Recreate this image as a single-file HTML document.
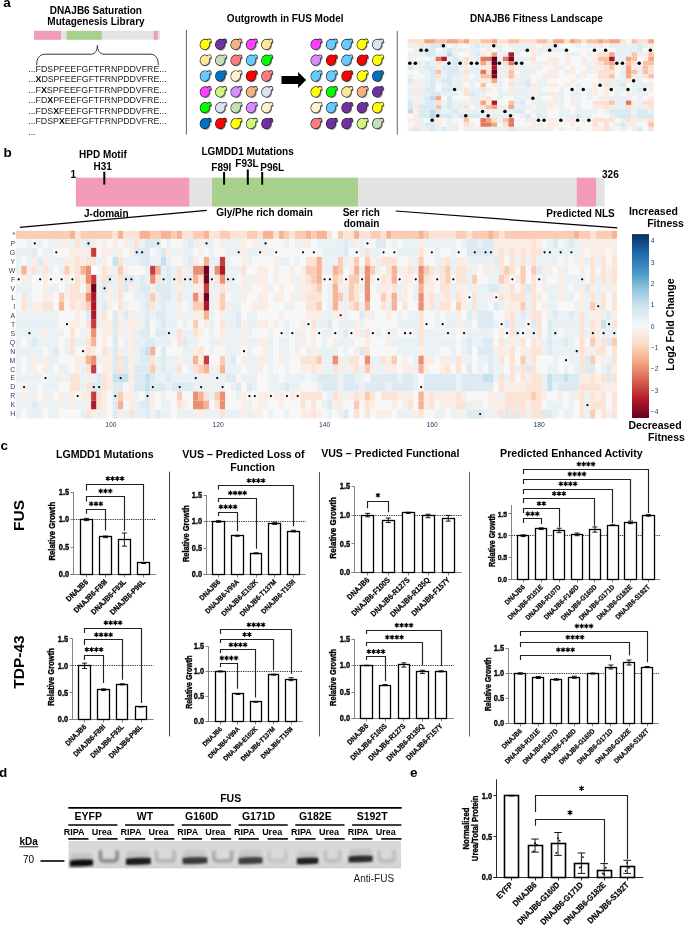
<!DOCTYPE html>
<html><head><meta charset="utf-8"><title>DNAJB6 figure</title>
<style>html,body{margin:0;padding:0;background:#fff;}body{width:685px;height:927px;overflow:hidden;font-family:"Liberation Sans",sans-serif;}svg{display:block;will-change:transform;}</style>
</head><body>
<svg width="685" height="927" viewBox="0 0 685 927" font-family='"Liberation Sans", sans-serif'><text x="3.2" y="7.4" font-size="13.5" font-weight="bold" text-anchor="start" fill="#000">a</text>
<text x="95.8" y="13.6" font-size="10" font-weight="bold" text-anchor="middle" fill="#000">DNAJB6 Saturation</text>
<text x="96" y="25" font-size="10" font-weight="bold" text-anchor="middle" fill="#000">Mutagenesis Library</text>
<rect x="34" y="30.8" width="126" height="8.9" fill="#e3e3e3"/>
<rect x="34" y="30.8" width="27" height="8.9" fill="#f29bbb"/>
<rect x="66.7" y="30.8" width="35.1" height="8.9" fill="#a9d18e"/>
<rect x="153.6" y="30.8" width="4.2" height="8.9" fill="#f29bbb"/>
<path d="M36.7,65 C36.7,58.5 39,54.2 46,54.2 L91,54.2 C95.5,54.2 97.4,50 97.4,45.2 C97.4,50 99.5,54.2 104,54.2 L150,54.2 C156,54.2 158.3,58.5 158.3,65" fill="none" stroke="#333" stroke-width="1"/>
<text x="28.2" y="71.9" font-size="8.8" fill="#222" textLength="138.5" lengthAdjust="spacingAndGlyphs">...FDSPFEEFGFTFRNPDDVFRE...</text>
<text x="28.2" y="82.38" font-size="8.8" fill="#222" textLength="138.5" lengthAdjust="spacingAndGlyphs">...<tspan font-weight="bold" fill="#000">X</tspan>DSPFEEFGFTFRNPDDVFRE...</text>
<text x="28.2" y="92.86" font-size="8.8" fill="#222" textLength="138.5" lengthAdjust="spacingAndGlyphs">...F<tspan font-weight="bold" fill="#000">X</tspan>SPFEEFGFTFRNPDDVFRE...</text>
<text x="28.2" y="103.34" font-size="8.8" fill="#222" textLength="138.5" lengthAdjust="spacingAndGlyphs">...FD<tspan font-weight="bold" fill="#000">X</tspan>PFEEFGFTFRNPDDVFRE...</text>
<text x="28.2" y="113.82" font-size="8.8" fill="#222" textLength="138.5" lengthAdjust="spacingAndGlyphs">...FDS<tspan font-weight="bold" fill="#000">X</tspan>FEEFGFTFRNPDDVFRE...</text>
<text x="28.2" y="124.3" font-size="8.8" fill="#222" textLength="138.5" lengthAdjust="spacingAndGlyphs">...FDSP<tspan font-weight="bold" fill="#000">X</tspan>EEFGFTFRNPDDVFRE...</text>
<text x="28.2" y="135.1" font-size="8.8" fill="#222">...</text>
<line x1="186.4" y1="29.9" x2="186.4" y2="134.6" stroke="#666" stroke-width="1"/>
<line x1="397.3" y1="30.9" x2="397.3" y2="134.6" stroke="#6a6a6a" stroke-width="1"/>
<text x="285.2" y="21.6" font-size="10" font-weight="bold" text-anchor="middle" fill="#000">Outgrowth in FUS Model</text>
<text x="536.4" y="22.4" font-size="10" font-weight="bold" text-anchor="middle" fill="#000">DNAJB6 Fitness Landscape</text>
<defs><filter id="sh" x="-30%" y="-30%" width="160%" height="160%"><feGaussianBlur stdDeviation="0.7"/></filter></defs>
<g fill="#444" opacity="0.6" filter="url(#sh)" transform="translate(1.2,1.3)"><ellipse cx="204.85" cy="44.3" rx="4.45" ry="4.95" transform="rotate(20 204.85 44.3)"/><circle cx="209.2" cy="40.9" r="1.7"/></g>
<g fill="none" stroke="#1a1a1a" stroke-width="1.25"><ellipse cx="204.85" cy="44.3" rx="4.45" ry="4.95" transform="rotate(20 204.85 44.3)"/><circle cx="209.2" cy="40.9" r="1.7"/></g>
<g fill="#ffff00"><ellipse cx="204.85" cy="44.3" rx="4.45" ry="4.95" transform="rotate(20 204.85 44.3)"/><circle cx="209.2" cy="40.9" r="1.7"/></g>
<g fill="#444" opacity="0.6" filter="url(#sh)" transform="translate(1.2,1.3)"><ellipse cx="220.23" cy="44.3" rx="4.45" ry="4.95" transform="rotate(20 220.23 44.3)"/><circle cx="224.58" cy="40.9" r="1.7"/></g>
<g fill="none" stroke="#1a1a1a" stroke-width="1.25"><ellipse cx="220.23" cy="44.3" rx="4.45" ry="4.95" transform="rotate(20 220.23 44.3)"/><circle cx="224.58" cy="40.9" r="1.7"/></g>
<g fill="#7030a0"><ellipse cx="220.23" cy="44.3" rx="4.45" ry="4.95" transform="rotate(20 220.23 44.3)"/><circle cx="224.58" cy="40.9" r="1.7"/></g>
<g fill="#444" opacity="0.6" filter="url(#sh)" transform="translate(1.2,1.3)"><ellipse cx="235.61" cy="44.3" rx="4.45" ry="4.95" transform="rotate(20 235.61 44.3)"/><circle cx="239.96" cy="40.9" r="1.7"/></g>
<g fill="none" stroke="#1a1a1a" stroke-width="1.25"><ellipse cx="235.61" cy="44.3" rx="4.45" ry="4.95" transform="rotate(20 235.61 44.3)"/><circle cx="239.96" cy="40.9" r="1.7"/></g>
<g fill="#f4b183"><ellipse cx="235.61" cy="44.3" rx="4.45" ry="4.95" transform="rotate(20 235.61 44.3)"/><circle cx="239.96" cy="40.9" r="1.7"/></g>
<g fill="#444" opacity="0.6" filter="url(#sh)" transform="translate(1.2,1.3)"><ellipse cx="250.99" cy="44.3" rx="4.45" ry="4.95" transform="rotate(20 250.99 44.3)"/><circle cx="255.34" cy="40.9" r="1.7"/></g>
<g fill="none" stroke="#1a1a1a" stroke-width="1.25"><ellipse cx="250.99" cy="44.3" rx="4.45" ry="4.95" transform="rotate(20 250.99 44.3)"/><circle cx="255.34" cy="40.9" r="1.7"/></g>
<g fill="#ff40ff"><ellipse cx="250.99" cy="44.3" rx="4.45" ry="4.95" transform="rotate(20 250.99 44.3)"/><circle cx="255.34" cy="40.9" r="1.7"/></g>
<g fill="#444" opacity="0.6" filter="url(#sh)" transform="translate(1.2,1.3)"><ellipse cx="266.37" cy="44.3" rx="4.45" ry="4.95" transform="rotate(20 266.37 44.3)"/><circle cx="270.72" cy="40.9" r="1.7"/></g>
<g fill="none" stroke="#1a1a1a" stroke-width="1.25"><ellipse cx="266.37" cy="44.3" rx="4.45" ry="4.95" transform="rotate(20 266.37 44.3)"/><circle cx="270.72" cy="40.9" r="1.7"/></g>
<g fill="#ffe699"><ellipse cx="266.37" cy="44.3" rx="4.45" ry="4.95" transform="rotate(20 266.37 44.3)"/><circle cx="270.72" cy="40.9" r="1.7"/></g>
<g fill="#444" opacity="0.6" filter="url(#sh)" transform="translate(1.2,1.3)"><ellipse cx="204.85" cy="60.14" rx="4.45" ry="4.95" transform="rotate(20 204.85 60.14)"/><circle cx="209.2" cy="56.74" r="1.7"/></g>
<g fill="none" stroke="#1a1a1a" stroke-width="1.25"><ellipse cx="204.85" cy="60.14" rx="4.45" ry="4.95" transform="rotate(20 204.85 60.14)"/><circle cx="209.2" cy="56.74" r="1.7"/></g>
<g fill="#ffe699"><ellipse cx="204.85" cy="60.14" rx="4.45" ry="4.95" transform="rotate(20 204.85 60.14)"/><circle cx="209.2" cy="56.74" r="1.7"/></g>
<g fill="#444" opacity="0.6" filter="url(#sh)" transform="translate(1.2,1.3)"><ellipse cx="220.23" cy="60.14" rx="4.45" ry="4.95" transform="rotate(20 220.23 60.14)"/><circle cx="224.58" cy="56.74" r="1.7"/></g>
<g fill="none" stroke="#1a1a1a" stroke-width="1.25"><ellipse cx="220.23" cy="60.14" rx="4.45" ry="4.95" transform="rotate(20 220.23 60.14)"/><circle cx="224.58" cy="56.74" r="1.7"/></g>
<g fill="#c5e0b4"><ellipse cx="220.23" cy="60.14" rx="4.45" ry="4.95" transform="rotate(20 220.23 60.14)"/><circle cx="224.58" cy="56.74" r="1.7"/></g>
<g fill="#444" opacity="0.6" filter="url(#sh)" transform="translate(1.2,1.3)"><ellipse cx="235.61" cy="60.14" rx="4.45" ry="4.95" transform="rotate(20 235.61 60.14)"/><circle cx="239.96" cy="56.74" r="1.7"/></g>
<g fill="none" stroke="#1a1a1a" stroke-width="1.25"><ellipse cx="235.61" cy="60.14" rx="4.45" ry="4.95" transform="rotate(20 235.61 60.14)"/><circle cx="239.96" cy="56.74" r="1.7"/></g>
<g fill="#ff7c80"><ellipse cx="235.61" cy="60.14" rx="4.45" ry="4.95" transform="rotate(20 235.61 60.14)"/><circle cx="239.96" cy="56.74" r="1.7"/></g>
<g fill="#444" opacity="0.6" filter="url(#sh)" transform="translate(1.2,1.3)"><ellipse cx="250.99" cy="60.14" rx="4.45" ry="4.95" transform="rotate(20 250.99 60.14)"/><circle cx="255.34" cy="56.74" r="1.7"/></g>
<g fill="none" stroke="#1a1a1a" stroke-width="1.25"><ellipse cx="250.99" cy="60.14" rx="4.45" ry="4.95" transform="rotate(20 250.99 60.14)"/><circle cx="255.34" cy="56.74" r="1.7"/></g>
<g fill="#66ccff"><ellipse cx="250.99" cy="60.14" rx="4.45" ry="4.95" transform="rotate(20 250.99 60.14)"/><circle cx="255.34" cy="56.74" r="1.7"/></g>
<g fill="#444" opacity="0.6" filter="url(#sh)" transform="translate(1.2,1.3)"><ellipse cx="266.37" cy="60.14" rx="4.45" ry="4.95" transform="rotate(20 266.37 60.14)"/><circle cx="270.72" cy="56.74" r="1.7"/></g>
<g fill="none" stroke="#1a1a1a" stroke-width="1.25"><ellipse cx="266.37" cy="60.14" rx="4.45" ry="4.95" transform="rotate(20 266.37 60.14)"/><circle cx="270.72" cy="56.74" r="1.7"/></g>
<g fill="#00ff00"><ellipse cx="266.37" cy="60.14" rx="4.45" ry="4.95" transform="rotate(20 266.37 60.14)"/><circle cx="270.72" cy="56.74" r="1.7"/></g>
<g fill="#444" opacity="0.6" filter="url(#sh)" transform="translate(1.2,1.3)"><ellipse cx="204.85" cy="75.98" rx="4.45" ry="4.95" transform="rotate(20 204.85 75.98)"/><circle cx="209.2" cy="72.58" r="1.7"/></g>
<g fill="none" stroke="#1a1a1a" stroke-width="1.25"><ellipse cx="204.85" cy="75.98" rx="4.45" ry="4.95" transform="rotate(20 204.85 75.98)"/><circle cx="209.2" cy="72.58" r="1.7"/></g>
<g fill="#66ccff"><ellipse cx="204.85" cy="75.98" rx="4.45" ry="4.95" transform="rotate(20 204.85 75.98)"/><circle cx="209.2" cy="72.58" r="1.7"/></g>
<g fill="#444" opacity="0.6" filter="url(#sh)" transform="translate(1.2,1.3)"><ellipse cx="220.23" cy="75.98" rx="4.45" ry="4.95" transform="rotate(20 220.23 75.98)"/><circle cx="224.58" cy="72.58" r="1.7"/></g>
<g fill="none" stroke="#1a1a1a" stroke-width="1.25"><ellipse cx="220.23" cy="75.98" rx="4.45" ry="4.95" transform="rotate(20 220.23 75.98)"/><circle cx="224.58" cy="72.58" r="1.7"/></g>
<g fill="#0070c0"><ellipse cx="220.23" cy="75.98" rx="4.45" ry="4.95" transform="rotate(20 220.23 75.98)"/><circle cx="224.58" cy="72.58" r="1.7"/></g>
<g fill="#444" opacity="0.6" filter="url(#sh)" transform="translate(1.2,1.3)"><ellipse cx="235.61" cy="75.98" rx="4.45" ry="4.95" transform="rotate(20 235.61 75.98)"/><circle cx="239.96" cy="72.58" r="1.7"/></g>
<g fill="none" stroke="#1a1a1a" stroke-width="1.25"><ellipse cx="235.61" cy="75.98" rx="4.45" ry="4.95" transform="rotate(20 235.61 75.98)"/><circle cx="239.96" cy="72.58" r="1.7"/></g>
<g fill="#fff2cc"><ellipse cx="235.61" cy="75.98" rx="4.45" ry="4.95" transform="rotate(20 235.61 75.98)"/><circle cx="239.96" cy="72.58" r="1.7"/></g>
<g fill="#444" opacity="0.6" filter="url(#sh)" transform="translate(1.2,1.3)"><ellipse cx="250.99" cy="75.98" rx="4.45" ry="4.95" transform="rotate(20 250.99 75.98)"/><circle cx="255.34" cy="72.58" r="1.7"/></g>
<g fill="none" stroke="#1a1a1a" stroke-width="1.25"><ellipse cx="250.99" cy="75.98" rx="4.45" ry="4.95" transform="rotate(20 250.99 75.98)"/><circle cx="255.34" cy="72.58" r="1.7"/></g>
<g fill="#ff0000"><ellipse cx="250.99" cy="75.98" rx="4.45" ry="4.95" transform="rotate(20 250.99 75.98)"/><circle cx="255.34" cy="72.58" r="1.7"/></g>
<g fill="#444" opacity="0.6" filter="url(#sh)" transform="translate(1.2,1.3)"><ellipse cx="266.37" cy="75.98" rx="4.45" ry="4.95" transform="rotate(20 266.37 75.98)"/><circle cx="270.72" cy="72.58" r="1.7"/></g>
<g fill="none" stroke="#1a1a1a" stroke-width="1.25"><ellipse cx="266.37" cy="75.98" rx="4.45" ry="4.95" transform="rotate(20 266.37 75.98)"/><circle cx="270.72" cy="72.58" r="1.7"/></g>
<g fill="#ff7c80"><ellipse cx="266.37" cy="75.98" rx="4.45" ry="4.95" transform="rotate(20 266.37 75.98)"/><circle cx="270.72" cy="72.58" r="1.7"/></g>
<g fill="#444" opacity="0.6" filter="url(#sh)" transform="translate(1.2,1.3)"><ellipse cx="204.85" cy="91.82" rx="4.45" ry="4.95" transform="rotate(20 204.85 91.82)"/><circle cx="209.2" cy="88.42" r="1.7"/></g>
<g fill="none" stroke="#1a1a1a" stroke-width="1.25"><ellipse cx="204.85" cy="91.82" rx="4.45" ry="4.95" transform="rotate(20 204.85 91.82)"/><circle cx="209.2" cy="88.42" r="1.7"/></g>
<g fill="#ff40ff"><ellipse cx="204.85" cy="91.82" rx="4.45" ry="4.95" transform="rotate(20 204.85 91.82)"/><circle cx="209.2" cy="88.42" r="1.7"/></g>
<g fill="#444" opacity="0.6" filter="url(#sh)" transform="translate(1.2,1.3)"><ellipse cx="220.23" cy="91.82" rx="4.45" ry="4.95" transform="rotate(20 220.23 91.82)"/><circle cx="224.58" cy="88.42" r="1.7"/></g>
<g fill="none" stroke="#1a1a1a" stroke-width="1.25"><ellipse cx="220.23" cy="91.82" rx="4.45" ry="4.95" transform="rotate(20 220.23 91.82)"/><circle cx="224.58" cy="88.42" r="1.7"/></g>
<g fill="#d2f57d"><ellipse cx="220.23" cy="91.82" rx="4.45" ry="4.95" transform="rotate(20 220.23 91.82)"/><circle cx="224.58" cy="88.42" r="1.7"/></g>
<g fill="#444" opacity="0.6" filter="url(#sh)" transform="translate(1.2,1.3)"><ellipse cx="235.61" cy="91.82" rx="4.45" ry="4.95" transform="rotate(20 235.61 91.82)"/><circle cx="239.96" cy="88.42" r="1.7"/></g>
<g fill="none" stroke="#1a1a1a" stroke-width="1.25"><ellipse cx="235.61" cy="91.82" rx="4.45" ry="4.95" transform="rotate(20 235.61 91.82)"/><circle cx="239.96" cy="88.42" r="1.7"/></g>
<g fill="#d98cff"><ellipse cx="235.61" cy="91.82" rx="4.45" ry="4.95" transform="rotate(20 235.61 91.82)"/><circle cx="239.96" cy="88.42" r="1.7"/></g>
<g fill="#444" opacity="0.6" filter="url(#sh)" transform="translate(1.2,1.3)"><ellipse cx="250.99" cy="91.82" rx="4.45" ry="4.95" transform="rotate(20 250.99 91.82)"/><circle cx="255.34" cy="88.42" r="1.7"/></g>
<g fill="none" stroke="#1a1a1a" stroke-width="1.25"><ellipse cx="250.99" cy="91.82" rx="4.45" ry="4.95" transform="rotate(20 250.99 91.82)"/><circle cx="255.34" cy="88.42" r="1.7"/></g>
<g fill="#f4b183"><ellipse cx="250.99" cy="91.82" rx="4.45" ry="4.95" transform="rotate(20 250.99 91.82)"/><circle cx="255.34" cy="88.42" r="1.7"/></g>
<g fill="#444" opacity="0.6" filter="url(#sh)" transform="translate(1.2,1.3)"><ellipse cx="266.37" cy="91.82" rx="4.45" ry="4.95" transform="rotate(20 266.37 91.82)"/><circle cx="270.72" cy="88.42" r="1.7"/></g>
<g fill="none" stroke="#1a1a1a" stroke-width="1.25"><ellipse cx="266.37" cy="91.82" rx="4.45" ry="4.95" transform="rotate(20 266.37 91.82)"/><circle cx="270.72" cy="88.42" r="1.7"/></g>
<g fill="#dae3f3"><ellipse cx="266.37" cy="91.82" rx="4.45" ry="4.95" transform="rotate(20 266.37 91.82)"/><circle cx="270.72" cy="88.42" r="1.7"/></g>
<g fill="#444" opacity="0.6" filter="url(#sh)" transform="translate(1.2,1.3)"><ellipse cx="204.85" cy="107.66" rx="4.45" ry="4.95" transform="rotate(20 204.85 107.66)"/><circle cx="209.2" cy="104.26" r="1.7"/></g>
<g fill="none" stroke="#1a1a1a" stroke-width="1.25"><ellipse cx="204.85" cy="107.66" rx="4.45" ry="4.95" transform="rotate(20 204.85 107.66)"/><circle cx="209.2" cy="104.26" r="1.7"/></g>
<g fill="#00ff00"><ellipse cx="204.85" cy="107.66" rx="4.45" ry="4.95" transform="rotate(20 204.85 107.66)"/><circle cx="209.2" cy="104.26" r="1.7"/></g>
<g fill="#444" opacity="0.6" filter="url(#sh)" transform="translate(1.2,1.3)"><ellipse cx="220.23" cy="107.66" rx="4.45" ry="4.95" transform="rotate(20 220.23 107.66)"/><circle cx="224.58" cy="104.26" r="1.7"/></g>
<g fill="none" stroke="#1a1a1a" stroke-width="1.25"><ellipse cx="220.23" cy="107.66" rx="4.45" ry="4.95" transform="rotate(20 220.23 107.66)"/><circle cx="224.58" cy="104.26" r="1.7"/></g>
<g fill="#dae3f3"><ellipse cx="220.23" cy="107.66" rx="4.45" ry="4.95" transform="rotate(20 220.23 107.66)"/><circle cx="224.58" cy="104.26" r="1.7"/></g>
<g fill="#444" opacity="0.6" filter="url(#sh)" transform="translate(1.2,1.3)"><ellipse cx="235.61" cy="107.66" rx="4.45" ry="4.95" transform="rotate(20 235.61 107.66)"/><circle cx="239.96" cy="104.26" r="1.7"/></g>
<g fill="none" stroke="#1a1a1a" stroke-width="1.25"><ellipse cx="235.61" cy="107.66" rx="4.45" ry="4.95" transform="rotate(20 235.61 107.66)"/><circle cx="239.96" cy="104.26" r="1.7"/></g>
<g fill="#c5e0b4"><ellipse cx="235.61" cy="107.66" rx="4.45" ry="4.95" transform="rotate(20 235.61 107.66)"/><circle cx="239.96" cy="104.26" r="1.7"/></g>
<g fill="#444" opacity="0.6" filter="url(#sh)" transform="translate(1.2,1.3)"><ellipse cx="250.99" cy="107.66" rx="4.45" ry="4.95" transform="rotate(20 250.99 107.66)"/><circle cx="255.34" cy="104.26" r="1.7"/></g>
<g fill="none" stroke="#1a1a1a" stroke-width="1.25"><ellipse cx="250.99" cy="107.66" rx="4.45" ry="4.95" transform="rotate(20 250.99 107.66)"/><circle cx="255.34" cy="104.26" r="1.7"/></g>
<g fill="#d98cff"><ellipse cx="250.99" cy="107.66" rx="4.45" ry="4.95" transform="rotate(20 250.99 107.66)"/><circle cx="255.34" cy="104.26" r="1.7"/></g>
<g fill="#444" opacity="0.6" filter="url(#sh)" transform="translate(1.2,1.3)"><ellipse cx="266.37" cy="107.66" rx="4.45" ry="4.95" transform="rotate(20 266.37 107.66)"/><circle cx="270.72" cy="104.26" r="1.7"/></g>
<g fill="none" stroke="#1a1a1a" stroke-width="1.25"><ellipse cx="266.37" cy="107.66" rx="4.45" ry="4.95" transform="rotate(20 266.37 107.66)"/><circle cx="270.72" cy="104.26" r="1.7"/></g>
<g fill="#fff2cc"><ellipse cx="266.37" cy="107.66" rx="4.45" ry="4.95" transform="rotate(20 266.37 107.66)"/><circle cx="270.72" cy="104.26" r="1.7"/></g>
<g fill="#444" opacity="0.6" filter="url(#sh)" transform="translate(1.2,1.3)"><ellipse cx="204.85" cy="123.5" rx="4.45" ry="4.95" transform="rotate(20 204.85 123.5)"/><circle cx="209.2" cy="120.1" r="1.7"/></g>
<g fill="none" stroke="#1a1a1a" stroke-width="1.25"><ellipse cx="204.85" cy="123.5" rx="4.45" ry="4.95" transform="rotate(20 204.85 123.5)"/><circle cx="209.2" cy="120.1" r="1.7"/></g>
<g fill="#0070c0"><ellipse cx="204.85" cy="123.5" rx="4.45" ry="4.95" transform="rotate(20 204.85 123.5)"/><circle cx="209.2" cy="120.1" r="1.7"/></g>
<g fill="#444" opacity="0.6" filter="url(#sh)" transform="translate(1.2,1.3)"><ellipse cx="220.23" cy="123.5" rx="4.45" ry="4.95" transform="rotate(20 220.23 123.5)"/><circle cx="224.58" cy="120.1" r="1.7"/></g>
<g fill="none" stroke="#1a1a1a" stroke-width="1.25"><ellipse cx="220.23" cy="123.5" rx="4.45" ry="4.95" transform="rotate(20 220.23 123.5)"/><circle cx="224.58" cy="120.1" r="1.7"/></g>
<g fill="#ff0000"><ellipse cx="220.23" cy="123.5" rx="4.45" ry="4.95" transform="rotate(20 220.23 123.5)"/><circle cx="224.58" cy="120.1" r="1.7"/></g>
<g fill="#444" opacity="0.6" filter="url(#sh)" transform="translate(1.2,1.3)"><ellipse cx="235.61" cy="123.5" rx="4.45" ry="4.95" transform="rotate(20 235.61 123.5)"/><circle cx="239.96" cy="120.1" r="1.7"/></g>
<g fill="none" stroke="#1a1a1a" stroke-width="1.25"><ellipse cx="235.61" cy="123.5" rx="4.45" ry="4.95" transform="rotate(20 235.61 123.5)"/><circle cx="239.96" cy="120.1" r="1.7"/></g>
<g fill="#ffff00"><ellipse cx="235.61" cy="123.5" rx="4.45" ry="4.95" transform="rotate(20 235.61 123.5)"/><circle cx="239.96" cy="120.1" r="1.7"/></g>
<g fill="#444" opacity="0.6" filter="url(#sh)" transform="translate(1.2,1.3)"><ellipse cx="250.99" cy="123.5" rx="4.45" ry="4.95" transform="rotate(20 250.99 123.5)"/><circle cx="255.34" cy="120.1" r="1.7"/></g>
<g fill="none" stroke="#1a1a1a" stroke-width="1.25"><ellipse cx="250.99" cy="123.5" rx="4.45" ry="4.95" transform="rotate(20 250.99 123.5)"/><circle cx="255.34" cy="120.1" r="1.7"/></g>
<g fill="#d2f57d"><ellipse cx="250.99" cy="123.5" rx="4.45" ry="4.95" transform="rotate(20 250.99 123.5)"/><circle cx="255.34" cy="120.1" r="1.7"/></g>
<g fill="#444" opacity="0.6" filter="url(#sh)" transform="translate(1.2,1.3)"><ellipse cx="266.37" cy="123.5" rx="4.45" ry="4.95" transform="rotate(20 266.37 123.5)"/><circle cx="270.72" cy="120.1" r="1.7"/></g>
<g fill="none" stroke="#1a1a1a" stroke-width="1.25"><ellipse cx="266.37" cy="123.5" rx="4.45" ry="4.95" transform="rotate(20 266.37 123.5)"/><circle cx="270.72" cy="120.1" r="1.7"/></g>
<g fill="#7030a0"><ellipse cx="266.37" cy="123.5" rx="4.45" ry="4.95" transform="rotate(20 266.37 123.5)"/><circle cx="270.72" cy="120.1" r="1.7"/></g>
<g fill="#444" opacity="0.6" filter="url(#sh)" transform="translate(1.2,1.3)"><ellipse cx="315.65" cy="44.3" rx="4.45" ry="4.95" transform="rotate(20 315.65 44.3)"/><circle cx="320" cy="40.9" r="1.7"/></g>
<g fill="none" stroke="#1a1a1a" stroke-width="1.25"><ellipse cx="315.65" cy="44.3" rx="4.45" ry="4.95" transform="rotate(20 315.65 44.3)"/><circle cx="320" cy="40.9" r="1.7"/></g>
<g fill="#ff40ff"><ellipse cx="315.65" cy="44.3" rx="4.45" ry="4.95" transform="rotate(20 315.65 44.3)"/><circle cx="320" cy="40.9" r="1.7"/></g>
<g fill="#444" opacity="0.6" filter="url(#sh)" transform="translate(1.2,1.3)"><ellipse cx="331.03" cy="44.3" rx="4.45" ry="4.95" transform="rotate(20 331.03 44.3)"/><circle cx="335.38" cy="40.9" r="1.7"/></g>
<g fill="none" stroke="#1a1a1a" stroke-width="1.25"><ellipse cx="331.03" cy="44.3" rx="4.45" ry="4.95" transform="rotate(20 331.03 44.3)"/><circle cx="335.38" cy="40.9" r="1.7"/></g>
<g fill="#66ccff"><ellipse cx="331.03" cy="44.3" rx="4.45" ry="4.95" transform="rotate(20 331.03 44.3)"/><circle cx="335.38" cy="40.9" r="1.7"/></g>
<g fill="#444" opacity="0.6" filter="url(#sh)" transform="translate(1.2,1.3)"><ellipse cx="346.41" cy="44.3" rx="4.45" ry="4.95" transform="rotate(20 346.41 44.3)"/><circle cx="350.76" cy="40.9" r="1.7"/></g>
<g fill="none" stroke="#1a1a1a" stroke-width="1.25"><ellipse cx="346.41" cy="44.3" rx="4.45" ry="4.95" transform="rotate(20 346.41 44.3)"/><circle cx="350.76" cy="40.9" r="1.7"/></g>
<g fill="#66ccff"><ellipse cx="346.41" cy="44.3" rx="4.45" ry="4.95" transform="rotate(20 346.41 44.3)"/><circle cx="350.76" cy="40.9" r="1.7"/></g>
<g fill="#444" opacity="0.6" filter="url(#sh)" transform="translate(1.2,1.3)"><ellipse cx="361.79" cy="44.3" rx="4.45" ry="4.95" transform="rotate(20 361.79 44.3)"/><circle cx="366.14" cy="40.9" r="1.7"/></g>
<g fill="none" stroke="#1a1a1a" stroke-width="1.25"><ellipse cx="361.79" cy="44.3" rx="4.45" ry="4.95" transform="rotate(20 361.79 44.3)"/><circle cx="366.14" cy="40.9" r="1.7"/></g>
<g fill="#ffff00"><ellipse cx="361.79" cy="44.3" rx="4.45" ry="4.95" transform="rotate(20 361.79 44.3)"/><circle cx="366.14" cy="40.9" r="1.7"/></g>
<g fill="#444" opacity="0.6" filter="url(#sh)" transform="translate(1.2,1.3)"><ellipse cx="377.17" cy="44.3" rx="4.45" ry="4.95" transform="rotate(20 377.17 44.3)"/><circle cx="381.52" cy="40.9" r="1.7"/></g>
<g fill="none" stroke="#1a1a1a" stroke-width="1.25"><ellipse cx="377.17" cy="44.3" rx="4.45" ry="4.95" transform="rotate(20 377.17 44.3)"/><circle cx="381.52" cy="40.9" r="1.7"/></g>
<g fill="#dae3f3"><ellipse cx="377.17" cy="44.3" rx="4.45" ry="4.95" transform="rotate(20 377.17 44.3)"/><circle cx="381.52" cy="40.9" r="1.7"/></g>
<g fill="#444" opacity="0.6" filter="url(#sh)" transform="translate(1.2,1.3)"><ellipse cx="315.65" cy="60.14" rx="4.45" ry="4.95" transform="rotate(20 315.65 60.14)"/><circle cx="320" cy="56.74" r="1.7"/></g>
<g fill="none" stroke="#1a1a1a" stroke-width="1.25"><ellipse cx="315.65" cy="60.14" rx="4.45" ry="4.95" transform="rotate(20 315.65 60.14)"/><circle cx="320" cy="56.74" r="1.7"/></g>
<g fill="#d98cff"><ellipse cx="315.65" cy="60.14" rx="4.45" ry="4.95" transform="rotate(20 315.65 60.14)"/><circle cx="320" cy="56.74" r="1.7"/></g>
<g fill="#444" opacity="0.6" filter="url(#sh)" transform="translate(1.2,1.3)"><ellipse cx="331.03" cy="60.14" rx="4.45" ry="4.95" transform="rotate(20 331.03 60.14)"/><circle cx="335.38" cy="56.74" r="1.7"/></g>
<g fill="none" stroke="#1a1a1a" stroke-width="1.25"><ellipse cx="331.03" cy="60.14" rx="4.45" ry="4.95" transform="rotate(20 331.03 60.14)"/><circle cx="335.38" cy="56.74" r="1.7"/></g>
<g fill="#ff0000"><ellipse cx="331.03" cy="60.14" rx="4.45" ry="4.95" transform="rotate(20 331.03 60.14)"/><circle cx="335.38" cy="56.74" r="1.7"/></g>
<g fill="#444" opacity="0.6" filter="url(#sh)" transform="translate(1.2,1.3)"><ellipse cx="346.41" cy="60.14" rx="4.45" ry="4.95" transform="rotate(20 346.41 60.14)"/><circle cx="350.76" cy="56.74" r="1.7"/></g>
<g fill="none" stroke="#1a1a1a" stroke-width="1.25"><ellipse cx="346.41" cy="60.14" rx="4.45" ry="4.95" transform="rotate(20 346.41 60.14)"/><circle cx="350.76" cy="56.74" r="1.7"/></g>
<g fill="#66ccff"><ellipse cx="346.41" cy="60.14" rx="4.45" ry="4.95" transform="rotate(20 346.41 60.14)"/><circle cx="350.76" cy="56.74" r="1.7"/></g>
<g fill="#444" opacity="0.6" filter="url(#sh)" transform="translate(1.2,1.3)"><ellipse cx="361.79" cy="60.14" rx="4.45" ry="4.95" transform="rotate(20 361.79 60.14)"/><circle cx="366.14" cy="56.74" r="1.7"/></g>
<g fill="none" stroke="#1a1a1a" stroke-width="1.25"><ellipse cx="361.79" cy="60.14" rx="4.45" ry="4.95" transform="rotate(20 361.79 60.14)"/><circle cx="366.14" cy="56.74" r="1.7"/></g>
<g fill="#ff0000"><ellipse cx="361.79" cy="60.14" rx="4.45" ry="4.95" transform="rotate(20 361.79 60.14)"/><circle cx="366.14" cy="56.74" r="1.7"/></g>
<g fill="#444" opacity="0.6" filter="url(#sh)" transform="translate(1.2,1.3)"><ellipse cx="377.17" cy="60.14" rx="4.45" ry="4.95" transform="rotate(20 377.17 60.14)"/><circle cx="381.52" cy="56.74" r="1.7"/></g>
<g fill="none" stroke="#1a1a1a" stroke-width="1.25"><ellipse cx="377.17" cy="60.14" rx="4.45" ry="4.95" transform="rotate(20 377.17 60.14)"/><circle cx="381.52" cy="56.74" r="1.7"/></g>
<g fill="#ffff00"><ellipse cx="377.17" cy="60.14" rx="4.45" ry="4.95" transform="rotate(20 377.17 60.14)"/><circle cx="381.52" cy="56.74" r="1.7"/></g>
<g fill="#444" opacity="0.6" filter="url(#sh)" transform="translate(1.2,1.3)"><ellipse cx="315.65" cy="75.98" rx="4.45" ry="4.95" transform="rotate(20 315.65 75.98)"/><circle cx="320" cy="72.58" r="1.7"/></g>
<g fill="none" stroke="#1a1a1a" stroke-width="1.25"><ellipse cx="315.65" cy="75.98" rx="4.45" ry="4.95" transform="rotate(20 315.65 75.98)"/><circle cx="320" cy="72.58" r="1.7"/></g>
<g fill="#66ccff"><ellipse cx="315.65" cy="75.98" rx="4.45" ry="4.95" transform="rotate(20 315.65 75.98)"/><circle cx="320" cy="72.58" r="1.7"/></g>
<g fill="#444" opacity="0.6" filter="url(#sh)" transform="translate(1.2,1.3)"><ellipse cx="331.03" cy="75.98" rx="4.45" ry="4.95" transform="rotate(20 331.03 75.98)"/><circle cx="335.38" cy="72.58" r="1.7"/></g>
<g fill="none" stroke="#1a1a1a" stroke-width="1.25"><ellipse cx="331.03" cy="75.98" rx="4.45" ry="4.95" transform="rotate(20 331.03 75.98)"/><circle cx="335.38" cy="72.58" r="1.7"/></g>
<g fill="#66ccff"><ellipse cx="331.03" cy="75.98" rx="4.45" ry="4.95" transform="rotate(20 331.03 75.98)"/><circle cx="335.38" cy="72.58" r="1.7"/></g>
<g fill="#444" opacity="0.6" filter="url(#sh)" transform="translate(1.2,1.3)"><ellipse cx="346.41" cy="75.98" rx="4.45" ry="4.95" transform="rotate(20 346.41 75.98)"/><circle cx="350.76" cy="72.58" r="1.7"/></g>
<g fill="none" stroke="#1a1a1a" stroke-width="1.25"><ellipse cx="346.41" cy="75.98" rx="4.45" ry="4.95" transform="rotate(20 346.41 75.98)"/><circle cx="350.76" cy="72.58" r="1.7"/></g>
<g fill="#ff0000"><ellipse cx="346.41" cy="75.98" rx="4.45" ry="4.95" transform="rotate(20 346.41 75.98)"/><circle cx="350.76" cy="72.58" r="1.7"/></g>
<g fill="#444" opacity="0.6" filter="url(#sh)" transform="translate(1.2,1.3)"><ellipse cx="361.79" cy="75.98" rx="4.45" ry="4.95" transform="rotate(20 361.79 75.98)"/><circle cx="366.14" cy="72.58" r="1.7"/></g>
<g fill="none" stroke="#1a1a1a" stroke-width="1.25"><ellipse cx="361.79" cy="75.98" rx="4.45" ry="4.95" transform="rotate(20 361.79 75.98)"/><circle cx="366.14" cy="72.58" r="1.7"/></g>
<g fill="#ffff00"><ellipse cx="361.79" cy="75.98" rx="4.45" ry="4.95" transform="rotate(20 361.79 75.98)"/><circle cx="366.14" cy="72.58" r="1.7"/></g>
<g fill="#444" opacity="0.6" filter="url(#sh)" transform="translate(1.2,1.3)"><ellipse cx="377.17" cy="75.98" rx="4.45" ry="4.95" transform="rotate(20 377.17 75.98)"/><circle cx="381.52" cy="72.58" r="1.7"/></g>
<g fill="none" stroke="#1a1a1a" stroke-width="1.25"><ellipse cx="377.17" cy="75.98" rx="4.45" ry="4.95" transform="rotate(20 377.17 75.98)"/><circle cx="381.52" cy="72.58" r="1.7"/></g>
<g fill="#0070c0"><ellipse cx="377.17" cy="75.98" rx="4.45" ry="4.95" transform="rotate(20 377.17 75.98)"/><circle cx="381.52" cy="72.58" r="1.7"/></g>
<g fill="#444" opacity="0.6" filter="url(#sh)" transform="translate(1.2,1.3)"><ellipse cx="315.65" cy="91.82" rx="4.45" ry="4.95" transform="rotate(20 315.65 91.82)"/><circle cx="320" cy="88.42" r="1.7"/></g>
<g fill="none" stroke="#1a1a1a" stroke-width="1.25"><ellipse cx="315.65" cy="91.82" rx="4.45" ry="4.95" transform="rotate(20 315.65 91.82)"/><circle cx="320" cy="88.42" r="1.7"/></g>
<g fill="#ffff00"><ellipse cx="315.65" cy="91.82" rx="4.45" ry="4.95" transform="rotate(20 315.65 91.82)"/><circle cx="320" cy="88.42" r="1.7"/></g>
<g fill="#444" opacity="0.6" filter="url(#sh)" transform="translate(1.2,1.3)"><ellipse cx="331.03" cy="91.82" rx="4.45" ry="4.95" transform="rotate(20 331.03 91.82)"/><circle cx="335.38" cy="88.42" r="1.7"/></g>
<g fill="none" stroke="#1a1a1a" stroke-width="1.25"><ellipse cx="331.03" cy="91.82" rx="4.45" ry="4.95" transform="rotate(20 331.03 91.82)"/><circle cx="335.38" cy="88.42" r="1.7"/></g>
<g fill="#00ff00"><ellipse cx="331.03" cy="91.82" rx="4.45" ry="4.95" transform="rotate(20 331.03 91.82)"/><circle cx="335.38" cy="88.42" r="1.7"/></g>
<g fill="#444" opacity="0.6" filter="url(#sh)" transform="translate(1.2,1.3)"><ellipse cx="346.41" cy="91.82" rx="4.45" ry="4.95" transform="rotate(20 346.41 91.82)"/><circle cx="350.76" cy="88.42" r="1.7"/></g>
<g fill="none" stroke="#1a1a1a" stroke-width="1.25"><ellipse cx="346.41" cy="91.82" rx="4.45" ry="4.95" transform="rotate(20 346.41 91.82)"/><circle cx="350.76" cy="88.42" r="1.7"/></g>
<g fill="#ffe699"><ellipse cx="346.41" cy="91.82" rx="4.45" ry="4.95" transform="rotate(20 346.41 91.82)"/><circle cx="350.76" cy="88.42" r="1.7"/></g>
<g fill="#444" opacity="0.6" filter="url(#sh)" transform="translate(1.2,1.3)"><ellipse cx="361.79" cy="91.82" rx="4.45" ry="4.95" transform="rotate(20 361.79 91.82)"/><circle cx="366.14" cy="88.42" r="1.7"/></g>
<g fill="none" stroke="#1a1a1a" stroke-width="1.25"><ellipse cx="361.79" cy="91.82" rx="4.45" ry="4.95" transform="rotate(20 361.79 91.82)"/><circle cx="366.14" cy="88.42" r="1.7"/></g>
<g fill="#f4b183"><ellipse cx="361.79" cy="91.82" rx="4.45" ry="4.95" transform="rotate(20 361.79 91.82)"/><circle cx="366.14" cy="88.42" r="1.7"/></g>
<g fill="#444" opacity="0.6" filter="url(#sh)" transform="translate(1.2,1.3)"><ellipse cx="377.17" cy="91.82" rx="4.45" ry="4.95" transform="rotate(20 377.17 91.82)"/><circle cx="381.52" cy="88.42" r="1.7"/></g>
<g fill="none" stroke="#1a1a1a" stroke-width="1.25"><ellipse cx="377.17" cy="91.82" rx="4.45" ry="4.95" transform="rotate(20 377.17 91.82)"/><circle cx="381.52" cy="88.42" r="1.7"/></g>
<g fill="#7030a0"><ellipse cx="377.17" cy="91.82" rx="4.45" ry="4.95" transform="rotate(20 377.17 91.82)"/><circle cx="381.52" cy="88.42" r="1.7"/></g>
<g fill="#444" opacity="0.6" filter="url(#sh)" transform="translate(1.2,1.3)"><ellipse cx="315.65" cy="107.66" rx="4.45" ry="4.95" transform="rotate(20 315.65 107.66)"/><circle cx="320" cy="104.26" r="1.7"/></g>
<g fill="none" stroke="#1a1a1a" stroke-width="1.25"><ellipse cx="315.65" cy="107.66" rx="4.45" ry="4.95" transform="rotate(20 315.65 107.66)"/><circle cx="320" cy="104.26" r="1.7"/></g>
<g fill="#fff2cc"><ellipse cx="315.65" cy="107.66" rx="4.45" ry="4.95" transform="rotate(20 315.65 107.66)"/><circle cx="320" cy="104.26" r="1.7"/></g>
<g fill="#444" opacity="0.6" filter="url(#sh)" transform="translate(1.2,1.3)"><ellipse cx="331.03" cy="107.66" rx="4.45" ry="4.95" transform="rotate(20 331.03 107.66)"/><circle cx="335.38" cy="104.26" r="1.7"/></g>
<g fill="none" stroke="#1a1a1a" stroke-width="1.25"><ellipse cx="331.03" cy="107.66" rx="4.45" ry="4.95" transform="rotate(20 331.03 107.66)"/><circle cx="335.38" cy="104.26" r="1.7"/></g>
<g fill="#66ccff"><ellipse cx="331.03" cy="107.66" rx="4.45" ry="4.95" transform="rotate(20 331.03 107.66)"/><circle cx="335.38" cy="104.26" r="1.7"/></g>
<g fill="#444" opacity="0.6" filter="url(#sh)" transform="translate(1.2,1.3)"><ellipse cx="346.41" cy="107.66" rx="4.45" ry="4.95" transform="rotate(20 346.41 107.66)"/><circle cx="350.76" cy="104.26" r="1.7"/></g>
<g fill="none" stroke="#1a1a1a" stroke-width="1.25"><ellipse cx="346.41" cy="107.66" rx="4.45" ry="4.95" transform="rotate(20 346.41 107.66)"/><circle cx="350.76" cy="104.26" r="1.7"/></g>
<g fill="#7030a0"><ellipse cx="346.41" cy="107.66" rx="4.45" ry="4.95" transform="rotate(20 346.41 107.66)"/><circle cx="350.76" cy="104.26" r="1.7"/></g>
<g fill="#444" opacity="0.6" filter="url(#sh)" transform="translate(1.2,1.3)"><ellipse cx="361.79" cy="107.66" rx="4.45" ry="4.95" transform="rotate(20 361.79 107.66)"/><circle cx="366.14" cy="104.26" r="1.7"/></g>
<g fill="none" stroke="#1a1a1a" stroke-width="1.25"><ellipse cx="361.79" cy="107.66" rx="4.45" ry="4.95" transform="rotate(20 361.79 107.66)"/><circle cx="366.14" cy="104.26" r="1.7"/></g>
<g fill="#7030a0"><ellipse cx="361.79" cy="107.66" rx="4.45" ry="4.95" transform="rotate(20 361.79 107.66)"/><circle cx="366.14" cy="104.26" r="1.7"/></g>
<g fill="#444" opacity="0.6" filter="url(#sh)" transform="translate(1.2,1.3)"><ellipse cx="377.17" cy="107.66" rx="4.45" ry="4.95" transform="rotate(20 377.17 107.66)"/><circle cx="381.52" cy="104.26" r="1.7"/></g>
<g fill="none" stroke="#1a1a1a" stroke-width="1.25"><ellipse cx="377.17" cy="107.66" rx="4.45" ry="4.95" transform="rotate(20 377.17 107.66)"/><circle cx="381.52" cy="104.26" r="1.7"/></g>
<g fill="#ffff00"><ellipse cx="377.17" cy="107.66" rx="4.45" ry="4.95" transform="rotate(20 377.17 107.66)"/><circle cx="381.52" cy="104.26" r="1.7"/></g>
<g fill="#444" opacity="0.6" filter="url(#sh)" transform="translate(1.2,1.3)"><ellipse cx="315.65" cy="123.5" rx="4.45" ry="4.95" transform="rotate(20 315.65 123.5)"/><circle cx="320" cy="120.1" r="1.7"/></g>
<g fill="none" stroke="#1a1a1a" stroke-width="1.25"><ellipse cx="315.65" cy="123.5" rx="4.45" ry="4.95" transform="rotate(20 315.65 123.5)"/><circle cx="320" cy="120.1" r="1.7"/></g>
<g fill="#ff7c80"><ellipse cx="315.65" cy="123.5" rx="4.45" ry="4.95" transform="rotate(20 315.65 123.5)"/><circle cx="320" cy="120.1" r="1.7"/></g>
<g fill="#444" opacity="0.6" filter="url(#sh)" transform="translate(1.2,1.3)"><ellipse cx="331.03" cy="123.5" rx="4.45" ry="4.95" transform="rotate(20 331.03 123.5)"/><circle cx="335.38" cy="120.1" r="1.7"/></g>
<g fill="none" stroke="#1a1a1a" stroke-width="1.25"><ellipse cx="331.03" cy="123.5" rx="4.45" ry="4.95" transform="rotate(20 331.03 123.5)"/><circle cx="335.38" cy="120.1" r="1.7"/></g>
<g fill="#7030a0"><ellipse cx="331.03" cy="123.5" rx="4.45" ry="4.95" transform="rotate(20 331.03 123.5)"/><circle cx="335.38" cy="120.1" r="1.7"/></g>
<g fill="#444" opacity="0.6" filter="url(#sh)" transform="translate(1.2,1.3)"><ellipse cx="346.41" cy="123.5" rx="4.45" ry="4.95" transform="rotate(20 346.41 123.5)"/><circle cx="350.76" cy="120.1" r="1.7"/></g>
<g fill="none" stroke="#1a1a1a" stroke-width="1.25"><ellipse cx="346.41" cy="123.5" rx="4.45" ry="4.95" transform="rotate(20 346.41 123.5)"/><circle cx="350.76" cy="120.1" r="1.7"/></g>
<g fill="#7030a0"><ellipse cx="346.41" cy="123.5" rx="4.45" ry="4.95" transform="rotate(20 346.41 123.5)"/><circle cx="350.76" cy="120.1" r="1.7"/></g>
<g fill="#444" opacity="0.6" filter="url(#sh)" transform="translate(1.2,1.3)"><ellipse cx="361.79" cy="123.5" rx="4.45" ry="4.95" transform="rotate(20 361.79 123.5)"/><circle cx="366.14" cy="120.1" r="1.7"/></g>
<g fill="none" stroke="#1a1a1a" stroke-width="1.25"><ellipse cx="361.79" cy="123.5" rx="4.45" ry="4.95" transform="rotate(20 361.79 123.5)"/><circle cx="366.14" cy="120.1" r="1.7"/></g>
<g fill="#d2f57d"><ellipse cx="361.79" cy="123.5" rx="4.45" ry="4.95" transform="rotate(20 361.79 123.5)"/><circle cx="366.14" cy="120.1" r="1.7"/></g>
<g fill="#444" opacity="0.6" filter="url(#sh)" transform="translate(1.2,1.3)"><ellipse cx="377.17" cy="123.5" rx="4.45" ry="4.95" transform="rotate(20 377.17 123.5)"/><circle cx="381.52" cy="120.1" r="1.7"/></g>
<g fill="none" stroke="#1a1a1a" stroke-width="1.25"><ellipse cx="377.17" cy="123.5" rx="4.45" ry="4.95" transform="rotate(20 377.17 123.5)"/><circle cx="381.52" cy="120.1" r="1.7"/></g>
<g fill="#c5e0b4"><ellipse cx="377.17" cy="123.5" rx="4.45" ry="4.95" transform="rotate(20 377.17 123.5)"/><circle cx="381.52" cy="120.1" r="1.7"/></g>
<polygon points="281.5,76.1 298.1,76.1 298.1,72 306.1,80.1 298.1,88.1 298.1,83.9 281.5,83.9" fill="#000"/>
<rect x="407.7" y="39.2" width="16.81" height="4.4" fill="#fce1d1"/>
<rect x="424.49" y="39.2" width="11.21" height="4.4" fill="#f4a582"/>
<rect x="435.68" y="39.2" width="11.21" height="4.4" fill="#f9c2a7"/>
<rect x="446.87" y="39.2" width="11.21" height="4.4" fill="#f4a582"/>
<rect x="458.06" y="39.2" width="5.62" height="4.4" fill="#f9c2a7"/>
<rect x="463.65" y="39.2" width="5.62" height="4.4" fill="#f4a582"/>
<rect x="469.25" y="39.2" width="11.21" height="4.4" fill="#fce1d1"/>
<rect x="480.44" y="39.2" width="11.21" height="4.4" fill="#f9c2a7"/>
<rect x="491.63" y="39.2" width="5.62" height="4.4" fill="#f4a582"/>
<rect x="497.23" y="39.2" width="11.21" height="4.4" fill="#fce1d1"/>
<rect x="508.42" y="39.2" width="11.21" height="4.4" fill="#f9c2a7"/>
<rect x="519.61" y="39.2" width="16.81" height="4.4" fill="#fce1d1"/>
<rect x="536.4" y="39.2" width="11.21" height="4.4" fill="#f9c2a7"/>
<rect x="547.59" y="39.2" width="5.62" height="4.4" fill="#fce1d1"/>
<rect x="553.18" y="39.2" width="11.21" height="4.4" fill="#f4a582"/>
<rect x="564.37" y="39.2" width="5.62" height="4.4" fill="#fce1d1"/>
<rect x="569.97" y="39.2" width="5.62" height="4.4" fill="#f4a582"/>
<rect x="575.56" y="39.2" width="5.62" height="4.4" fill="#f9c2a7"/>
<rect x="581.16" y="39.2" width="5.62" height="4.4" fill="#fce1d1"/>
<rect x="586.75" y="39.2" width="11.21" height="4.4" fill="#f9c2a7"/>
<rect x="597.95" y="39.2" width="5.62" height="4.4" fill="#f4a582"/>
<rect x="603.54" y="39.2" width="5.62" height="4.4" fill="#f9c2a7"/>
<rect x="609.14" y="39.2" width="11.21" height="4.4" fill="#f4a582"/>
<rect x="620.33" y="39.2" width="5.62" height="4.4" fill="#fce1d1"/>
<rect x="625.92" y="39.2" width="5.62" height="4.4" fill="#f7f7f7"/>
<rect x="631.52" y="39.2" width="5.62" height="4.4" fill="#f9c2a7"/>
<rect x="637.11" y="39.2" width="11.21" height="4.4" fill="#fce1d1"/>
<rect x="648.3" y="39.2" width="5.62" height="4.4" fill="#f4a582"/>
<rect x="407.7" y="43.58" width="5.62" height="4.4" fill="#f9ece4"/>
<rect x="413.3" y="43.58" width="5.62" height="4.4" fill="#e8f0f4"/>
<rect x="418.89" y="43.58" width="5.62" height="4.4" fill="#fce1d1"/>
<rect x="424.49" y="43.58" width="5.62" height="4.4" fill="#e8f0f4"/>
<rect x="430.08" y="43.58" width="16.81" height="4.4" fill="#d9e9f1"/>
<rect x="446.87" y="43.58" width="5.62" height="4.4" fill="#f7f7f7"/>
<rect x="452.46" y="43.58" width="5.62" height="4.4" fill="#e8f0f4"/>
<rect x="458.06" y="43.58" width="11.21" height="4.4" fill="#f7f7f7"/>
<rect x="469.25" y="43.58" width="5.62" height="4.4" fill="#e8f0f4"/>
<rect x="474.85" y="43.58" width="5.62" height="4.4" fill="#d9e9f1"/>
<rect x="480.44" y="43.58" width="5.62" height="4.4" fill="#e8f0f4"/>
<rect x="486.04" y="43.58" width="5.62" height="4.4" fill="#f9ece4"/>
<rect x="491.63" y="43.58" width="11.21" height="4.4" fill="#e8f0f4"/>
<rect x="502.82" y="43.58" width="5.62" height="4.4" fill="#f7f7f7"/>
<rect x="508.42" y="43.58" width="5.62" height="4.4" fill="#f9ece4"/>
<rect x="514.01" y="43.58" width="16.81" height="4.4" fill="#e8f0f4"/>
<rect x="530.8" y="43.58" width="5.62" height="4.4" fill="#f9ece4"/>
<rect x="536.4" y="43.58" width="5.62" height="4.4" fill="#f7f7f7"/>
<rect x="541.99" y="43.58" width="5.62" height="4.4" fill="#f9ece4"/>
<rect x="547.59" y="43.58" width="11.21" height="4.4" fill="#e8f0f4"/>
<rect x="558.78" y="43.58" width="16.81" height="4.4" fill="#f7f7f7"/>
<rect x="575.56" y="43.58" width="5.62" height="4.4" fill="#e8f0f4"/>
<rect x="581.16" y="43.58" width="5.62" height="4.4" fill="#f7f7f7"/>
<rect x="586.75" y="43.58" width="5.62" height="4.4" fill="#e8f0f4"/>
<rect x="592.35" y="43.58" width="11.21" height="4.4" fill="#f9ece4"/>
<rect x="603.54" y="43.58" width="5.62" height="4.4" fill="#f7f7f7"/>
<rect x="609.14" y="43.58" width="28" height="4.4" fill="#e8f0f4"/>
<rect x="637.11" y="43.58" width="5.62" height="4.4" fill="#d9e9f1"/>
<rect x="642.71" y="43.58" width="5.62" height="4.4" fill="#e8f0f4"/>
<rect x="648.3" y="43.58" width="5.62" height="4.4" fill="#f9ece4"/>
<rect x="407.7" y="47.96" width="5.62" height="4.4" fill="#f7f7f7"/>
<rect x="413.3" y="47.96" width="5.62" height="4.4" fill="#f9ece4"/>
<rect x="418.89" y="47.96" width="16.81" height="4.4" fill="#d9e9f1"/>
<rect x="435.68" y="47.96" width="5.62" height="4.4" fill="#f7f7f7"/>
<rect x="441.27" y="47.96" width="5.62" height="4.4" fill="#e8f0f4"/>
<rect x="446.87" y="47.96" width="5.62" height="4.4" fill="#d9e9f1"/>
<rect x="452.46" y="47.96" width="5.62" height="4.4" fill="#f9ece4"/>
<rect x="458.06" y="47.96" width="5.62" height="4.4" fill="#e8f0f4"/>
<rect x="463.65" y="47.96" width="5.62" height="4.4" fill="#f9ece4"/>
<rect x="469.25" y="47.96" width="11.21" height="4.4" fill="#e8f0f4"/>
<rect x="480.44" y="47.96" width="5.62" height="4.4" fill="#f7f7f7"/>
<rect x="486.04" y="47.96" width="5.62" height="4.4" fill="#f9ece4"/>
<rect x="491.63" y="47.96" width="5.62" height="4.4" fill="#f7f7f7"/>
<rect x="497.23" y="47.96" width="5.62" height="4.4" fill="#e8f0f4"/>
<rect x="502.82" y="47.96" width="11.21" height="4.4" fill="#f7f7f7"/>
<rect x="514.01" y="47.96" width="16.81" height="4.4" fill="#e8f0f4"/>
<rect x="530.8" y="47.96" width="5.62" height="4.4" fill="#f9ece4"/>
<rect x="536.4" y="47.96" width="16.81" height="4.4" fill="#e8f0f4"/>
<rect x="553.18" y="47.96" width="5.62" height="4.4" fill="#f9ece4"/>
<rect x="558.78" y="47.96" width="5.62" height="4.4" fill="#e8f0f4"/>
<rect x="564.37" y="47.96" width="50.38" height="4.4" fill="#f7f7f7"/>
<rect x="614.73" y="47.96" width="22.4" height="4.4" fill="#e8f0f4"/>
<rect x="637.11" y="47.96" width="5.62" height="4.4" fill="#d9e9f1"/>
<rect x="642.71" y="47.96" width="11.21" height="4.4" fill="#f7f7f7"/>
<rect x="407.7" y="52.34" width="16.81" height="4.4" fill="#e8f0f4"/>
<rect x="424.49" y="52.34" width="11.21" height="4.4" fill="#d9e9f1"/>
<rect x="435.68" y="52.34" width="11.21" height="4.4" fill="#e8f0f4"/>
<rect x="446.87" y="52.34" width="5.62" height="4.4" fill="#bcdaea"/>
<rect x="452.46" y="52.34" width="5.62" height="4.4" fill="#e8f0f4"/>
<rect x="458.06" y="52.34" width="11.21" height="4.4" fill="#f7f7f7"/>
<rect x="469.25" y="52.34" width="5.62" height="4.4" fill="#e8f0f4"/>
<rect x="474.85" y="52.34" width="5.62" height="4.4" fill="#d9e9f1"/>
<rect x="480.44" y="52.34" width="5.62" height="4.4" fill="#f9ece4"/>
<rect x="486.04" y="52.34" width="5.62" height="4.4" fill="#f7f7f7"/>
<rect x="491.63" y="52.34" width="5.62" height="4.4" fill="#f4a582"/>
<rect x="497.23" y="52.34" width="11.21" height="4.4" fill="#e8f0f4"/>
<rect x="508.42" y="52.34" width="5.62" height="4.4" fill="#b2182b"/>
<rect x="514.01" y="52.34" width="5.62" height="4.4" fill="#e8f0f4"/>
<rect x="519.61" y="52.34" width="11.21" height="4.4" fill="#f7f7f7"/>
<rect x="530.8" y="52.34" width="5.62" height="4.4" fill="#f9ece4"/>
<rect x="536.4" y="52.34" width="5.62" height="4.4" fill="#e8f0f4"/>
<rect x="541.99" y="52.34" width="22.4" height="4.4" fill="#f7f7f7"/>
<rect x="564.37" y="52.34" width="5.62" height="4.4" fill="#f9ece4"/>
<rect x="569.97" y="52.34" width="11.21" height="4.4" fill="#e8f0f4"/>
<rect x="581.16" y="52.34" width="5.62" height="4.4" fill="#f7f7f7"/>
<rect x="586.75" y="52.34" width="5.62" height="4.4" fill="#e8f0f4"/>
<rect x="592.35" y="52.34" width="5.62" height="4.4" fill="#f7f7f7"/>
<rect x="597.95" y="52.34" width="11.21" height="4.4" fill="#fce1d1"/>
<rect x="609.14" y="52.34" width="5.62" height="4.4" fill="#f4a582"/>
<rect x="614.73" y="52.34" width="16.81" height="4.4" fill="#e8f0f4"/>
<rect x="631.52" y="52.34" width="5.62" height="4.4" fill="#f9c2a7"/>
<rect x="637.11" y="52.34" width="5.62" height="4.4" fill="#e8f0f4"/>
<rect x="642.71" y="52.34" width="5.62" height="4.4" fill="#f9ece4"/>
<rect x="648.3" y="52.34" width="5.62" height="4.4" fill="#f9c2a7"/>
<rect x="407.7" y="56.72" width="5.62" height="4.4" fill="#f9ece4"/>
<rect x="413.3" y="56.72" width="16.81" height="4.4" fill="#f7f7f7"/>
<rect x="430.08" y="56.72" width="5.62" height="4.4" fill="#e8f0f4"/>
<rect x="435.68" y="56.72" width="5.62" height="4.4" fill="#e0775f"/>
<rect x="441.27" y="56.72" width="5.62" height="4.4" fill="#b2182b"/>
<rect x="446.87" y="56.72" width="5.62" height="4.4" fill="#e8f0f4"/>
<rect x="452.46" y="56.72" width="5.62" height="4.4" fill="#d9e9f1"/>
<rect x="458.06" y="56.72" width="5.62" height="4.4" fill="#e8f0f4"/>
<rect x="463.65" y="56.72" width="5.62" height="4.4" fill="#fce1d1"/>
<rect x="469.25" y="56.72" width="5.62" height="4.4" fill="#f9ece4"/>
<rect x="474.85" y="56.72" width="5.62" height="4.4" fill="#e8f0f4"/>
<rect x="480.44" y="56.72" width="11.21" height="4.4" fill="#e0775f"/>
<rect x="491.63" y="56.72" width="5.62" height="4.4" fill="#67001f"/>
<rect x="497.23" y="56.72" width="5.62" height="4.4" fill="#e8f0f4"/>
<rect x="502.82" y="56.72" width="5.62" height="4.4" fill="#e0775f"/>
<rect x="508.42" y="56.72" width="5.62" height="4.4" fill="#800823"/>
<rect x="514.01" y="56.72" width="16.81" height="4.4" fill="#e8f0f4"/>
<rect x="530.8" y="56.72" width="5.62" height="4.4" fill="#fce1d1"/>
<rect x="536.4" y="56.72" width="11.21" height="4.4" fill="#f7f7f7"/>
<rect x="547.59" y="56.72" width="11.21" height="4.4" fill="#f9ece4"/>
<rect x="558.78" y="56.72" width="5.62" height="4.4" fill="#f7f7f7"/>
<rect x="564.37" y="56.72" width="5.62" height="4.4" fill="#f9ece4"/>
<rect x="569.97" y="56.72" width="11.21" height="4.4" fill="#f7f7f7"/>
<rect x="581.16" y="56.72" width="5.62" height="4.4" fill="#f9ece4"/>
<rect x="586.75" y="56.72" width="5.62" height="4.4" fill="#f7f7f7"/>
<rect x="592.35" y="56.72" width="5.62" height="4.4" fill="#f9ece4"/>
<rect x="597.95" y="56.72" width="11.21" height="4.4" fill="#f9c2a7"/>
<rect x="609.14" y="56.72" width="5.62" height="4.4" fill="#b2182b"/>
<rect x="614.73" y="56.72" width="11.21" height="4.4" fill="#e8f0f4"/>
<rect x="625.92" y="56.72" width="5.62" height="4.4" fill="#f4a582"/>
<rect x="631.52" y="56.72" width="5.62" height="4.4" fill="#f9c2a7"/>
<rect x="637.11" y="56.72" width="5.62" height="4.4" fill="#f7f7f7"/>
<rect x="642.71" y="56.72" width="5.62" height="4.4" fill="#f9ece4"/>
<rect x="648.3" y="56.72" width="5.62" height="4.4" fill="#f4a582"/>
<rect x="407.7" y="61.1" width="11.21" height="4.4" fill="#d9e9f1"/>
<rect x="418.89" y="61.1" width="5.62" height="4.4" fill="#e8f0f4"/>
<rect x="424.49" y="61.1" width="5.62" height="4.4" fill="#d9e9f1"/>
<rect x="430.08" y="61.1" width="5.62" height="4.4" fill="#e8f0f4"/>
<rect x="435.68" y="61.1" width="5.62" height="4.4" fill="#fce1d1"/>
<rect x="441.27" y="61.1" width="5.62" height="4.4" fill="#f9ece4"/>
<rect x="446.87" y="61.1" width="5.62" height="4.4" fill="#e8f0f4"/>
<rect x="452.46" y="61.1" width="5.62" height="4.4" fill="#d9e9f1"/>
<rect x="458.06" y="61.1" width="5.62" height="4.4" fill="#e8f0f4"/>
<rect x="463.65" y="61.1" width="5.62" height="4.4" fill="#fce1d1"/>
<rect x="469.25" y="61.1" width="11.21" height="4.4" fill="#e8f0f4"/>
<rect x="480.44" y="61.1" width="5.62" height="4.4" fill="#f4a582"/>
<rect x="486.04" y="61.1" width="5.62" height="4.4" fill="#fce1d1"/>
<rect x="491.63" y="61.1" width="5.62" height="4.4" fill="#67001f"/>
<rect x="497.23" y="61.1" width="5.62" height="4.4" fill="#e8f0f4"/>
<rect x="502.82" y="61.1" width="5.62" height="4.4" fill="#fce1d1"/>
<rect x="508.42" y="61.1" width="5.62" height="4.4" fill="#e0775f"/>
<rect x="514.01" y="61.1" width="11.21" height="4.4" fill="#e8f0f4"/>
<rect x="525.2" y="61.1" width="5.62" height="4.4" fill="#f7f7f7"/>
<rect x="530.8" y="61.1" width="5.62" height="4.4" fill="#f9ece4"/>
<rect x="536.4" y="61.1" width="5.62" height="4.4" fill="#e8f0f4"/>
<rect x="541.99" y="61.1" width="16.81" height="4.4" fill="#f9ece4"/>
<rect x="558.78" y="61.1" width="5.62" height="4.4" fill="#f7f7f7"/>
<rect x="564.37" y="61.1" width="5.62" height="4.4" fill="#f9ece4"/>
<rect x="569.97" y="61.1" width="11.21" height="4.4" fill="#f7f7f7"/>
<rect x="581.16" y="61.1" width="5.62" height="4.4" fill="#f9ece4"/>
<rect x="586.75" y="61.1" width="5.62" height="4.4" fill="#e8f0f4"/>
<rect x="592.35" y="61.1" width="5.62" height="4.4" fill="#f9ece4"/>
<rect x="597.95" y="61.1" width="5.62" height="4.4" fill="#fce1d1"/>
<rect x="603.54" y="61.1" width="5.62" height="4.4" fill="#f9c2a7"/>
<rect x="609.14" y="61.1" width="5.62" height="4.4" fill="#f4a582"/>
<rect x="614.73" y="61.1" width="11.21" height="4.4" fill="#f7f7f7"/>
<rect x="625.92" y="61.1" width="5.62" height="4.4" fill="#f9c2a7"/>
<rect x="631.52" y="61.1" width="5.62" height="4.4" fill="#fce1d1"/>
<rect x="637.11" y="61.1" width="5.62" height="4.4" fill="#f7f7f7"/>
<rect x="642.71" y="61.1" width="11.21" height="4.4" fill="#f9c2a7"/>
<rect x="407.7" y="65.49" width="5.62" height="4.4" fill="#d9e9f1"/>
<rect x="413.3" y="65.49" width="5.62" height="4.4" fill="#f9ece4"/>
<rect x="418.89" y="65.49" width="5.62" height="4.4" fill="#e8f0f4"/>
<rect x="424.49" y="65.49" width="11.21" height="4.4" fill="#d9e9f1"/>
<rect x="435.68" y="65.49" width="5.62" height="4.4" fill="#f9ece4"/>
<rect x="441.27" y="65.49" width="16.81" height="4.4" fill="#d9e9f1"/>
<rect x="458.06" y="65.49" width="5.62" height="4.4" fill="#e8f0f4"/>
<rect x="463.65" y="65.49" width="5.62" height="4.4" fill="#f9ece4"/>
<rect x="469.25" y="65.49" width="11.21" height="4.4" fill="#e8f0f4"/>
<rect x="480.44" y="65.49" width="11.21" height="4.4" fill="#f9ece4"/>
<rect x="491.63" y="65.49" width="5.62" height="4.4" fill="#b2182b"/>
<rect x="497.23" y="65.49" width="11.21" height="4.4" fill="#e8f0f4"/>
<rect x="508.42" y="65.49" width="5.62" height="4.4" fill="#fce1d1"/>
<rect x="514.01" y="65.49" width="5.62" height="4.4" fill="#f9ece4"/>
<rect x="519.61" y="65.49" width="11.21" height="4.4" fill="#e8f0f4"/>
<rect x="530.8" y="65.49" width="5.62" height="4.4" fill="#f9ece4"/>
<rect x="536.4" y="65.49" width="5.62" height="4.4" fill="#e8f0f4"/>
<rect x="541.99" y="65.49" width="11.21" height="4.4" fill="#f7f7f7"/>
<rect x="553.18" y="65.49" width="5.62" height="4.4" fill="#f9ece4"/>
<rect x="558.78" y="65.49" width="5.62" height="4.4" fill="#e8f0f4"/>
<rect x="564.37" y="65.49" width="5.62" height="4.4" fill="#f7f7f7"/>
<rect x="569.97" y="65.49" width="5.62" height="4.4" fill="#f9ece4"/>
<rect x="575.56" y="65.49" width="11.21" height="4.4" fill="#f7f7f7"/>
<rect x="586.75" y="65.49" width="5.62" height="4.4" fill="#e8f0f4"/>
<rect x="592.35" y="65.49" width="11.21" height="4.4" fill="#f9ece4"/>
<rect x="603.54" y="65.49" width="5.62" height="4.4" fill="#fce1d1"/>
<rect x="609.14" y="65.49" width="5.62" height="4.4" fill="#f9c2a7"/>
<rect x="614.73" y="65.49" width="5.62" height="4.4" fill="#f7f7f7"/>
<rect x="620.33" y="65.49" width="5.62" height="4.4" fill="#e8f0f4"/>
<rect x="625.92" y="65.49" width="5.62" height="4.4" fill="#f4a582"/>
<rect x="631.52" y="65.49" width="5.62" height="4.4" fill="#f9ece4"/>
<rect x="637.11" y="65.49" width="5.62" height="4.4" fill="#e8f0f4"/>
<rect x="642.71" y="65.49" width="5.62" height="4.4" fill="#f9c2a7"/>
<rect x="648.3" y="65.49" width="5.62" height="4.4" fill="#fce1d1"/>
<rect x="407.7" y="69.87" width="11.21" height="4.4" fill="#f7f7f7"/>
<rect x="418.89" y="69.87" width="11.21" height="4.4" fill="#e8f0f4"/>
<rect x="430.08" y="69.87" width="5.62" height="4.4" fill="#d9e9f1"/>
<rect x="435.68" y="69.87" width="5.62" height="4.4" fill="#f9c2a7"/>
<rect x="441.27" y="69.87" width="5.62" height="4.4" fill="#e8f0f4"/>
<rect x="446.87" y="69.87" width="11.21" height="4.4" fill="#d9e9f1"/>
<rect x="458.06" y="69.87" width="5.62" height="4.4" fill="#e8f0f4"/>
<rect x="463.65" y="69.87" width="5.62" height="4.4" fill="#fce1d1"/>
<rect x="469.25" y="69.87" width="11.21" height="4.4" fill="#e8f0f4"/>
<rect x="480.44" y="69.87" width="5.62" height="4.4" fill="#e0775f"/>
<rect x="486.04" y="69.87" width="5.62" height="4.4" fill="#fce1d1"/>
<rect x="491.63" y="69.87" width="5.62" height="4.4" fill="#67001f"/>
<rect x="497.23" y="69.87" width="5.62" height="4.4" fill="#e8f0f4"/>
<rect x="502.82" y="69.87" width="5.62" height="4.4" fill="#f9ece4"/>
<rect x="508.42" y="69.87" width="5.62" height="4.4" fill="#f9c2a7"/>
<rect x="514.01" y="69.87" width="5.62" height="4.4" fill="#f7f7f7"/>
<rect x="519.61" y="69.87" width="11.21" height="4.4" fill="#e8f0f4"/>
<rect x="530.8" y="69.87" width="5.62" height="4.4" fill="#f9ece4"/>
<rect x="536.4" y="69.87" width="11.21" height="4.4" fill="#f7f7f7"/>
<rect x="547.59" y="69.87" width="11.21" height="4.4" fill="#f9ece4"/>
<rect x="558.78" y="69.87" width="5.62" height="4.4" fill="#f7f7f7"/>
<rect x="564.37" y="69.87" width="11.21" height="4.4" fill="#f9ece4"/>
<rect x="575.56" y="69.87" width="5.62" height="4.4" fill="#f7f7f7"/>
<rect x="581.16" y="69.87" width="5.62" height="4.4" fill="#f9ece4"/>
<rect x="586.75" y="69.87" width="5.62" height="4.4" fill="#e8f0f4"/>
<rect x="592.35" y="69.87" width="5.62" height="4.4" fill="#f9ece4"/>
<rect x="597.95" y="69.87" width="16.81" height="4.4" fill="#fce1d1"/>
<rect x="614.73" y="69.87" width="5.62" height="4.4" fill="#f7f7f7"/>
<rect x="620.33" y="69.87" width="5.62" height="4.4" fill="#e8f0f4"/>
<rect x="625.92" y="69.87" width="5.62" height="4.4" fill="#f4a582"/>
<rect x="631.52" y="69.87" width="5.62" height="4.4" fill="#f9c2a7"/>
<rect x="637.11" y="69.87" width="5.62" height="4.4" fill="#e8f0f4"/>
<rect x="642.71" y="69.87" width="5.62" height="4.4" fill="#f9c2a7"/>
<rect x="648.3" y="69.87" width="5.62" height="4.4" fill="#fce1d1"/>
<rect x="407.7" y="74.25" width="5.62" height="4.4" fill="#e8f0f4"/>
<rect x="413.3" y="74.25" width="11.21" height="4.4" fill="#f7f7f7"/>
<rect x="424.49" y="74.25" width="5.62" height="4.4" fill="#e8f0f4"/>
<rect x="430.08" y="74.25" width="5.62" height="4.4" fill="#d9e9f1"/>
<rect x="435.68" y="74.25" width="5.62" height="4.4" fill="#fce1d1"/>
<rect x="441.27" y="74.25" width="5.62" height="4.4" fill="#e8f0f4"/>
<rect x="446.87" y="74.25" width="5.62" height="4.4" fill="#d9e9f1"/>
<rect x="452.46" y="74.25" width="11.21" height="4.4" fill="#e8f0f4"/>
<rect x="463.65" y="74.25" width="5.62" height="4.4" fill="#f9ece4"/>
<rect x="469.25" y="74.25" width="5.62" height="4.4" fill="#f7f7f7"/>
<rect x="474.85" y="74.25" width="5.62" height="4.4" fill="#e8f0f4"/>
<rect x="480.44" y="74.25" width="11.21" height="4.4" fill="#f9c2a7"/>
<rect x="491.63" y="74.25" width="5.62" height="4.4" fill="#800823"/>
<rect x="497.23" y="74.25" width="5.62" height="4.4" fill="#e8f0f4"/>
<rect x="502.82" y="74.25" width="5.62" height="4.4" fill="#f9ece4"/>
<rect x="508.42" y="74.25" width="5.62" height="4.4" fill="#f9c2a7"/>
<rect x="514.01" y="74.25" width="5.62" height="4.4" fill="#f9ece4"/>
<rect x="519.61" y="74.25" width="11.21" height="4.4" fill="#e8f0f4"/>
<rect x="530.8" y="74.25" width="11.21" height="4.4" fill="#f7f7f7"/>
<rect x="541.99" y="74.25" width="16.81" height="4.4" fill="#f9ece4"/>
<rect x="558.78" y="74.25" width="16.81" height="4.4" fill="#f7f7f7"/>
<rect x="575.56" y="74.25" width="5.62" height="4.4" fill="#e8f0f4"/>
<rect x="581.16" y="74.25" width="5.62" height="4.4" fill="#f9ece4"/>
<rect x="586.75" y="74.25" width="11.21" height="4.4" fill="#f7f7f7"/>
<rect x="597.95" y="74.25" width="11.21" height="4.4" fill="#fce1d1"/>
<rect x="609.14" y="74.25" width="5.62" height="4.4" fill="#f9c2a7"/>
<rect x="614.73" y="74.25" width="5.62" height="4.4" fill="#f7f7f7"/>
<rect x="620.33" y="74.25" width="5.62" height="4.4" fill="#e8f0f4"/>
<rect x="625.92" y="74.25" width="5.62" height="4.4" fill="#f4a582"/>
<rect x="631.52" y="74.25" width="5.62" height="4.4" fill="#f9ece4"/>
<rect x="637.11" y="74.25" width="5.62" height="4.4" fill="#e8f0f4"/>
<rect x="642.71" y="74.25" width="5.62" height="4.4" fill="#fce1d1"/>
<rect x="648.3" y="74.25" width="5.62" height="4.4" fill="#f9c2a7"/>
<rect x="407.7" y="78.63" width="5.62" height="4.4" fill="#d9e9f1"/>
<rect x="413.3" y="78.63" width="5.62" height="4.4" fill="#f9ece4"/>
<rect x="418.89" y="78.63" width="11.21" height="4.4" fill="#e8f0f4"/>
<rect x="430.08" y="78.63" width="5.62" height="4.4" fill="#d9e9f1"/>
<rect x="435.68" y="78.63" width="5.62" height="4.4" fill="#e8f0f4"/>
<rect x="441.27" y="78.63" width="11.21" height="4.4" fill="#d9e9f1"/>
<rect x="452.46" y="78.63" width="11.21" height="4.4" fill="#e8f0f4"/>
<rect x="463.65" y="78.63" width="5.62" height="4.4" fill="#f9ece4"/>
<rect x="469.25" y="78.63" width="11.21" height="4.4" fill="#e8f0f4"/>
<rect x="480.44" y="78.63" width="11.21" height="4.4" fill="#f9ece4"/>
<rect x="491.63" y="78.63" width="5.62" height="4.4" fill="#f4a582"/>
<rect x="497.23" y="78.63" width="5.62" height="4.4" fill="#e8f0f4"/>
<rect x="502.82" y="78.63" width="5.62" height="4.4" fill="#f7f7f7"/>
<rect x="508.42" y="78.63" width="5.62" height="4.4" fill="#f9ece4"/>
<rect x="514.01" y="78.63" width="11.21" height="4.4" fill="#e8f0f4"/>
<rect x="525.2" y="78.63" width="5.62" height="4.4" fill="#d9e9f1"/>
<rect x="530.8" y="78.63" width="5.62" height="4.4" fill="#f7f7f7"/>
<rect x="536.4" y="78.63" width="11.21" height="4.4" fill="#e8f0f4"/>
<rect x="547.59" y="78.63" width="22.4" height="4.4" fill="#f7f7f7"/>
<rect x="569.97" y="78.63" width="5.62" height="4.4" fill="#f9ece4"/>
<rect x="575.56" y="78.63" width="22.4" height="4.4" fill="#f7f7f7"/>
<rect x="597.95" y="78.63" width="16.81" height="4.4" fill="#f9ece4"/>
<rect x="614.73" y="78.63" width="11.21" height="4.4" fill="#e8f0f4"/>
<rect x="625.92" y="78.63" width="11.21" height="4.4" fill="#f9ece4"/>
<rect x="637.11" y="78.63" width="5.62" height="4.4" fill="#e8f0f4"/>
<rect x="642.71" y="78.63" width="11.21" height="4.4" fill="#f7f7f7"/>
<rect x="407.7" y="83.01" width="5.62" height="4.4" fill="#e8f0f4"/>
<rect x="413.3" y="83.01" width="11.21" height="4.4" fill="#f9ece4"/>
<rect x="424.49" y="83.01" width="5.62" height="4.4" fill="#e8f0f4"/>
<rect x="430.08" y="83.01" width="5.62" height="4.4" fill="#d9e9f1"/>
<rect x="435.68" y="83.01" width="5.62" height="4.4" fill="#f7f7f7"/>
<rect x="441.27" y="83.01" width="5.62" height="4.4" fill="#e8f0f4"/>
<rect x="446.87" y="83.01" width="5.62" height="4.4" fill="#d9e9f1"/>
<rect x="452.46" y="83.01" width="11.21" height="4.4" fill="#e8f0f4"/>
<rect x="463.65" y="83.01" width="5.62" height="4.4" fill="#f7f7f7"/>
<rect x="469.25" y="83.01" width="5.62" height="4.4" fill="#e8f0f4"/>
<rect x="474.85" y="83.01" width="5.62" height="4.4" fill="#f7f7f7"/>
<rect x="480.44" y="83.01" width="5.62" height="4.4" fill="#f9c2a7"/>
<rect x="486.04" y="83.01" width="5.62" height="4.4" fill="#f7f7f7"/>
<rect x="491.63" y="83.01" width="5.62" height="4.4" fill="#f9ece4"/>
<rect x="497.23" y="83.01" width="5.62" height="4.4" fill="#e8f0f4"/>
<rect x="502.82" y="83.01" width="5.62" height="4.4" fill="#f7f7f7"/>
<rect x="508.42" y="83.01" width="5.62" height="4.4" fill="#fce1d1"/>
<rect x="514.01" y="83.01" width="11.21" height="4.4" fill="#e8f0f4"/>
<rect x="525.2" y="83.01" width="5.62" height="4.4" fill="#d9e9f1"/>
<rect x="530.8" y="83.01" width="5.62" height="4.4" fill="#f9ece4"/>
<rect x="536.4" y="83.01" width="11.21" height="4.4" fill="#e8f0f4"/>
<rect x="547.59" y="83.01" width="11.21" height="4.4" fill="#f9ece4"/>
<rect x="558.78" y="83.01" width="5.62" height="4.4" fill="#f7f7f7"/>
<rect x="564.37" y="83.01" width="5.62" height="4.4" fill="#f9ece4"/>
<rect x="569.97" y="83.01" width="5.62" height="4.4" fill="#f7f7f7"/>
<rect x="575.56" y="83.01" width="5.62" height="4.4" fill="#e8f0f4"/>
<rect x="581.16" y="83.01" width="11.21" height="4.4" fill="#f7f7f7"/>
<rect x="592.35" y="83.01" width="5.62" height="4.4" fill="#f9ece4"/>
<rect x="597.95" y="83.01" width="5.62" height="4.4" fill="#f7f7f7"/>
<rect x="603.54" y="83.01" width="5.62" height="4.4" fill="#fce1d1"/>
<rect x="609.14" y="83.01" width="11.21" height="4.4" fill="#e8f0f4"/>
<rect x="620.33" y="83.01" width="5.62" height="4.4" fill="#d9e9f1"/>
<rect x="625.92" y="83.01" width="5.62" height="4.4" fill="#f7f7f7"/>
<rect x="631.52" y="83.01" width="16.81" height="4.4" fill="#e8f0f4"/>
<rect x="648.3" y="83.01" width="5.62" height="4.4" fill="#f9ece4"/>
<rect x="407.7" y="87.39" width="5.62" height="4.4" fill="#e8f0f4"/>
<rect x="413.3" y="87.39" width="5.62" height="4.4" fill="#f9ece4"/>
<rect x="418.89" y="87.39" width="5.62" height="4.4" fill="#e8f0f4"/>
<rect x="424.49" y="87.39" width="11.21" height="4.4" fill="#d9e9f1"/>
<rect x="435.68" y="87.39" width="5.62" height="4.4" fill="#f7f7f7"/>
<rect x="441.27" y="87.39" width="11.21" height="4.4" fill="#d9e9f1"/>
<rect x="452.46" y="87.39" width="11.21" height="4.4" fill="#e8f0f4"/>
<rect x="463.65" y="87.39" width="5.62" height="4.4" fill="#fce1d1"/>
<rect x="469.25" y="87.39" width="11.21" height="4.4" fill="#e8f0f4"/>
<rect x="480.44" y="87.39" width="5.62" height="4.4" fill="#fce1d1"/>
<rect x="486.04" y="87.39" width="5.62" height="4.4" fill="#f9ece4"/>
<rect x="491.63" y="87.39" width="5.62" height="4.4" fill="#f7f7f7"/>
<rect x="497.23" y="87.39" width="5.62" height="4.4" fill="#e8f0f4"/>
<rect x="502.82" y="87.39" width="5.62" height="4.4" fill="#f7f7f7"/>
<rect x="508.42" y="87.39" width="5.62" height="4.4" fill="#f9ece4"/>
<rect x="514.01" y="87.39" width="16.81" height="4.4" fill="#e8f0f4"/>
<rect x="530.8" y="87.39" width="5.62" height="4.4" fill="#f9ece4"/>
<rect x="536.4" y="87.39" width="5.62" height="4.4" fill="#e8f0f4"/>
<rect x="541.99" y="87.39" width="16.81" height="4.4" fill="#f7f7f7"/>
<rect x="558.78" y="87.39" width="5.62" height="4.4" fill="#e8f0f4"/>
<rect x="564.37" y="87.39" width="11.21" height="4.4" fill="#f7f7f7"/>
<rect x="575.56" y="87.39" width="5.62" height="4.4" fill="#e8f0f4"/>
<rect x="581.16" y="87.39" width="5.62" height="4.4" fill="#f7f7f7"/>
<rect x="586.75" y="87.39" width="5.62" height="4.4" fill="#e8f0f4"/>
<rect x="592.35" y="87.39" width="5.62" height="4.4" fill="#f9ece4"/>
<rect x="597.95" y="87.39" width="5.62" height="4.4" fill="#f7f7f7"/>
<rect x="603.54" y="87.39" width="5.62" height="4.4" fill="#f9ece4"/>
<rect x="609.14" y="87.39" width="5.62" height="4.4" fill="#f7f7f7"/>
<rect x="614.73" y="87.39" width="11.21" height="4.4" fill="#e8f0f4"/>
<rect x="625.92" y="87.39" width="5.62" height="4.4" fill="#f7f7f7"/>
<rect x="631.52" y="87.39" width="5.62" height="4.4" fill="#e8f0f4"/>
<rect x="637.11" y="87.39" width="5.62" height="4.4" fill="#d9e9f1"/>
<rect x="642.71" y="87.39" width="5.62" height="4.4" fill="#f7f7f7"/>
<rect x="648.3" y="87.39" width="5.62" height="4.4" fill="#f9ece4"/>
<rect x="407.7" y="91.77" width="5.62" height="4.4" fill="#e8f0f4"/>
<rect x="413.3" y="91.77" width="5.62" height="4.4" fill="#f9ece4"/>
<rect x="418.89" y="91.77" width="11.21" height="4.4" fill="#e8f0f4"/>
<rect x="430.08" y="91.77" width="11.21" height="4.4" fill="#d9e9f1"/>
<rect x="441.27" y="91.77" width="16.81" height="4.4" fill="#e8f0f4"/>
<rect x="458.06" y="91.77" width="5.62" height="4.4" fill="#f7f7f7"/>
<rect x="463.65" y="91.77" width="5.62" height="4.4" fill="#fce1d1"/>
<rect x="469.25" y="91.77" width="5.62" height="4.4" fill="#d9e9f1"/>
<rect x="474.85" y="91.77" width="11.21" height="4.4" fill="#e8f0f4"/>
<rect x="486.04" y="91.77" width="11.21" height="4.4" fill="#f7f7f7"/>
<rect x="497.23" y="91.77" width="11.21" height="4.4" fill="#e8f0f4"/>
<rect x="508.42" y="91.77" width="5.62" height="4.4" fill="#f9ece4"/>
<rect x="514.01" y="91.77" width="16.81" height="4.4" fill="#e8f0f4"/>
<rect x="530.8" y="91.77" width="5.62" height="4.4" fill="#f9ece4"/>
<rect x="536.4" y="91.77" width="11.21" height="4.4" fill="#e8f0f4"/>
<rect x="547.59" y="91.77" width="11.21" height="4.4" fill="#f9ece4"/>
<rect x="558.78" y="91.77" width="5.62" height="4.4" fill="#e8f0f4"/>
<rect x="564.37" y="91.77" width="5.62" height="4.4" fill="#f7f7f7"/>
<rect x="569.97" y="91.77" width="11.21" height="4.4" fill="#e8f0f4"/>
<rect x="581.16" y="91.77" width="5.62" height="4.4" fill="#f7f7f7"/>
<rect x="586.75" y="91.77" width="5.62" height="4.4" fill="#e8f0f4"/>
<rect x="592.35" y="91.77" width="5.62" height="4.4" fill="#f9ece4"/>
<rect x="597.95" y="91.77" width="5.62" height="4.4" fill="#f7f7f7"/>
<rect x="603.54" y="91.77" width="5.62" height="4.4" fill="#f9ece4"/>
<rect x="609.14" y="91.77" width="5.62" height="4.4" fill="#f7f7f7"/>
<rect x="614.73" y="91.77" width="5.62" height="4.4" fill="#e8f0f4"/>
<rect x="620.33" y="91.77" width="5.62" height="4.4" fill="#f7f7f7"/>
<rect x="625.92" y="91.77" width="5.62" height="4.4" fill="#f9ece4"/>
<rect x="631.52" y="91.77" width="16.81" height="4.4" fill="#e8f0f4"/>
<rect x="648.3" y="91.77" width="5.62" height="4.4" fill="#f7f7f7"/>
<rect x="407.7" y="96.15" width="5.62" height="4.4" fill="#e8f0f4"/>
<rect x="413.3" y="96.15" width="5.62" height="4.4" fill="#f9ece4"/>
<rect x="418.89" y="96.15" width="5.62" height="4.4" fill="#e8f0f4"/>
<rect x="424.49" y="96.15" width="5.62" height="4.4" fill="#d9e9f1"/>
<rect x="430.08" y="96.15" width="5.62" height="4.4" fill="#bcdaea"/>
<rect x="435.68" y="96.15" width="5.62" height="4.4" fill="#f4a582"/>
<rect x="441.27" y="96.15" width="5.62" height="4.4" fill="#f7f7f7"/>
<rect x="446.87" y="96.15" width="5.62" height="4.4" fill="#d9e9f1"/>
<rect x="452.46" y="96.15" width="16.81" height="4.4" fill="#f7f7f7"/>
<rect x="469.25" y="96.15" width="11.21" height="4.4" fill="#e8f0f4"/>
<rect x="480.44" y="96.15" width="5.62" height="4.4" fill="#f9ece4"/>
<rect x="486.04" y="96.15" width="5.62" height="4.4" fill="#fce1d1"/>
<rect x="491.63" y="96.15" width="5.62" height="4.4" fill="#f7f7f7"/>
<rect x="497.23" y="96.15" width="5.62" height="4.4" fill="#e8f0f4"/>
<rect x="502.82" y="96.15" width="11.21" height="4.4" fill="#f7f7f7"/>
<rect x="514.01" y="96.15" width="16.81" height="4.4" fill="#e8f0f4"/>
<rect x="530.8" y="96.15" width="5.62" height="4.4" fill="#f7f7f7"/>
<rect x="536.4" y="96.15" width="5.62" height="4.4" fill="#e8f0f4"/>
<rect x="541.99" y="96.15" width="11.21" height="4.4" fill="#f7f7f7"/>
<rect x="553.18" y="96.15" width="5.62" height="4.4" fill="#f9ece4"/>
<rect x="558.78" y="96.15" width="5.62" height="4.4" fill="#e8f0f4"/>
<rect x="564.37" y="96.15" width="5.62" height="4.4" fill="#f7f7f7"/>
<rect x="569.97" y="96.15" width="11.21" height="4.4" fill="#e8f0f4"/>
<rect x="581.16" y="96.15" width="5.62" height="4.4" fill="#f7f7f7"/>
<rect x="586.75" y="96.15" width="5.62" height="4.4" fill="#e8f0f4"/>
<rect x="592.35" y="96.15" width="5.62" height="4.4" fill="#f7f7f7"/>
<rect x="597.95" y="96.15" width="5.62" height="4.4" fill="#e8f0f4"/>
<rect x="603.54" y="96.15" width="5.62" height="4.4" fill="#f9ece4"/>
<rect x="609.14" y="96.15" width="22.4" height="4.4" fill="#e8f0f4"/>
<rect x="631.52" y="96.15" width="5.62" height="4.4" fill="#f7f7f7"/>
<rect x="637.11" y="96.15" width="5.62" height="4.4" fill="#e8f0f4"/>
<rect x="642.71" y="96.15" width="5.62" height="4.4" fill="#f7f7f7"/>
<rect x="648.3" y="96.15" width="5.62" height="4.4" fill="#f9ece4"/>
<rect x="407.7" y="100.53" width="5.62" height="4.4" fill="#d9e9f1"/>
<rect x="413.3" y="100.53" width="5.62" height="4.4" fill="#f9ece4"/>
<rect x="418.89" y="100.53" width="5.62" height="4.4" fill="#e8f0f4"/>
<rect x="424.49" y="100.53" width="11.21" height="4.4" fill="#d9e9f1"/>
<rect x="435.68" y="100.53" width="5.62" height="4.4" fill="#fce1d1"/>
<rect x="441.27" y="100.53" width="5.62" height="4.4" fill="#e8f0f4"/>
<rect x="446.87" y="100.53" width="5.62" height="4.4" fill="#d9e9f1"/>
<rect x="452.46" y="100.53" width="11.21" height="4.4" fill="#e8f0f4"/>
<rect x="463.65" y="100.53" width="5.62" height="4.4" fill="#f9ece4"/>
<rect x="469.25" y="100.53" width="11.21" height="4.4" fill="#e8f0f4"/>
<rect x="480.44" y="100.53" width="5.62" height="4.4" fill="#f4a582"/>
<rect x="486.04" y="100.53" width="5.62" height="4.4" fill="#f9ece4"/>
<rect x="491.63" y="100.53" width="5.62" height="4.4" fill="#b2182b"/>
<rect x="497.23" y="100.53" width="11.21" height="4.4" fill="#f7f7f7"/>
<rect x="508.42" y="100.53" width="5.62" height="4.4" fill="#f9c2a7"/>
<rect x="514.01" y="100.53" width="5.62" height="4.4" fill="#e8f0f4"/>
<rect x="519.61" y="100.53" width="5.62" height="4.4" fill="#d9e9f1"/>
<rect x="525.2" y="100.53" width="5.62" height="4.4" fill="#f7f7f7"/>
<rect x="530.8" y="100.53" width="5.62" height="4.4" fill="#f9ece4"/>
<rect x="536.4" y="100.53" width="11.21" height="4.4" fill="#e8f0f4"/>
<rect x="547.59" y="100.53" width="11.21" height="4.4" fill="#f9ece4"/>
<rect x="558.78" y="100.53" width="5.62" height="4.4" fill="#e8f0f4"/>
<rect x="564.37" y="100.53" width="5.62" height="4.4" fill="#f7f7f7"/>
<rect x="569.97" y="100.53" width="5.62" height="4.4" fill="#f9ece4"/>
<rect x="575.56" y="100.53" width="5.62" height="4.4" fill="#e8f0f4"/>
<rect x="581.16" y="100.53" width="11.21" height="4.4" fill="#f7f7f7"/>
<rect x="592.35" y="100.53" width="16.81" height="4.4" fill="#fce1d1"/>
<rect x="609.14" y="100.53" width="5.62" height="4.4" fill="#f9c2a7"/>
<rect x="614.73" y="100.53" width="11.21" height="4.4" fill="#e8f0f4"/>
<rect x="625.92" y="100.53" width="5.62" height="4.4" fill="#e0775f"/>
<rect x="631.52" y="100.53" width="5.62" height="4.4" fill="#f9ece4"/>
<rect x="637.11" y="100.53" width="5.62" height="4.4" fill="#e8f0f4"/>
<rect x="642.71" y="100.53" width="11.21" height="4.4" fill="#fce1d1"/>
<rect x="407.7" y="104.91" width="5.62" height="4.4" fill="#d9e9f1"/>
<rect x="413.3" y="104.91" width="5.62" height="4.4" fill="#f9ece4"/>
<rect x="418.89" y="104.91" width="16.81" height="4.4" fill="#d9e9f1"/>
<rect x="435.68" y="104.91" width="5.62" height="4.4" fill="#f9c2a7"/>
<rect x="441.27" y="104.91" width="5.62" height="4.4" fill="#e8f0f4"/>
<rect x="446.87" y="104.91" width="5.62" height="4.4" fill="#d9e9f1"/>
<rect x="452.46" y="104.91" width="11.21" height="4.4" fill="#e8f0f4"/>
<rect x="463.65" y="104.91" width="5.62" height="4.4" fill="#fce1d1"/>
<rect x="469.25" y="104.91" width="5.62" height="4.4" fill="#f7f7f7"/>
<rect x="474.85" y="104.91" width="5.62" height="4.4" fill="#e8f0f4"/>
<rect x="480.44" y="104.91" width="5.62" height="4.4" fill="#fce1d1"/>
<rect x="486.04" y="104.91" width="5.62" height="4.4" fill="#f9c2a7"/>
<rect x="491.63" y="104.91" width="5.62" height="4.4" fill="#f4a582"/>
<rect x="497.23" y="104.91" width="5.62" height="4.4" fill="#e8f0f4"/>
<rect x="502.82" y="104.91" width="5.62" height="4.4" fill="#f9ece4"/>
<rect x="508.42" y="104.91" width="5.62" height="4.4" fill="#f4a582"/>
<rect x="514.01" y="104.91" width="16.81" height="4.4" fill="#e8f0f4"/>
<rect x="530.8" y="104.91" width="5.62" height="4.4" fill="#f7f7f7"/>
<rect x="536.4" y="104.91" width="11.21" height="4.4" fill="#e8f0f4"/>
<rect x="547.59" y="104.91" width="5.62" height="4.4" fill="#f9ece4"/>
<rect x="553.18" y="104.91" width="5.62" height="4.4" fill="#f7f7f7"/>
<rect x="558.78" y="104.91" width="5.62" height="4.4" fill="#e8f0f4"/>
<rect x="564.37" y="104.91" width="11.21" height="4.4" fill="#f7f7f7"/>
<rect x="575.56" y="104.91" width="5.62" height="4.4" fill="#e8f0f4"/>
<rect x="581.16" y="104.91" width="11.21" height="4.4" fill="#f7f7f7"/>
<rect x="592.35" y="104.91" width="11.21" height="4.4" fill="#f9ece4"/>
<rect x="603.54" y="104.91" width="5.62" height="4.4" fill="#fce1d1"/>
<rect x="609.14" y="104.91" width="5.62" height="4.4" fill="#f9ece4"/>
<rect x="614.73" y="104.91" width="11.21" height="4.4" fill="#e8f0f4"/>
<rect x="625.92" y="104.91" width="5.62" height="4.4" fill="#fce1d1"/>
<rect x="631.52" y="104.91" width="5.62" height="4.4" fill="#f9ece4"/>
<rect x="637.11" y="104.91" width="5.62" height="4.4" fill="#e8f0f4"/>
<rect x="642.71" y="104.91" width="5.62" height="4.4" fill="#f9ece4"/>
<rect x="648.3" y="104.91" width="5.62" height="4.4" fill="#fce1d1"/>
<rect x="407.7" y="109.3" width="5.62" height="4.4" fill="#bcdaea"/>
<rect x="413.3" y="109.3" width="5.62" height="4.4" fill="#f9ece4"/>
<rect x="418.89" y="109.3" width="11.21" height="4.4" fill="#d9e9f1"/>
<rect x="430.08" y="109.3" width="5.62" height="4.4" fill="#bcdaea"/>
<rect x="435.68" y="109.3" width="5.62" height="4.4" fill="#d9e9f1"/>
<rect x="441.27" y="109.3" width="11.21" height="4.4" fill="#e8f0f4"/>
<rect x="452.46" y="109.3" width="5.62" height="4.4" fill="#d9e9f1"/>
<rect x="458.06" y="109.3" width="33.59" height="4.4" fill="#e8f0f4"/>
<rect x="491.63" y="109.3" width="5.62" height="4.4" fill="#f9ece4"/>
<rect x="497.23" y="109.3" width="16.81" height="4.4" fill="#e8f0f4"/>
<rect x="514.01" y="109.3" width="11.21" height="4.4" fill="#d9e9f1"/>
<rect x="525.2" y="109.3" width="5.62" height="4.4" fill="#f7f7f7"/>
<rect x="530.8" y="109.3" width="16.81" height="4.4" fill="#e8f0f4"/>
<rect x="547.59" y="109.3" width="11.21" height="4.4" fill="#f7f7f7"/>
<rect x="558.78" y="109.3" width="11.21" height="4.4" fill="#e8f0f4"/>
<rect x="569.97" y="109.3" width="5.62" height="4.4" fill="#f7f7f7"/>
<rect x="575.56" y="109.3" width="22.4" height="4.4" fill="#e8f0f4"/>
<rect x="597.95" y="109.3" width="5.62" height="4.4" fill="#f7f7f7"/>
<rect x="603.54" y="109.3" width="5.62" height="4.4" fill="#e8f0f4"/>
<rect x="609.14" y="109.3" width="22.4" height="4.4" fill="#d9e9f1"/>
<rect x="631.52" y="109.3" width="5.62" height="4.4" fill="#e8f0f4"/>
<rect x="637.11" y="109.3" width="11.21" height="4.4" fill="#d9e9f1"/>
<rect x="648.3" y="109.3" width="5.62" height="4.4" fill="#e8f0f4"/>
<rect x="407.7" y="113.68" width="5.62" height="4.4" fill="#f7f7f7"/>
<rect x="413.3" y="113.68" width="5.62" height="4.4" fill="#f9ece4"/>
<rect x="418.89" y="113.68" width="11.21" height="4.4" fill="#d9e9f1"/>
<rect x="430.08" y="113.68" width="5.62" height="4.4" fill="#bcdaea"/>
<rect x="435.68" y="113.68" width="16.81" height="4.4" fill="#d9e9f1"/>
<rect x="452.46" y="113.68" width="5.62" height="4.4" fill="#e8f0f4"/>
<rect x="458.06" y="113.68" width="22.4" height="4.4" fill="#d9e9f1"/>
<rect x="480.44" y="113.68" width="33.59" height="4.4" fill="#e8f0f4"/>
<rect x="514.01" y="113.68" width="5.62" height="4.4" fill="#f7f7f7"/>
<rect x="519.61" y="113.68" width="5.62" height="4.4" fill="#e8f0f4"/>
<rect x="525.2" y="113.68" width="5.62" height="4.4" fill="#d9e9f1"/>
<rect x="530.8" y="113.68" width="5.62" height="4.4" fill="#f7f7f7"/>
<rect x="536.4" y="113.68" width="5.62" height="4.4" fill="#d9e9f1"/>
<rect x="541.99" y="113.68" width="5.62" height="4.4" fill="#e8f0f4"/>
<rect x="547.59" y="113.68" width="11.21" height="4.4" fill="#f7f7f7"/>
<rect x="558.78" y="113.68" width="16.81" height="4.4" fill="#e8f0f4"/>
<rect x="575.56" y="113.68" width="5.62" height="4.4" fill="#d9e9f1"/>
<rect x="581.16" y="113.68" width="11.21" height="4.4" fill="#e8f0f4"/>
<rect x="592.35" y="113.68" width="16.81" height="4.4" fill="#f7f7f7"/>
<rect x="609.14" y="113.68" width="5.62" height="4.4" fill="#e8f0f4"/>
<rect x="614.73" y="113.68" width="16.81" height="4.4" fill="#d9e9f1"/>
<rect x="631.52" y="113.68" width="5.62" height="4.4" fill="#e8f0f4"/>
<rect x="637.11" y="113.68" width="16.81" height="4.4" fill="#d9e9f1"/>
<rect x="407.7" y="118.06" width="11.21" height="4.4" fill="#f9ece4"/>
<rect x="418.89" y="118.06" width="5.62" height="4.4" fill="#e8f0f4"/>
<rect x="424.49" y="118.06" width="5.62" height="4.4" fill="#f7f7f7"/>
<rect x="430.08" y="118.06" width="5.62" height="4.4" fill="#d9e9f1"/>
<rect x="435.68" y="118.06" width="5.62" height="4.4" fill="#f9ece4"/>
<rect x="441.27" y="118.06" width="5.62" height="4.4" fill="#f7f7f7"/>
<rect x="446.87" y="118.06" width="5.62" height="4.4" fill="#e8f0f4"/>
<rect x="452.46" y="118.06" width="11.21" height="4.4" fill="#f7f7f7"/>
<rect x="463.65" y="118.06" width="5.62" height="4.4" fill="#f9c2a7"/>
<rect x="469.25" y="118.06" width="11.21" height="4.4" fill="#f7f7f7"/>
<rect x="480.44" y="118.06" width="5.62" height="4.4" fill="#e0775f"/>
<rect x="486.04" y="118.06" width="5.62" height="4.4" fill="#f4a582"/>
<rect x="491.63" y="118.06" width="5.62" height="4.4" fill="#fce1d1"/>
<rect x="497.23" y="118.06" width="5.62" height="4.4" fill="#e8f0f4"/>
<rect x="502.82" y="118.06" width="5.62" height="4.4" fill="#f9c2a7"/>
<rect x="508.42" y="118.06" width="5.62" height="4.4" fill="#e0775f"/>
<rect x="514.01" y="118.06" width="11.21" height="4.4" fill="#f7f7f7"/>
<rect x="525.2" y="118.06" width="5.62" height="4.4" fill="#e8f0f4"/>
<rect x="530.8" y="118.06" width="5.62" height="4.4" fill="#f9ece4"/>
<rect x="536.4" y="118.06" width="11.21" height="4.4" fill="#f7f7f7"/>
<rect x="547.59" y="118.06" width="11.21" height="4.4" fill="#f9ece4"/>
<rect x="558.78" y="118.06" width="5.62" height="4.4" fill="#f7f7f7"/>
<rect x="564.37" y="118.06" width="11.21" height="4.4" fill="#f9ece4"/>
<rect x="575.56" y="118.06" width="5.62" height="4.4" fill="#f7f7f7"/>
<rect x="581.16" y="118.06" width="5.62" height="4.4" fill="#f9ece4"/>
<rect x="586.75" y="118.06" width="5.62" height="4.4" fill="#f7f7f7"/>
<rect x="592.35" y="118.06" width="22.4" height="4.4" fill="#fce1d1"/>
<rect x="614.73" y="118.06" width="5.62" height="4.4" fill="#f7f7f7"/>
<rect x="620.33" y="118.06" width="5.62" height="4.4" fill="#e8f0f4"/>
<rect x="625.92" y="118.06" width="5.62" height="4.4" fill="#fce1d1"/>
<rect x="631.52" y="118.06" width="5.62" height="4.4" fill="#f9ece4"/>
<rect x="637.11" y="118.06" width="5.62" height="4.4" fill="#e8f0f4"/>
<rect x="642.71" y="118.06" width="5.62" height="4.4" fill="#f9ece4"/>
<rect x="648.3" y="118.06" width="5.62" height="4.4" fill="#fce1d1"/>
<rect x="407.7" y="122.44" width="5.62" height="4.4" fill="#f7f7f7"/>
<rect x="413.3" y="122.44" width="5.62" height="4.4" fill="#f9ece4"/>
<rect x="418.89" y="122.44" width="5.62" height="4.4" fill="#e8f0f4"/>
<rect x="424.49" y="122.44" width="11.21" height="4.4" fill="#d9e9f1"/>
<rect x="435.68" y="122.44" width="5.62" height="4.4" fill="#f9ece4"/>
<rect x="441.27" y="122.44" width="5.62" height="4.4" fill="#f7f7f7"/>
<rect x="446.87" y="122.44" width="11.21" height="4.4" fill="#e8f0f4"/>
<rect x="458.06" y="122.44" width="5.62" height="4.4" fill="#f7f7f7"/>
<rect x="463.65" y="122.44" width="5.62" height="4.4" fill="#fce1d1"/>
<rect x="469.25" y="122.44" width="5.62" height="4.4" fill="#f9ece4"/>
<rect x="474.85" y="122.44" width="5.62" height="4.4" fill="#f7f7f7"/>
<rect x="480.44" y="122.44" width="11.21" height="4.4" fill="#e0775f"/>
<rect x="491.63" y="122.44" width="5.62" height="4.4" fill="#f4a582"/>
<rect x="497.23" y="122.44" width="5.62" height="4.4" fill="#f7f7f7"/>
<rect x="502.82" y="122.44" width="5.62" height="4.4" fill="#fce1d1"/>
<rect x="508.42" y="122.44" width="5.62" height="4.4" fill="#e0775f"/>
<rect x="514.01" y="122.44" width="16.81" height="4.4" fill="#f7f7f7"/>
<rect x="530.8" y="122.44" width="5.62" height="4.4" fill="#f9ece4"/>
<rect x="536.4" y="122.44" width="5.62" height="4.4" fill="#e8f0f4"/>
<rect x="541.99" y="122.44" width="5.62" height="4.4" fill="#f7f7f7"/>
<rect x="547.59" y="122.44" width="11.21" height="4.4" fill="#f9ece4"/>
<rect x="558.78" y="122.44" width="11.21" height="4.4" fill="#f7f7f7"/>
<rect x="569.97" y="122.44" width="5.62" height="4.4" fill="#f9ece4"/>
<rect x="575.56" y="122.44" width="16.81" height="4.4" fill="#f7f7f7"/>
<rect x="592.35" y="122.44" width="5.62" height="4.4" fill="#fce1d1"/>
<rect x="597.95" y="122.44" width="5.62" height="4.4" fill="#f7f7f7"/>
<rect x="603.54" y="122.44" width="5.62" height="4.4" fill="#fce1d1"/>
<rect x="609.14" y="122.44" width="5.62" height="4.4" fill="#f7f7f7"/>
<rect x="614.73" y="122.44" width="5.62" height="4.4" fill="#e8f0f4"/>
<rect x="620.33" y="122.44" width="5.62" height="4.4" fill="#d9e9f1"/>
<rect x="625.92" y="122.44" width="11.21" height="4.4" fill="#f9ece4"/>
<rect x="637.11" y="122.44" width="11.21" height="4.4" fill="#f7f7f7"/>
<rect x="648.3" y="122.44" width="5.62" height="4.4" fill="#f9c2a7"/>
<rect x="407.7" y="126.82" width="5.62" height="4.4" fill="#e8f0f4"/>
<rect x="413.3" y="126.82" width="5.62" height="4.4" fill="#fce1d1"/>
<rect x="418.89" y="126.82" width="11.21" height="4.4" fill="#e8f0f4"/>
<rect x="430.08" y="126.82" width="5.62" height="4.4" fill="#d9e9f1"/>
<rect x="435.68" y="126.82" width="5.62" height="4.4" fill="#e8f0f4"/>
<rect x="441.27" y="126.82" width="5.62" height="4.4" fill="#d9e9f1"/>
<rect x="446.87" y="126.82" width="11.21" height="4.4" fill="#e8f0f4"/>
<rect x="458.06" y="126.82" width="5.62" height="4.4" fill="#f7f7f7"/>
<rect x="463.65" y="126.82" width="16.81" height="4.4" fill="#e8f0f4"/>
<rect x="480.44" y="126.82" width="11.21" height="4.4" fill="#f9ece4"/>
<rect x="491.63" y="126.82" width="16.81" height="4.4" fill="#e8f0f4"/>
<rect x="508.42" y="126.82" width="5.62" height="4.4" fill="#fce1d1"/>
<rect x="514.01" y="126.82" width="16.81" height="4.4" fill="#e8f0f4"/>
<rect x="530.8" y="126.82" width="5.62" height="4.4" fill="#f9ece4"/>
<rect x="536.4" y="126.82" width="5.62" height="4.4" fill="#e8f0f4"/>
<rect x="541.99" y="126.82" width="11.21" height="4.4" fill="#f9ece4"/>
<rect x="553.18" y="126.82" width="5.62" height="4.4" fill="#f7f7f7"/>
<rect x="558.78" y="126.82" width="5.62" height="4.4" fill="#e8f0f4"/>
<rect x="564.37" y="126.82" width="11.21" height="4.4" fill="#f7f7f7"/>
<rect x="575.56" y="126.82" width="5.62" height="4.4" fill="#e8f0f4"/>
<rect x="581.16" y="126.82" width="11.21" height="4.4" fill="#f7f7f7"/>
<rect x="592.35" y="126.82" width="11.21" height="4.4" fill="#f9ece4"/>
<rect x="603.54" y="126.82" width="5.62" height="4.4" fill="#fce1d1"/>
<rect x="609.14" y="126.82" width="5.62" height="4.4" fill="#f9ece4"/>
<rect x="614.73" y="126.82" width="5.62" height="4.4" fill="#f7f7f7"/>
<rect x="620.33" y="126.82" width="5.62" height="4.4" fill="#e8f0f4"/>
<rect x="625.92" y="126.82" width="5.62" height="4.4" fill="#f7f7f7"/>
<rect x="631.52" y="126.82" width="5.62" height="4.4" fill="#e8f0f4"/>
<rect x="637.11" y="126.82" width="5.62" height="4.4" fill="#d9e9f1"/>
<rect x="642.71" y="126.82" width="5.62" height="4.4" fill="#f7f7f7"/>
<rect x="648.3" y="126.82" width="5.62" height="4.4" fill="#fce1d1"/>
<circle cx="409.8" cy="63.3" r="1.75" fill="#000"/>
<circle cx="415.39" cy="63.3" r="1.75" fill="#000"/>
<circle cx="420.99" cy="50.15" r="1.75" fill="#000"/>
<circle cx="426.58" cy="50.15" r="1.75" fill="#000"/>
<circle cx="432.18" cy="120.25" r="1.75" fill="#000"/>
<circle cx="437.77" cy="115.87" r="1.75" fill="#000"/>
<circle cx="443.37" cy="45.77" r="1.75" fill="#000"/>
<circle cx="448.97" cy="63.3" r="1.75" fill="#000"/>
<circle cx="454.56" cy="89.58" r="1.75" fill="#000"/>
<circle cx="460.16" cy="63.3" r="1.75" fill="#000"/>
<circle cx="465.75" cy="115.87" r="1.75" fill="#000"/>
<circle cx="471.35" cy="63.3" r="1.75" fill="#000"/>
<circle cx="476.94" cy="63.3" r="1.75" fill="#000"/>
<circle cx="482.54" cy="111.49" r="1.75" fill="#000"/>
<circle cx="488.13" cy="115.87" r="1.75" fill="#000"/>
<circle cx="493.73" cy="45.77" r="1.75" fill="#000"/>
<circle cx="499.32" cy="63.3" r="1.75" fill="#000"/>
<circle cx="504.92" cy="111.49" r="1.75" fill="#000"/>
<circle cx="510.52" cy="115.87" r="1.75" fill="#000"/>
<circle cx="516.11" cy="63.3" r="1.75" fill="#000"/>
<circle cx="521.71" cy="63.3" r="1.75" fill="#000"/>
<circle cx="527.3" cy="50.15" r="1.75" fill="#000"/>
<circle cx="532.9" cy="98.34" r="1.75" fill="#000"/>
<circle cx="538.49" cy="120.25" r="1.75" fill="#000"/>
<circle cx="544.09" cy="120.25" r="1.75" fill="#000"/>
<circle cx="549.68" cy="50.15" r="1.75" fill="#000"/>
<circle cx="555.28" cy="45.77" r="1.75" fill="#000"/>
<circle cx="560.87" cy="120.25" r="1.75" fill="#000"/>
<circle cx="566.47" cy="50.15" r="1.75" fill="#000"/>
<circle cx="572.07" cy="89.58" r="1.75" fill="#000"/>
<circle cx="577.66" cy="120.25" r="1.75" fill="#000"/>
<circle cx="583.26" cy="89.58" r="1.75" fill="#000"/>
<circle cx="588.85" cy="120.25" r="1.75" fill="#000"/>
<circle cx="594.45" cy="50.15" r="1.75" fill="#000"/>
<circle cx="600.04" cy="85.2" r="1.75" fill="#000"/>
<circle cx="605.64" cy="50.15" r="1.75" fill="#000"/>
<circle cx="611.23" cy="89.58" r="1.75" fill="#000"/>
<circle cx="616.83" cy="63.3" r="1.75" fill="#000"/>
<circle cx="622.42" cy="63.3" r="1.75" fill="#000"/>
<circle cx="628.02" cy="89.58" r="1.75" fill="#000"/>
<circle cx="633.62" cy="80.82" r="1.75" fill="#000"/>
<circle cx="639.21" cy="63.3" r="1.75" fill="#000"/>
<circle cx="644.81" cy="89.58" r="1.75" fill="#000"/>
<circle cx="650.4" cy="50.15" r="1.75" fill="#000"/>
<text x="3.4" y="156.8" font-size="13.5" font-weight="bold" text-anchor="start" fill="#000">b</text>
<rect x="75.9" y="177.7" width="528.8" height="28.8" fill="#e3e3e3"/>
<rect x="75.9" y="177.7" width="113.3" height="28.8" fill="#f29bbb"/>
<rect x="212" y="177.7" width="146" height="28.8" fill="#a9d18e"/>
<rect x="576.8" y="177.7" width="19.3" height="28.8" fill="#f29bbb"/>
<text x="73.3" y="177.8" font-size="10" font-weight="bold" text-anchor="middle" fill="#000">1</text>
<text x="610.4" y="177.6" font-size="10" font-weight="bold" text-anchor="middle" fill="#000">326</text>
<text x="102.9" y="158" font-size="10" font-weight="bold" text-anchor="middle" fill="#000">HPD Motif</text>
<text x="102.6" y="169.6" font-size="10" font-weight="bold" text-anchor="middle" fill="#000">H31</text>
<line x1="104.3" y1="171.7" x2="104.3" y2="184.6" stroke="#000" stroke-width="2"/>
<text x="247.6" y="155" font-size="10" font-weight="bold" text-anchor="middle" fill="#000">LGMDD1 Mutations</text>
<text x="221.3" y="170.7" font-size="10" font-weight="bold" text-anchor="middle" fill="#000">F89I</text>
<text x="247" y="166.8" font-size="10" font-weight="bold" text-anchor="middle" fill="#000">F93L</text>
<text x="272.2" y="171" font-size="10" font-weight="bold" text-anchor="middle" fill="#000">P96L</text>
<line x1="224.1" y1="172" x2="224.1" y2="184.7" stroke="#000" stroke-width="2"/>
<line x1="247.8" y1="169.4" x2="247.8" y2="184.7" stroke="#000" stroke-width="2"/>
<line x1="262.2" y1="172" x2="262.2" y2="184.7" stroke="#000" stroke-width="2"/>
<text x="106.3" y="216.9" font-size="10" font-weight="bold" text-anchor="middle" fill="#000">J-domain</text>
<text x="264.5" y="216.2" font-size="10" font-weight="bold" text-anchor="middle" fill="#000">Gly/Phe rich domain</text>
<text x="361.3" y="216.3" font-size="10" font-weight="bold" text-anchor="middle" fill="#000">Ser rich</text>
<text x="361.5" y="227.4" font-size="10" font-weight="bold" text-anchor="middle" fill="#000">domain</text>
<text x="580.5" y="216.8" font-size="10" font-weight="bold" text-anchor="middle" fill="#000">Predicted NLS</text>
<line x1="19.8" y1="227.4" x2="206.8" y2="210.4" stroke="#000" stroke-width="1.2"/>
<line x1="395.7" y1="211" x2="617.3" y2="227.9" stroke="#000" stroke-width="1.2"/>
<rect x="16" y="230.8" width="53.68" height="8.12" fill="#fbccb4"/>
<rect x="69.66" y="230.8" width="5.39" height="8.12" fill="#f6b394"/>
<rect x="75.03" y="230.8" width="5.39" height="8.12" fill="#fbe4d6"/>
<rect x="80.39" y="230.8" width="32.22" height="8.12" fill="#fbccb4"/>
<rect x="112.59" y="230.8" width="5.39" height="8.12" fill="#fbe4d6"/>
<rect x="117.96" y="230.8" width="5.39" height="8.12" fill="#f6b394"/>
<rect x="123.32" y="230.8" width="16.12" height="8.12" fill="#fbe4d6"/>
<rect x="139.42" y="230.8" width="10.75" height="8.12" fill="#f6b394"/>
<rect x="150.15" y="230.8" width="10.75" height="8.12" fill="#fbccb4"/>
<rect x="160.88" y="230.8" width="10.75" height="8.12" fill="#f6b394"/>
<rect x="171.62" y="230.8" width="5.39" height="8.12" fill="#fbccb4"/>
<rect x="176.98" y="230.8" width="5.39" height="8.12" fill="#f6b394"/>
<rect x="182.35" y="230.8" width="10.75" height="8.12" fill="#fbe4d6"/>
<rect x="193.08" y="230.8" width="10.75" height="8.12" fill="#fbccb4"/>
<rect x="203.81" y="230.8" width="5.39" height="8.12" fill="#f6b394"/>
<rect x="209.18" y="230.8" width="10.75" height="8.12" fill="#fbe4d6"/>
<rect x="219.91" y="230.8" width="10.75" height="8.12" fill="#fbccb4"/>
<rect x="230.64" y="230.8" width="16.12" height="8.12" fill="#fbe4d6"/>
<rect x="246.74" y="230.8" width="10.75" height="8.12" fill="#fbccb4"/>
<rect x="257.47" y="230.8" width="5.39" height="8.12" fill="#fbe4d6"/>
<rect x="262.84" y="230.8" width="10.75" height="8.12" fill="#f6b394"/>
<rect x="273.57" y="230.8" width="5.39" height="8.12" fill="#fbe4d6"/>
<rect x="278.94" y="230.8" width="5.39" height="8.12" fill="#f6b394"/>
<rect x="284.3" y="230.8" width="5.39" height="8.12" fill="#fbccb4"/>
<rect x="289.67" y="230.8" width="5.39" height="8.12" fill="#fbe4d6"/>
<rect x="295.04" y="230.8" width="10.75" height="8.12" fill="#fbccb4"/>
<rect x="305.77" y="230.8" width="5.39" height="8.12" fill="#f6b394"/>
<rect x="311.13" y="230.8" width="5.39" height="8.12" fill="#fbccb4"/>
<rect x="316.5" y="230.8" width="10.75" height="8.12" fill="#f6b394"/>
<rect x="327.23" y="230.8" width="5.39" height="8.12" fill="#fbe4d6"/>
<rect x="332.6" y="230.8" width="5.39" height="8.12" fill="#f7f7f7"/>
<rect x="337.96" y="230.8" width="5.39" height="8.12" fill="#fbccb4"/>
<rect x="343.33" y="230.8" width="10.75" height="8.12" fill="#fbe4d6"/>
<rect x="354.06" y="230.8" width="5.39" height="8.12" fill="#f6b394"/>
<rect x="359.43" y="230.8" width="10.75" height="8.12" fill="#fbe4d6"/>
<rect x="370.16" y="230.8" width="10.75" height="8.12" fill="#fbccb4"/>
<rect x="380.89" y="230.8" width="5.39" height="8.12" fill="#fbe4d6"/>
<rect x="386.26" y="230.8" width="5.39" height="8.12" fill="#f6b394"/>
<rect x="391.62" y="230.8" width="26.85" height="8.12" fill="#fbccb4"/>
<rect x="418.46" y="230.8" width="5.39" height="8.12" fill="#f6b394"/>
<rect x="423.82" y="230.8" width="5.39" height="8.12" fill="#fbccb4"/>
<rect x="429.19" y="230.8" width="26.85" height="8.12" fill="#fbe4d6"/>
<rect x="456.02" y="230.8" width="10.75" height="8.12" fill="#fbccb4"/>
<rect x="466.75" y="230.8" width="5.39" height="8.12" fill="#fbe4d6"/>
<rect x="472.12" y="230.8" width="16.12" height="8.12" fill="#fbccb4"/>
<rect x="488.21" y="230.8" width="5.39" height="8.12" fill="#f6b394"/>
<rect x="493.58" y="230.8" width="5.39" height="8.12" fill="#fbccb4"/>
<rect x="498.95" y="230.8" width="5.39" height="8.12" fill="#fbe4d6"/>
<rect x="504.31" y="230.8" width="69.78" height="8.12" fill="#fbccb4"/>
<rect x="574.07" y="230.8" width="5.39" height="8.12" fill="#f6b394"/>
<rect x="579.44" y="230.8" width="10.75" height="8.12" fill="#fbccb4"/>
<rect x="590.17" y="230.8" width="5.39" height="8.12" fill="#fbe4d6"/>
<rect x="595.54" y="230.8" width="16.12" height="8.12" fill="#fbccb4"/>
<rect x="611.63" y="230.8" width="5.39" height="8.12" fill="#f6b394"/>
<rect x="16" y="238.9" width="10.75" height="9" fill="#f7f7f7"/>
<rect x="26.73" y="238.9" width="5.39" height="9" fill="#eaf1f5"/>
<rect x="32.1" y="238.9" width="5.39" height="9" fill="#f7f7f7"/>
<rect x="37.46" y="238.9" width="5.39" height="9" fill="#eaf1f5"/>
<rect x="42.83" y="238.9" width="5.39" height="9" fill="#f7f7f7"/>
<rect x="48.2" y="238.9" width="10.75" height="9" fill="#eaf1f5"/>
<rect x="58.93" y="238.9" width="10.75" height="9" fill="#f9ede6"/>
<rect x="69.66" y="238.9" width="5.39" height="9" fill="#eaf1f5"/>
<rect x="75.03" y="238.9" width="5.39" height="9" fill="#fbe4d6"/>
<rect x="80.39" y="238.9" width="5.39" height="9" fill="#eaf1f5"/>
<rect x="85.76" y="238.9" width="5.39" height="9" fill="#ddeaf2"/>
<rect x="91.12" y="238.9" width="5.39" height="9" fill="#f9ede6"/>
<rect x="96.49" y="238.9" width="5.39" height="9" fill="#f7f7f7"/>
<rect x="101.86" y="238.9" width="5.39" height="9" fill="#f9ede6"/>
<rect x="107.22" y="238.9" width="5.39" height="9" fill="#f7f7f7"/>
<rect x="112.59" y="238.9" width="5.39" height="9" fill="#f9ede6"/>
<rect x="117.96" y="238.9" width="5.39" height="9" fill="#f7f7f7"/>
<rect x="123.32" y="238.9" width="5.39" height="9" fill="#f9ede6"/>
<rect x="128.69" y="238.9" width="5.39" height="9" fill="#eaf1f5"/>
<rect x="134.05" y="238.9" width="5.39" height="9" fill="#fbe4d6"/>
<rect x="139.42" y="238.9" width="5.39" height="9" fill="#eaf1f5"/>
<rect x="144.79" y="238.9" width="16.12" height="9" fill="#ddeaf2"/>
<rect x="160.88" y="238.9" width="5.39" height="9" fill="#f7f7f7"/>
<rect x="166.25" y="238.9" width="5.39" height="9" fill="#eaf1f5"/>
<rect x="171.62" y="238.9" width="10.75" height="9" fill="#f7f7f7"/>
<rect x="182.35" y="238.9" width="5.39" height="9" fill="#eaf1f5"/>
<rect x="187.71" y="238.9" width="5.39" height="9" fill="#ddeaf2"/>
<rect x="193.08" y="238.9" width="5.39" height="9" fill="#eaf1f5"/>
<rect x="198.45" y="238.9" width="5.39" height="9" fill="#f9ede6"/>
<rect x="203.81" y="238.9" width="10.75" height="9" fill="#eaf1f5"/>
<rect x="214.54" y="238.9" width="5.39" height="9" fill="#f7f7f7"/>
<rect x="219.91" y="238.9" width="5.39" height="9" fill="#f9ede6"/>
<rect x="225.28" y="238.9" width="16.12" height="9" fill="#eaf1f5"/>
<rect x="241.38" y="238.9" width="5.39" height="9" fill="#f9ede6"/>
<rect x="246.74" y="238.9" width="5.39" height="9" fill="#f7f7f7"/>
<rect x="252.11" y="238.9" width="5.39" height="9" fill="#f9ede6"/>
<rect x="257.47" y="238.9" width="10.75" height="9" fill="#eaf1f5"/>
<rect x="268.21" y="238.9" width="16.12" height="9" fill="#f7f7f7"/>
<rect x="284.3" y="238.9" width="5.39" height="9" fill="#eaf1f5"/>
<rect x="289.67" y="238.9" width="5.39" height="9" fill="#f7f7f7"/>
<rect x="295.04" y="238.9" width="5.39" height="9" fill="#eaf1f5"/>
<rect x="300.4" y="238.9" width="10.75" height="9" fill="#f9ede6"/>
<rect x="311.13" y="238.9" width="5.39" height="9" fill="#f7f7f7"/>
<rect x="316.5" y="238.9" width="26.85" height="9" fill="#eaf1f5"/>
<rect x="343.33" y="238.9" width="5.39" height="9" fill="#ddeaf2"/>
<rect x="348.7" y="238.9" width="5.39" height="9" fill="#eaf1f5"/>
<rect x="354.06" y="238.9" width="5.39" height="9" fill="#f9ede6"/>
<rect x="359.43" y="238.9" width="5.39" height="9" fill="#eaf1f5"/>
<rect x="364.79" y="238.9" width="10.75" height="9" fill="#f7f7f7"/>
<rect x="375.53" y="238.9" width="10.75" height="9" fill="#ddeaf2"/>
<rect x="386.26" y="238.9" width="5.39" height="9" fill="#f7f7f7"/>
<rect x="391.62" y="238.9" width="5.39" height="9" fill="#eaf1f5"/>
<rect x="396.99" y="238.9" width="5.39" height="9" fill="#f7f7f7"/>
<rect x="402.36" y="238.9" width="16.12" height="9" fill="#eaf1f5"/>
<rect x="418.46" y="238.9" width="5.39" height="9" fill="#f9ede6"/>
<rect x="423.82" y="238.9" width="32.22" height="9" fill="#eaf1f5"/>
<rect x="456.02" y="238.9" width="5.39" height="9" fill="#f7f7f7"/>
<rect x="461.38" y="238.9" width="5.39" height="9" fill="#eaf1f5"/>
<rect x="466.75" y="238.9" width="10.75" height="9" fill="#ddeaf2"/>
<rect x="477.48" y="238.9" width="5.39" height="9" fill="#eaf1f5"/>
<rect x="482.85" y="238.9" width="10.75" height="9" fill="#ddeaf2"/>
<rect x="493.58" y="238.9" width="37.58" height="9" fill="#f9ede6"/>
<rect x="531.14" y="238.9" width="5.39" height="9" fill="#fbe4d6"/>
<rect x="536.51" y="238.9" width="5.39" height="9" fill="#f9ede6"/>
<rect x="541.88" y="238.9" width="5.39" height="9" fill="#f7f7f7"/>
<rect x="547.24" y="238.9" width="5.39" height="9" fill="#eaf1f5"/>
<rect x="552.61" y="238.9" width="5.39" height="9" fill="#ddeaf2"/>
<rect x="557.97" y="238.9" width="5.39" height="9" fill="#f7f7f7"/>
<rect x="563.34" y="238.9" width="5.39" height="9" fill="#eaf1f5"/>
<rect x="568.71" y="238.9" width="5.39" height="9" fill="#ddeaf2"/>
<rect x="574.07" y="238.9" width="5.39" height="9" fill="#eaf1f5"/>
<rect x="579.44" y="238.9" width="37.58" height="9" fill="#f9ede6"/>
<rect x="16" y="247.88" width="16.12" height="9" fill="#eaf1f5"/>
<rect x="32.1" y="247.88" width="5.39" height="9" fill="#ddeaf2"/>
<rect x="37.46" y="247.88" width="5.39" height="9" fill="#f7f7f7"/>
<rect x="42.83" y="247.88" width="10.75" height="9" fill="#eaf1f5"/>
<rect x="53.56" y="247.88" width="16.12" height="9" fill="#f7f7f7"/>
<rect x="69.66" y="247.88" width="21.48" height="9" fill="#f9ede6"/>
<rect x="91.12" y="247.88" width="5.39" height="9" fill="#c53d3d"/>
<rect x="96.49" y="247.88" width="5.39" height="9" fill="#f7f7f7"/>
<rect x="101.86" y="247.88" width="10.75" height="9" fill="#f9ede6"/>
<rect x="112.59" y="247.88" width="5.39" height="9" fill="#eaf1f5"/>
<rect x="117.96" y="247.88" width="5.39" height="9" fill="#f9ede6"/>
<rect x="123.32" y="247.88" width="5.39" height="9" fill="#f7f7f7"/>
<rect x="128.69" y="247.88" width="5.39" height="9" fill="#f9ede6"/>
<rect x="134.05" y="247.88" width="16.12" height="9" fill="#ddeaf2"/>
<rect x="150.15" y="247.88" width="5.39" height="9" fill="#f7f7f7"/>
<rect x="155.52" y="247.88" width="5.39" height="9" fill="#eaf1f5"/>
<rect x="160.88" y="247.88" width="5.39" height="9" fill="#ddeaf2"/>
<rect x="166.25" y="247.88" width="5.39" height="9" fill="#f9ede6"/>
<rect x="171.62" y="247.88" width="5.39" height="9" fill="#eaf1f5"/>
<rect x="176.98" y="247.88" width="5.39" height="9" fill="#f9ede6"/>
<rect x="182.35" y="247.88" width="10.75" height="9" fill="#eaf1f5"/>
<rect x="193.08" y="247.88" width="5.39" height="9" fill="#f7f7f7"/>
<rect x="198.45" y="247.88" width="5.39" height="9" fill="#f9ede6"/>
<rect x="203.81" y="247.88" width="5.39" height="9" fill="#f7f7f7"/>
<rect x="209.18" y="247.88" width="5.39" height="9" fill="#eaf1f5"/>
<rect x="214.54" y="247.88" width="10.75" height="9" fill="#f7f7f7"/>
<rect x="225.28" y="247.88" width="16.12" height="9" fill="#eaf1f5"/>
<rect x="241.38" y="247.88" width="5.39" height="9" fill="#f9ede6"/>
<rect x="246.74" y="247.88" width="16.12" height="9" fill="#eaf1f5"/>
<rect x="262.84" y="247.88" width="5.39" height="9" fill="#f9ede6"/>
<rect x="268.21" y="247.88" width="5.39" height="9" fill="#eaf1f5"/>
<rect x="273.57" y="247.88" width="48.31" height="9" fill="#f7f7f7"/>
<rect x="321.87" y="247.88" width="21.48" height="9" fill="#eaf1f5"/>
<rect x="343.33" y="247.88" width="5.39" height="9" fill="#ddeaf2"/>
<rect x="348.7" y="247.88" width="10.75" height="9" fill="#f7f7f7"/>
<rect x="359.43" y="247.88" width="5.39" height="9" fill="#eaf1f5"/>
<rect x="364.79" y="247.88" width="5.39" height="9" fill="#fbe4d6"/>
<rect x="370.16" y="247.88" width="10.75" height="9" fill="#eaf1f5"/>
<rect x="380.89" y="247.88" width="16.12" height="9" fill="#f7f7f7"/>
<rect x="396.99" y="247.88" width="21.48" height="9" fill="#eaf1f5"/>
<rect x="418.46" y="247.88" width="5.39" height="9" fill="#fbe4d6"/>
<rect x="423.82" y="247.88" width="10.75" height="9" fill="#f7f7f7"/>
<rect x="434.55" y="247.88" width="5.39" height="9" fill="#eaf1f5"/>
<rect x="439.92" y="247.88" width="10.75" height="9" fill="#f7f7f7"/>
<rect x="450.65" y="247.88" width="5.39" height="9" fill="#eaf1f5"/>
<rect x="456.02" y="247.88" width="10.75" height="9" fill="#f7f7f7"/>
<rect x="466.75" y="247.88" width="26.85" height="9" fill="#ddeaf2"/>
<rect x="493.58" y="247.88" width="5.39" height="9" fill="#f9ede6"/>
<rect x="498.95" y="247.88" width="5.39" height="9" fill="#fbe4d6"/>
<rect x="504.31" y="247.88" width="5.39" height="9" fill="#f9ede6"/>
<rect x="509.68" y="247.88" width="5.39" height="9" fill="#fbe4d6"/>
<rect x="515.04" y="247.88" width="5.39" height="9" fill="#f9ede6"/>
<rect x="520.41" y="247.88" width="5.39" height="9" fill="#fbe4d6"/>
<rect x="525.78" y="247.88" width="5.39" height="9" fill="#f9ede6"/>
<rect x="531.14" y="247.88" width="10.75" height="9" fill="#fbe4d6"/>
<rect x="541.88" y="247.88" width="37.58" height="9" fill="#eaf1f5"/>
<rect x="579.44" y="247.88" width="5.39" height="9" fill="#f9ede6"/>
<rect x="584.8" y="247.88" width="5.39" height="9" fill="#f7f7f7"/>
<rect x="590.17" y="247.88" width="16.12" height="9" fill="#f9ede6"/>
<rect x="606.27" y="247.88" width="5.39" height="9" fill="#f7f7f7"/>
<rect x="611.63" y="247.88" width="5.39" height="9" fill="#f9ede6"/>
<rect x="16" y="256.86" width="5.39" height="9" fill="#eaf1f5"/>
<rect x="21.37" y="256.86" width="5.39" height="9" fill="#f7f7f7"/>
<rect x="26.73" y="256.86" width="5.39" height="9" fill="#eaf1f5"/>
<rect x="32.1" y="256.86" width="5.39" height="9" fill="#f9ede6"/>
<rect x="37.46" y="256.86" width="5.39" height="9" fill="#ddeaf2"/>
<rect x="42.83" y="256.86" width="5.39" height="9" fill="#f9ede6"/>
<rect x="48.2" y="256.86" width="16.12" height="9" fill="#eaf1f5"/>
<rect x="64.29" y="256.86" width="10.75" height="9" fill="#f9ede6"/>
<rect x="75.03" y="256.86" width="5.39" height="9" fill="#fbe4d6"/>
<rect x="80.39" y="256.86" width="5.39" height="9" fill="#f9ede6"/>
<rect x="85.76" y="256.86" width="10.75" height="9" fill="#fbe4d6"/>
<rect x="96.49" y="256.86" width="5.39" height="9" fill="#eaf1f5"/>
<rect x="101.86" y="256.86" width="5.39" height="9" fill="#f9ede6"/>
<rect x="107.22" y="256.86" width="5.39" height="9" fill="#f7f7f7"/>
<rect x="112.59" y="256.86" width="5.39" height="9" fill="#c7e0ed"/>
<rect x="117.96" y="256.86" width="5.39" height="9" fill="#fbe4d6"/>
<rect x="123.32" y="256.86" width="16.12" height="9" fill="#eaf1f5"/>
<rect x="139.42" y="256.86" width="10.75" height="9" fill="#ddeaf2"/>
<rect x="150.15" y="256.86" width="10.75" height="9" fill="#eaf1f5"/>
<rect x="160.88" y="256.86" width="5.39" height="9" fill="#c7e0ed"/>
<rect x="166.25" y="256.86" width="5.39" height="9" fill="#eaf1f5"/>
<rect x="171.62" y="256.86" width="10.75" height="9" fill="#f7f7f7"/>
<rect x="182.35" y="256.86" width="5.39" height="9" fill="#eaf1f5"/>
<rect x="187.71" y="256.86" width="5.39" height="9" fill="#ddeaf2"/>
<rect x="193.08" y="256.86" width="5.39" height="9" fill="#f9ede6"/>
<rect x="198.45" y="256.86" width="5.39" height="9" fill="#f7f7f7"/>
<rect x="203.81" y="256.86" width="5.39" height="9" fill="#f6b394"/>
<rect x="209.18" y="256.86" width="10.75" height="9" fill="#eaf1f5"/>
<rect x="219.91" y="256.86" width="5.39" height="9" fill="#c53d3d"/>
<rect x="225.28" y="256.86" width="5.39" height="9" fill="#eaf1f5"/>
<rect x="230.64" y="256.86" width="10.75" height="9" fill="#f7f7f7"/>
<rect x="241.38" y="256.86" width="5.39" height="9" fill="#f9ede6"/>
<rect x="246.74" y="256.86" width="5.39" height="9" fill="#eaf1f5"/>
<rect x="252.11" y="256.86" width="21.48" height="9" fill="#f7f7f7"/>
<rect x="273.57" y="256.86" width="5.39" height="9" fill="#f9ede6"/>
<rect x="278.94" y="256.86" width="10.75" height="9" fill="#eaf1f5"/>
<rect x="289.67" y="256.86" width="5.39" height="9" fill="#f7f7f7"/>
<rect x="295.04" y="256.86" width="5.39" height="9" fill="#eaf1f5"/>
<rect x="300.4" y="256.86" width="5.39" height="9" fill="#f7f7f7"/>
<rect x="305.77" y="256.86" width="10.75" height="9" fill="#fbe4d6"/>
<rect x="316.5" y="256.86" width="5.39" height="9" fill="#f6b394"/>
<rect x="321.87" y="256.86" width="16.12" height="9" fill="#eaf1f5"/>
<rect x="337.96" y="256.86" width="5.39" height="9" fill="#fbccb4"/>
<rect x="343.33" y="256.86" width="5.39" height="9" fill="#eaf1f5"/>
<rect x="348.7" y="256.86" width="5.39" height="9" fill="#f9ede6"/>
<rect x="354.06" y="256.86" width="5.39" height="9" fill="#fbccb4"/>
<rect x="359.43" y="256.86" width="5.39" height="9" fill="#f7f7f7"/>
<rect x="364.79" y="256.86" width="5.39" height="9" fill="#fbccb4"/>
<rect x="370.16" y="256.86" width="5.39" height="9" fill="#f9ede6"/>
<rect x="375.53" y="256.86" width="5.39" height="9" fill="#eaf1f5"/>
<rect x="380.89" y="256.86" width="16.12" height="9" fill="#fbe4d6"/>
<rect x="396.99" y="256.86" width="10.75" height="9" fill="#f7f7f7"/>
<rect x="407.72" y="256.86" width="5.39" height="9" fill="#f9ede6"/>
<rect x="413.09" y="256.86" width="5.39" height="9" fill="#eaf1f5"/>
<rect x="418.46" y="256.86" width="5.39" height="9" fill="#fbccb4"/>
<rect x="423.82" y="256.86" width="10.75" height="9" fill="#f7f7f7"/>
<rect x="434.55" y="256.86" width="5.39" height="9" fill="#eaf1f5"/>
<rect x="439.92" y="256.86" width="5.39" height="9" fill="#f9ede6"/>
<rect x="445.29" y="256.86" width="5.39" height="9" fill="#fbe4d6"/>
<rect x="450.65" y="256.86" width="5.39" height="9" fill="#eaf1f5"/>
<rect x="456.02" y="256.86" width="10.75" height="9" fill="#f9ede6"/>
<rect x="466.75" y="256.86" width="26.85" height="9" fill="#eaf1f5"/>
<rect x="493.58" y="256.86" width="5.39" height="9" fill="#ddeaf2"/>
<rect x="498.95" y="256.86" width="5.39" height="9" fill="#fbe4d6"/>
<rect x="504.31" y="256.86" width="5.39" height="9" fill="#f7f7f7"/>
<rect x="509.68" y="256.86" width="5.39" height="9" fill="#fbe4d6"/>
<rect x="515.04" y="256.86" width="5.39" height="9" fill="#eaf1f5"/>
<rect x="520.41" y="256.86" width="5.39" height="9" fill="#fbe4d6"/>
<rect x="525.78" y="256.86" width="5.39" height="9" fill="#eaf1f5"/>
<rect x="531.14" y="256.86" width="5.39" height="9" fill="#fbe4d6"/>
<rect x="536.51" y="256.86" width="21.48" height="9" fill="#eaf1f5"/>
<rect x="557.97" y="256.86" width="5.39" height="9" fill="#f7f7f7"/>
<rect x="563.34" y="256.86" width="5.39" height="9" fill="#eaf1f5"/>
<rect x="568.71" y="256.86" width="5.39" height="9" fill="#f7f7f7"/>
<rect x="574.07" y="256.86" width="5.39" height="9" fill="#eaf1f5"/>
<rect x="579.44" y="256.86" width="5.39" height="9" fill="#f9ede6"/>
<rect x="584.8" y="256.86" width="5.39" height="9" fill="#eaf1f5"/>
<rect x="590.17" y="256.86" width="5.39" height="9" fill="#fbe4d6"/>
<rect x="595.54" y="256.86" width="5.39" height="9" fill="#eaf1f5"/>
<rect x="600.9" y="256.86" width="5.39" height="9" fill="#fbe4d6"/>
<rect x="606.27" y="256.86" width="5.39" height="9" fill="#f7f7f7"/>
<rect x="611.63" y="256.86" width="5.39" height="9" fill="#fbe4d6"/>
<rect x="16" y="265.84" width="5.39" height="9" fill="#eaf1f5"/>
<rect x="21.37" y="265.84" width="5.39" height="9" fill="#f6b394"/>
<rect x="26.73" y="265.84" width="5.39" height="9" fill="#f9ede6"/>
<rect x="32.1" y="265.84" width="5.39" height="9" fill="#fbe4d6"/>
<rect x="37.46" y="265.84" width="5.39" height="9" fill="#eaf1f5"/>
<rect x="42.83" y="265.84" width="5.39" height="9" fill="#fbe4d6"/>
<rect x="48.2" y="265.84" width="5.39" height="9" fill="#eaf1f5"/>
<rect x="53.56" y="265.84" width="5.39" height="9" fill="#f7f7f7"/>
<rect x="58.93" y="265.84" width="5.39" height="9" fill="#eaf1f5"/>
<rect x="64.29" y="265.84" width="5.39" height="9" fill="#fbccb4"/>
<rect x="69.66" y="265.84" width="5.39" height="9" fill="#f9ede6"/>
<rect x="75.03" y="265.84" width="5.39" height="9" fill="#fbe4d6"/>
<rect x="80.39" y="265.84" width="5.39" height="9" fill="#f6b394"/>
<rect x="85.76" y="265.84" width="5.39" height="9" fill="#ea8f71"/>
<rect x="91.12" y="265.84" width="5.39" height="9" fill="#ffffff"/>
<rect x="96.49" y="265.84" width="5.39" height="9" fill="#f7f7f7"/>
<rect x="101.86" y="265.84" width="5.39" height="9" fill="#fbe4d6"/>
<rect x="107.22" y="265.84" width="5.39" height="9" fill="#f9ede6"/>
<rect x="112.59" y="265.84" width="5.39" height="9" fill="#eaf1f5"/>
<rect x="117.96" y="265.84" width="5.39" height="9" fill="#fbccb4"/>
<rect x="123.32" y="265.84" width="5.39" height="9" fill="#f9ede6"/>
<rect x="128.69" y="265.84" width="16.12" height="9" fill="#f7f7f7"/>
<rect x="144.79" y="265.84" width="5.39" height="9" fill="#eaf1f5"/>
<rect x="150.15" y="265.84" width="5.39" height="9" fill="#c53d3d"/>
<rect x="155.52" y="265.84" width="5.39" height="9" fill="#f6b394"/>
<rect x="160.88" y="265.84" width="5.39" height="9" fill="#eaf1f5"/>
<rect x="166.25" y="265.84" width="5.39" height="9" fill="#ddeaf2"/>
<rect x="171.62" y="265.84" width="5.39" height="9" fill="#eaf1f5"/>
<rect x="176.98" y="265.84" width="5.39" height="9" fill="#fbe4d6"/>
<rect x="182.35" y="265.84" width="5.39" height="9" fill="#f9ede6"/>
<rect x="187.71" y="265.84" width="5.39" height="9" fill="#eaf1f5"/>
<rect x="193.08" y="265.84" width="10.75" height="9" fill="#ea8f71"/>
<rect x="203.81" y="265.84" width="5.39" height="9" fill="#710321"/>
<rect x="209.18" y="265.84" width="5.39" height="9" fill="#eaf1f5"/>
<rect x="214.54" y="265.84" width="5.39" height="9" fill="#ea8f71"/>
<rect x="219.91" y="265.84" width="5.39" height="9" fill="#ad172a"/>
<rect x="225.28" y="265.84" width="16.12" height="9" fill="#eaf1f5"/>
<rect x="241.38" y="265.84" width="5.39" height="9" fill="#fbe4d6"/>
<rect x="246.74" y="265.84" width="10.75" height="9" fill="#f7f7f7"/>
<rect x="257.47" y="265.84" width="10.75" height="9" fill="#f9ede6"/>
<rect x="268.21" y="265.84" width="5.39" height="9" fill="#f7f7f7"/>
<rect x="273.57" y="265.84" width="5.39" height="9" fill="#f9ede6"/>
<rect x="278.94" y="265.84" width="10.75" height="9" fill="#f7f7f7"/>
<rect x="289.67" y="265.84" width="5.39" height="9" fill="#f9ede6"/>
<rect x="295.04" y="265.84" width="5.39" height="9" fill="#f7f7f7"/>
<rect x="300.4" y="265.84" width="5.39" height="9" fill="#f9ede6"/>
<rect x="305.77" y="265.84" width="10.75" height="9" fill="#fbccb4"/>
<rect x="316.5" y="265.84" width="5.39" height="9" fill="#f6b394"/>
<rect x="321.87" y="265.84" width="10.75" height="9" fill="#eaf1f5"/>
<rect x="332.6" y="265.84" width="5.39" height="9" fill="#f6b394"/>
<rect x="337.96" y="265.84" width="5.39" height="9" fill="#fbccb4"/>
<rect x="343.33" y="265.84" width="5.39" height="9" fill="#f7f7f7"/>
<rect x="348.7" y="265.84" width="5.39" height="9" fill="#f9ede6"/>
<rect x="354.06" y="265.84" width="5.39" height="9" fill="#f6b394"/>
<rect x="359.43" y="265.84" width="5.39" height="9" fill="#eaf1f5"/>
<rect x="364.79" y="265.84" width="5.39" height="9" fill="#ea8f71"/>
<rect x="370.16" y="265.84" width="5.39" height="9" fill="#fbccb4"/>
<rect x="375.53" y="265.84" width="5.39" height="9" fill="#eaf1f5"/>
<rect x="380.89" y="265.84" width="5.39" height="9" fill="#f7f7f7"/>
<rect x="386.26" y="265.84" width="5.39" height="9" fill="#fbe4d6"/>
<rect x="391.62" y="265.84" width="5.39" height="9" fill="#f6b394"/>
<rect x="396.99" y="265.84" width="5.39" height="9" fill="#eaf1f5"/>
<rect x="402.36" y="265.84" width="5.39" height="9" fill="#f9ede6"/>
<rect x="407.72" y="265.84" width="5.39" height="9" fill="#fbe4d6"/>
<rect x="413.09" y="265.84" width="5.39" height="9" fill="#eaf1f5"/>
<rect x="418.46" y="265.84" width="5.39" height="9" fill="#ea8f71"/>
<rect x="423.82" y="265.84" width="5.39" height="9" fill="#fbccb4"/>
<rect x="429.19" y="265.84" width="5.39" height="9" fill="#fbe4d6"/>
<rect x="434.55" y="265.84" width="5.39" height="9" fill="#eaf1f5"/>
<rect x="439.92" y="265.84" width="5.39" height="9" fill="#fbe4d6"/>
<rect x="445.29" y="265.84" width="5.39" height="9" fill="#fbccb4"/>
<rect x="450.65" y="265.84" width="5.39" height="9" fill="#eaf1f5"/>
<rect x="456.02" y="265.84" width="10.75" height="9" fill="#fbe4d6"/>
<rect x="466.75" y="265.84" width="5.39" height="9" fill="#eaf1f5"/>
<rect x="472.12" y="265.84" width="5.39" height="9" fill="#f9ede6"/>
<rect x="477.48" y="265.84" width="5.39" height="9" fill="#f7f7f7"/>
<rect x="482.85" y="265.84" width="10.75" height="9" fill="#f9ede6"/>
<rect x="493.58" y="265.84" width="5.39" height="9" fill="#eaf1f5"/>
<rect x="498.95" y="265.84" width="5.39" height="9" fill="#fbe4d6"/>
<rect x="504.31" y="265.84" width="5.39" height="9" fill="#fbccb4"/>
<rect x="509.68" y="265.84" width="5.39" height="9" fill="#fbe4d6"/>
<rect x="515.04" y="265.84" width="5.39" height="9" fill="#f7f7f7"/>
<rect x="520.41" y="265.84" width="5.39" height="9" fill="#fbccb4"/>
<rect x="525.78" y="265.84" width="5.39" height="9" fill="#f7f7f7"/>
<rect x="531.14" y="265.84" width="5.39" height="9" fill="#fbccb4"/>
<rect x="536.51" y="265.84" width="5.39" height="9" fill="#ddeaf2"/>
<rect x="541.88" y="265.84" width="10.75" height="9" fill="#f9ede6"/>
<rect x="552.61" y="265.84" width="5.39" height="9" fill="#f7f7f7"/>
<rect x="557.97" y="265.84" width="5.39" height="9" fill="#f9ede6"/>
<rect x="563.34" y="265.84" width="5.39" height="9" fill="#eaf1f5"/>
<rect x="568.71" y="265.84" width="10.75" height="9" fill="#f7f7f7"/>
<rect x="579.44" y="265.84" width="5.39" height="9" fill="#f9ede6"/>
<rect x="584.8" y="265.84" width="5.39" height="9" fill="#f7f7f7"/>
<rect x="590.17" y="265.84" width="5.39" height="9" fill="#fbe4d6"/>
<rect x="595.54" y="265.84" width="5.39" height="9" fill="#f7f7f7"/>
<rect x="600.9" y="265.84" width="5.39" height="9" fill="#fbe4d6"/>
<rect x="606.27" y="265.84" width="5.39" height="9" fill="#f9ede6"/>
<rect x="611.63" y="265.84" width="5.39" height="9" fill="#fbe4d6"/>
<rect x="16" y="274.82" width="5.39" height="9" fill="#f7f7f7"/>
<rect x="21.37" y="274.82" width="5.39" height="9" fill="#f9ede6"/>
<rect x="26.73" y="274.82" width="5.39" height="9" fill="#eaf1f5"/>
<rect x="32.1" y="274.82" width="10.75" height="9" fill="#f7f7f7"/>
<rect x="42.83" y="274.82" width="5.39" height="9" fill="#f9ede6"/>
<rect x="48.2" y="274.82" width="16.12" height="9" fill="#f7f7f7"/>
<rect x="64.29" y="274.82" width="5.39" height="9" fill="#f9ede6"/>
<rect x="69.66" y="274.82" width="5.39" height="9" fill="#f7f7f7"/>
<rect x="75.03" y="274.82" width="5.39" height="9" fill="#fbe4d6"/>
<rect x="80.39" y="274.82" width="5.39" height="9" fill="#f9ede6"/>
<rect x="85.76" y="274.82" width="5.39" height="9" fill="#ea8f71"/>
<rect x="91.12" y="274.82" width="5.39" height="9" fill="#c53d3d"/>
<rect x="96.49" y="274.82" width="5.39" height="9" fill="#eaf1f5"/>
<rect x="101.86" y="274.82" width="5.39" height="9" fill="#fbe4d6"/>
<rect x="107.22" y="274.82" width="5.39" height="9" fill="#ddeaf2"/>
<rect x="112.59" y="274.82" width="5.39" height="9" fill="#eaf1f5"/>
<rect x="117.96" y="274.82" width="5.39" height="9" fill="#fbe4d6"/>
<rect x="123.32" y="274.82" width="10.75" height="9" fill="#ddeaf2"/>
<rect x="134.05" y="274.82" width="5.39" height="9" fill="#eaf1f5"/>
<rect x="139.42" y="274.82" width="5.39" height="9" fill="#ddeaf2"/>
<rect x="144.79" y="274.82" width="5.39" height="9" fill="#eaf1f5"/>
<rect x="150.15" y="274.82" width="5.39" height="9" fill="#ea8f71"/>
<rect x="155.52" y="274.82" width="5.39" height="9" fill="#fbe4d6"/>
<rect x="160.88" y="274.82" width="5.39" height="9" fill="#eaf1f5"/>
<rect x="166.25" y="274.82" width="5.39" height="9" fill="#ddeaf2"/>
<rect x="171.62" y="274.82" width="5.39" height="9" fill="#eaf1f5"/>
<rect x="176.98" y="274.82" width="5.39" height="9" fill="#fbe4d6"/>
<rect x="182.35" y="274.82" width="10.75" height="9" fill="#eaf1f5"/>
<rect x="193.08" y="274.82" width="5.39" height="9" fill="#f6b394"/>
<rect x="198.45" y="274.82" width="5.39" height="9" fill="#fbe4d6"/>
<rect x="203.81" y="274.82" width="5.39" height="9" fill="#710321"/>
<rect x="209.18" y="274.82" width="5.39" height="9" fill="#eaf1f5"/>
<rect x="214.54" y="274.82" width="5.39" height="9" fill="#fbe4d6"/>
<rect x="219.91" y="274.82" width="5.39" height="9" fill="#ea8f71"/>
<rect x="225.28" y="274.82" width="10.75" height="9" fill="#eaf1f5"/>
<rect x="236.01" y="274.82" width="5.39" height="9" fill="#f7f7f7"/>
<rect x="241.38" y="274.82" width="5.39" height="9" fill="#f9ede6"/>
<rect x="246.74" y="274.82" width="5.39" height="9" fill="#eaf1f5"/>
<rect x="252.11" y="274.82" width="16.12" height="9" fill="#f9ede6"/>
<rect x="268.21" y="274.82" width="5.39" height="9" fill="#f7f7f7"/>
<rect x="273.57" y="274.82" width="5.39" height="9" fill="#f9ede6"/>
<rect x="278.94" y="274.82" width="10.75" height="9" fill="#f7f7f7"/>
<rect x="289.67" y="274.82" width="5.39" height="9" fill="#f9ede6"/>
<rect x="295.04" y="274.82" width="5.39" height="9" fill="#eaf1f5"/>
<rect x="300.4" y="274.82" width="5.39" height="9" fill="#f9ede6"/>
<rect x="305.77" y="274.82" width="5.39" height="9" fill="#fbe4d6"/>
<rect x="311.13" y="274.82" width="5.39" height="9" fill="#fbccb4"/>
<rect x="316.5" y="274.82" width="5.39" height="9" fill="#f6b394"/>
<rect x="321.87" y="274.82" width="10.75" height="9" fill="#f7f7f7"/>
<rect x="332.6" y="274.82" width="5.39" height="9" fill="#fbccb4"/>
<rect x="337.96" y="274.82" width="5.39" height="9" fill="#fbe4d6"/>
<rect x="343.33" y="274.82" width="5.39" height="9" fill="#f7f7f7"/>
<rect x="348.7" y="274.82" width="10.75" height="9" fill="#fbccb4"/>
<rect x="359.43" y="274.82" width="5.39" height="9" fill="#f7f7f7"/>
<rect x="364.79" y="274.82" width="5.39" height="9" fill="#ea8f71"/>
<rect x="370.16" y="274.82" width="5.39" height="9" fill="#f9ede6"/>
<rect x="375.53" y="274.82" width="5.39" height="9" fill="#f7f7f7"/>
<rect x="380.89" y="274.82" width="5.39" height="9" fill="#fbe4d6"/>
<rect x="386.26" y="274.82" width="5.39" height="9" fill="#f9ede6"/>
<rect x="391.62" y="274.82" width="5.39" height="9" fill="#f6b394"/>
<rect x="396.99" y="274.82" width="5.39" height="9" fill="#f7f7f7"/>
<rect x="402.36" y="274.82" width="10.75" height="9" fill="#f9ede6"/>
<rect x="413.09" y="274.82" width="5.39" height="9" fill="#f7f7f7"/>
<rect x="418.46" y="274.82" width="5.39" height="9" fill="#ea8f71"/>
<rect x="423.82" y="274.82" width="5.39" height="9" fill="#fbe4d6"/>
<rect x="429.19" y="274.82" width="5.39" height="9" fill="#f9ede6"/>
<rect x="434.55" y="274.82" width="5.39" height="9" fill="#f7f7f7"/>
<rect x="439.92" y="274.82" width="5.39" height="9" fill="#fbe4d6"/>
<rect x="445.29" y="274.82" width="5.39" height="9" fill="#fbccb4"/>
<rect x="450.65" y="274.82" width="5.39" height="9" fill="#f7f7f7"/>
<rect x="456.02" y="274.82" width="10.75" height="9" fill="#fbe4d6"/>
<rect x="466.75" y="274.82" width="5.39" height="9" fill="#eaf1f5"/>
<rect x="472.12" y="274.82" width="5.39" height="9" fill="#fbccb4"/>
<rect x="477.48" y="274.82" width="10.75" height="9" fill="#f7f7f7"/>
<rect x="488.21" y="274.82" width="10.75" height="9" fill="#eaf1f5"/>
<rect x="498.95" y="274.82" width="5.39" height="9" fill="#fbccb4"/>
<rect x="504.31" y="274.82" width="5.39" height="9" fill="#fbe4d6"/>
<rect x="509.68" y="274.82" width="5.39" height="9" fill="#f7f7f7"/>
<rect x="515.04" y="274.82" width="5.39" height="9" fill="#f9ede6"/>
<rect x="520.41" y="274.82" width="5.39" height="9" fill="#fbccb4"/>
<rect x="525.78" y="274.82" width="5.39" height="9" fill="#f7f7f7"/>
<rect x="531.14" y="274.82" width="5.39" height="9" fill="#fbe4d6"/>
<rect x="536.51" y="274.82" width="5.39" height="9" fill="#f7f7f7"/>
<rect x="541.88" y="274.82" width="5.39" height="9" fill="#eaf1f5"/>
<rect x="547.24" y="274.82" width="10.75" height="9" fill="#f7f7f7"/>
<rect x="557.97" y="274.82" width="5.39" height="9" fill="#f9ede6"/>
<rect x="563.34" y="274.82" width="21.48" height="9" fill="#eaf1f5"/>
<rect x="584.8" y="274.82" width="5.39" height="9" fill="#f7f7f7"/>
<rect x="590.17" y="274.82" width="5.39" height="9" fill="#fbe4d6"/>
<rect x="595.54" y="274.82" width="5.39" height="9" fill="#eaf1f5"/>
<rect x="600.9" y="274.82" width="5.39" height="9" fill="#fbe4d6"/>
<rect x="606.27" y="274.82" width="5.39" height="9" fill="#f9ede6"/>
<rect x="611.63" y="274.82" width="5.39" height="9" fill="#fbe4d6"/>
<rect x="16" y="283.8" width="16.12" height="9" fill="#eaf1f5"/>
<rect x="32.1" y="283.8" width="10.75" height="9" fill="#f7f7f7"/>
<rect x="42.83" y="283.8" width="5.39" height="9" fill="#f9ede6"/>
<rect x="48.2" y="283.8" width="10.75" height="9" fill="#eaf1f5"/>
<rect x="58.93" y="283.8" width="5.39" height="9" fill="#f7f7f7"/>
<rect x="64.29" y="283.8" width="5.39" height="9" fill="#eaf1f5"/>
<rect x="69.66" y="283.8" width="10.75" height="9" fill="#fbe4d6"/>
<rect x="80.39" y="283.8" width="5.39" height="9" fill="#f7f7f7"/>
<rect x="85.76" y="283.8" width="5.39" height="9" fill="#fbccb4"/>
<rect x="91.12" y="283.8" width="5.39" height="9" fill="#710321"/>
<rect x="96.49" y="283.8" width="5.39" height="9" fill="#eaf1f5"/>
<rect x="101.86" y="283.8" width="5.39" height="9" fill="#ddeaf2"/>
<rect x="107.22" y="283.8" width="5.39" height="9" fill="#f9ede6"/>
<rect x="112.59" y="283.8" width="5.39" height="9" fill="#eaf1f5"/>
<rect x="117.96" y="283.8" width="5.39" height="9" fill="#fbe4d6"/>
<rect x="123.32" y="283.8" width="5.39" height="9" fill="#ddeaf2"/>
<rect x="128.69" y="283.8" width="5.39" height="9" fill="#f9ede6"/>
<rect x="134.05" y="283.8" width="5.39" height="9" fill="#eaf1f5"/>
<rect x="139.42" y="283.8" width="10.75" height="9" fill="#ddeaf2"/>
<rect x="150.15" y="283.8" width="5.39" height="9" fill="#f9ede6"/>
<rect x="155.52" y="283.8" width="16.12" height="9" fill="#ddeaf2"/>
<rect x="171.62" y="283.8" width="5.39" height="9" fill="#eaf1f5"/>
<rect x="176.98" y="283.8" width="5.39" height="9" fill="#f9ede6"/>
<rect x="182.35" y="283.8" width="10.75" height="9" fill="#eaf1f5"/>
<rect x="193.08" y="283.8" width="10.75" height="9" fill="#f9ede6"/>
<rect x="203.81" y="283.8" width="5.39" height="9" fill="#c53d3d"/>
<rect x="209.18" y="283.8" width="10.75" height="9" fill="#eaf1f5"/>
<rect x="219.91" y="283.8" width="5.39" height="9" fill="#fbe4d6"/>
<rect x="225.28" y="283.8" width="5.39" height="9" fill="#f9ede6"/>
<rect x="230.64" y="283.8" width="10.75" height="9" fill="#eaf1f5"/>
<rect x="241.38" y="283.8" width="5.39" height="9" fill="#f9ede6"/>
<rect x="246.74" y="283.8" width="5.39" height="9" fill="#eaf1f5"/>
<rect x="252.11" y="283.8" width="10.75" height="9" fill="#f7f7f7"/>
<rect x="262.84" y="283.8" width="5.39" height="9" fill="#f9ede6"/>
<rect x="268.21" y="283.8" width="5.39" height="9" fill="#eaf1f5"/>
<rect x="273.57" y="283.8" width="5.39" height="9" fill="#f7f7f7"/>
<rect x="278.94" y="283.8" width="5.39" height="9" fill="#f9ede6"/>
<rect x="284.3" y="283.8" width="10.75" height="9" fill="#f7f7f7"/>
<rect x="295.04" y="283.8" width="5.39" height="9" fill="#eaf1f5"/>
<rect x="300.4" y="283.8" width="10.75" height="9" fill="#f9ede6"/>
<rect x="311.13" y="283.8" width="5.39" height="9" fill="#fbe4d6"/>
<rect x="316.5" y="283.8" width="5.39" height="9" fill="#fbccb4"/>
<rect x="321.87" y="283.8" width="5.39" height="9" fill="#f7f7f7"/>
<rect x="327.23" y="283.8" width="5.39" height="9" fill="#eaf1f5"/>
<rect x="332.6" y="283.8" width="5.39" height="9" fill="#f6b394"/>
<rect x="337.96" y="283.8" width="5.39" height="9" fill="#f9ede6"/>
<rect x="343.33" y="283.8" width="5.39" height="9" fill="#eaf1f5"/>
<rect x="348.7" y="283.8" width="5.39" height="9" fill="#fbccb4"/>
<rect x="354.06" y="283.8" width="5.39" height="9" fill="#fbe4d6"/>
<rect x="359.43" y="283.8" width="5.39" height="9" fill="#eaf1f5"/>
<rect x="364.79" y="283.8" width="5.39" height="9" fill="#ea8f71"/>
<rect x="370.16" y="283.8" width="5.39" height="9" fill="#f7f7f7"/>
<rect x="375.53" y="283.8" width="5.39" height="9" fill="#eaf1f5"/>
<rect x="380.89" y="283.8" width="10.75" height="9" fill="#f9ede6"/>
<rect x="391.62" y="283.8" width="5.39" height="9" fill="#fbe4d6"/>
<rect x="396.99" y="283.8" width="5.39" height="9" fill="#eaf1f5"/>
<rect x="402.36" y="283.8" width="5.39" height="9" fill="#f9ede6"/>
<rect x="407.72" y="283.8" width="5.39" height="9" fill="#f7f7f7"/>
<rect x="413.09" y="283.8" width="5.39" height="9" fill="#eaf1f5"/>
<rect x="418.46" y="283.8" width="5.39" height="9" fill="#f6b394"/>
<rect x="423.82" y="283.8" width="10.75" height="9" fill="#f9ede6"/>
<rect x="434.55" y="283.8" width="5.39" height="9" fill="#f7f7f7"/>
<rect x="439.92" y="283.8" width="10.75" height="9" fill="#fbe4d6"/>
<rect x="450.65" y="283.8" width="5.39" height="9" fill="#eaf1f5"/>
<rect x="456.02" y="283.8" width="10.75" height="9" fill="#f9ede6"/>
<rect x="466.75" y="283.8" width="5.39" height="9" fill="#eaf1f5"/>
<rect x="472.12" y="283.8" width="5.39" height="9" fill="#f9ede6"/>
<rect x="477.48" y="283.8" width="10.75" height="9" fill="#eaf1f5"/>
<rect x="488.21" y="283.8" width="10.75" height="9" fill="#ddeaf2"/>
<rect x="498.95" y="283.8" width="5.39" height="9" fill="#eaf1f5"/>
<rect x="504.31" y="283.8" width="5.39" height="9" fill="#f9ede6"/>
<rect x="509.68" y="283.8" width="5.39" height="9" fill="#fbe4d6"/>
<rect x="515.04" y="283.8" width="5.39" height="9" fill="#f7f7f7"/>
<rect x="520.41" y="283.8" width="5.39" height="9" fill="#fbe4d6"/>
<rect x="525.78" y="283.8" width="5.39" height="9" fill="#ddeaf2"/>
<rect x="531.14" y="283.8" width="5.39" height="9" fill="#fbe4d6"/>
<rect x="536.51" y="283.8" width="5.39" height="9" fill="#f7f7f7"/>
<rect x="541.88" y="283.8" width="5.39" height="9" fill="#f9ede6"/>
<rect x="547.24" y="283.8" width="10.75" height="9" fill="#eaf1f5"/>
<rect x="557.97" y="283.8" width="5.39" height="9" fill="#f9ede6"/>
<rect x="563.34" y="283.8" width="5.39" height="9" fill="#eaf1f5"/>
<rect x="568.71" y="283.8" width="5.39" height="9" fill="#f7f7f7"/>
<rect x="574.07" y="283.8" width="5.39" height="9" fill="#eaf1f5"/>
<rect x="579.44" y="283.8" width="5.39" height="9" fill="#f9ede6"/>
<rect x="584.8" y="283.8" width="5.39" height="9" fill="#ddeaf2"/>
<rect x="590.17" y="283.8" width="5.39" height="9" fill="#f9ede6"/>
<rect x="595.54" y="283.8" width="5.39" height="9" fill="#eaf1f5"/>
<rect x="600.9" y="283.8" width="5.39" height="9" fill="#f9ede6"/>
<rect x="606.27" y="283.8" width="5.39" height="9" fill="#eaf1f5"/>
<rect x="611.63" y="283.8" width="5.39" height="9" fill="#f9ede6"/>
<rect x="16" y="292.78" width="5.39" height="9" fill="#f7f7f7"/>
<rect x="21.37" y="292.78" width="5.39" height="9" fill="#fbe4d6"/>
<rect x="26.73" y="292.78" width="5.39" height="9" fill="#eaf1f5"/>
<rect x="32.1" y="292.78" width="10.75" height="9" fill="#f7f7f7"/>
<rect x="42.83" y="292.78" width="10.75" height="9" fill="#f9ede6"/>
<rect x="53.56" y="292.78" width="5.39" height="9" fill="#f7f7f7"/>
<rect x="58.93" y="292.78" width="5.39" height="9" fill="#fbccb4"/>
<rect x="64.29" y="292.78" width="5.39" height="9" fill="#f9ede6"/>
<rect x="69.66" y="292.78" width="16.12" height="9" fill="#fbe4d6"/>
<rect x="85.76" y="292.78" width="5.39" height="9" fill="#ea8f71"/>
<rect x="91.12" y="292.78" width="5.39" height="9" fill="#ad172a"/>
<rect x="96.49" y="292.78" width="10.75" height="9" fill="#eaf1f5"/>
<rect x="107.22" y="292.78" width="5.39" height="9" fill="#f9ede6"/>
<rect x="112.59" y="292.78" width="5.39" height="9" fill="#eaf1f5"/>
<rect x="117.96" y="292.78" width="5.39" height="9" fill="#fbe4d6"/>
<rect x="123.32" y="292.78" width="10.75" height="9" fill="#f7f7f7"/>
<rect x="134.05" y="292.78" width="10.75" height="9" fill="#eaf1f5"/>
<rect x="144.79" y="292.78" width="5.39" height="9" fill="#ddeaf2"/>
<rect x="150.15" y="292.78" width="5.39" height="9" fill="#fbccb4"/>
<rect x="155.52" y="292.78" width="5.39" height="9" fill="#eaf1f5"/>
<rect x="160.88" y="292.78" width="10.75" height="9" fill="#ddeaf2"/>
<rect x="171.62" y="292.78" width="5.39" height="9" fill="#eaf1f5"/>
<rect x="176.98" y="292.78" width="5.39" height="9" fill="#fbe4d6"/>
<rect x="182.35" y="292.78" width="10.75" height="9" fill="#eaf1f5"/>
<rect x="193.08" y="292.78" width="5.39" height="9" fill="#ea8f71"/>
<rect x="198.45" y="292.78" width="5.39" height="9" fill="#fbe4d6"/>
<rect x="203.81" y="292.78" width="5.39" height="9" fill="#710321"/>
<rect x="209.18" y="292.78" width="5.39" height="9" fill="#eaf1f5"/>
<rect x="214.54" y="292.78" width="5.39" height="9" fill="#f9ede6"/>
<rect x="219.91" y="292.78" width="5.39" height="9" fill="#fbccb4"/>
<rect x="225.28" y="292.78" width="5.39" height="9" fill="#f7f7f7"/>
<rect x="230.64" y="292.78" width="10.75" height="9" fill="#eaf1f5"/>
<rect x="241.38" y="292.78" width="5.39" height="9" fill="#f9ede6"/>
<rect x="246.74" y="292.78" width="10.75" height="9" fill="#f7f7f7"/>
<rect x="257.47" y="292.78" width="10.75" height="9" fill="#f9ede6"/>
<rect x="268.21" y="292.78" width="5.39" height="9" fill="#f7f7f7"/>
<rect x="273.57" y="292.78" width="10.75" height="9" fill="#f9ede6"/>
<rect x="284.3" y="292.78" width="5.39" height="9" fill="#f7f7f7"/>
<rect x="289.67" y="292.78" width="5.39" height="9" fill="#f9ede6"/>
<rect x="295.04" y="292.78" width="5.39" height="9" fill="#eaf1f5"/>
<rect x="300.4" y="292.78" width="5.39" height="9" fill="#f9ede6"/>
<rect x="305.77" y="292.78" width="16.12" height="9" fill="#fbe4d6"/>
<rect x="321.87" y="292.78" width="5.39" height="9" fill="#f7f7f7"/>
<rect x="327.23" y="292.78" width="5.39" height="9" fill="#eaf1f5"/>
<rect x="332.6" y="292.78" width="5.39" height="9" fill="#f6b394"/>
<rect x="337.96" y="292.78" width="5.39" height="9" fill="#fbccb4"/>
<rect x="343.33" y="292.78" width="5.39" height="9" fill="#eaf1f5"/>
<rect x="348.7" y="292.78" width="5.39" height="9" fill="#fbccb4"/>
<rect x="354.06" y="292.78" width="5.39" height="9" fill="#fbe4d6"/>
<rect x="359.43" y="292.78" width="5.39" height="9" fill="#f7f7f7"/>
<rect x="364.79" y="292.78" width="5.39" height="9" fill="#ea8f71"/>
<rect x="370.16" y="292.78" width="10.75" height="9" fill="#f7f7f7"/>
<rect x="380.89" y="292.78" width="5.39" height="9" fill="#fbccb4"/>
<rect x="386.26" y="292.78" width="5.39" height="9" fill="#f9ede6"/>
<rect x="391.62" y="292.78" width="5.39" height="9" fill="#f6b394"/>
<rect x="396.99" y="292.78" width="5.39" height="9" fill="#eaf1f5"/>
<rect x="402.36" y="292.78" width="5.39" height="9" fill="#f9ede6"/>
<rect x="407.72" y="292.78" width="5.39" height="9" fill="#f7f7f7"/>
<rect x="413.09" y="292.78" width="5.39" height="9" fill="#eaf1f5"/>
<rect x="418.46" y="292.78" width="5.39" height="9" fill="#ea8f71"/>
<rect x="423.82" y="292.78" width="5.39" height="9" fill="#f9ede6"/>
<rect x="429.19" y="292.78" width="5.39" height="9" fill="#fbe4d6"/>
<rect x="434.55" y="292.78" width="5.39" height="9" fill="#eaf1f5"/>
<rect x="439.92" y="292.78" width="5.39" height="9" fill="#f9ede6"/>
<rect x="445.29" y="292.78" width="5.39" height="9" fill="#fbe4d6"/>
<rect x="450.65" y="292.78" width="5.39" height="9" fill="#eaf1f5"/>
<rect x="456.02" y="292.78" width="5.39" height="9" fill="#fbe4d6"/>
<rect x="461.38" y="292.78" width="5.39" height="9" fill="#f9ede6"/>
<rect x="466.75" y="292.78" width="5.39" height="9" fill="#f7f7f7"/>
<rect x="472.12" y="292.78" width="5.39" height="9" fill="#fbe4d6"/>
<rect x="477.48" y="292.78" width="10.75" height="9" fill="#eaf1f5"/>
<rect x="488.21" y="292.78" width="5.39" height="9" fill="#f9ede6"/>
<rect x="493.58" y="292.78" width="5.39" height="9" fill="#f7f7f7"/>
<rect x="498.95" y="292.78" width="5.39" height="9" fill="#fbe4d6"/>
<rect x="504.31" y="292.78" width="5.39" height="9" fill="#f9ede6"/>
<rect x="509.68" y="292.78" width="16.12" height="9" fill="#fbe4d6"/>
<rect x="525.78" y="292.78" width="5.39" height="9" fill="#eaf1f5"/>
<rect x="531.14" y="292.78" width="5.39" height="9" fill="#fbe4d6"/>
<rect x="536.51" y="292.78" width="5.39" height="9" fill="#f9ede6"/>
<rect x="541.88" y="292.78" width="5.39" height="9" fill="#f7f7f7"/>
<rect x="547.24" y="292.78" width="10.75" height="9" fill="#eaf1f5"/>
<rect x="557.97" y="292.78" width="5.39" height="9" fill="#f9ede6"/>
<rect x="563.34" y="292.78" width="10.75" height="9" fill="#eaf1f5"/>
<rect x="574.07" y="292.78" width="5.39" height="9" fill="#f7f7f7"/>
<rect x="579.44" y="292.78" width="5.39" height="9" fill="#f9ede6"/>
<rect x="584.8" y="292.78" width="5.39" height="9" fill="#eaf1f5"/>
<rect x="590.17" y="292.78" width="5.39" height="9" fill="#fbe4d6"/>
<rect x="595.54" y="292.78" width="5.39" height="9" fill="#eaf1f5"/>
<rect x="600.9" y="292.78" width="5.39" height="9" fill="#fbe4d6"/>
<rect x="606.27" y="292.78" width="5.39" height="9" fill="#f7f7f7"/>
<rect x="611.63" y="292.78" width="5.39" height="9" fill="#fbe4d6"/>
<rect x="16" y="301.76" width="5.39" height="9" fill="#f7f7f7"/>
<rect x="21.37" y="301.76" width="5.39" height="9" fill="#fbe4d6"/>
<rect x="26.73" y="301.76" width="5.39" height="9" fill="#eaf1f5"/>
<rect x="32.1" y="301.76" width="10.75" height="9" fill="#f9ede6"/>
<rect x="42.83" y="301.76" width="10.75" height="9" fill="#fbe4d6"/>
<rect x="53.56" y="301.76" width="5.39" height="9" fill="#f7f7f7"/>
<rect x="58.93" y="301.76" width="5.39" height="9" fill="#f6b394"/>
<rect x="64.29" y="301.76" width="5.39" height="9" fill="#f7f7f7"/>
<rect x="69.66" y="301.76" width="5.39" height="9" fill="#fbe4d6"/>
<rect x="75.03" y="301.76" width="5.39" height="9" fill="#f9ede6"/>
<rect x="80.39" y="301.76" width="5.39" height="9" fill="#fbe4d6"/>
<rect x="85.76" y="301.76" width="5.39" height="9" fill="#fbccb4"/>
<rect x="91.12" y="301.76" width="5.39" height="9" fill="#ad172a"/>
<rect x="96.49" y="301.76" width="5.39" height="9" fill="#eaf1f5"/>
<rect x="101.86" y="301.76" width="5.39" height="9" fill="#ddeaf2"/>
<rect x="107.22" y="301.76" width="5.39" height="9" fill="#f9ede6"/>
<rect x="112.59" y="301.76" width="5.39" height="9" fill="#f7f7f7"/>
<rect x="117.96" y="301.76" width="5.39" height="9" fill="#fbe4d6"/>
<rect x="123.32" y="301.76" width="5.39" height="9" fill="#eaf1f5"/>
<rect x="128.69" y="301.76" width="10.75" height="9" fill="#f7f7f7"/>
<rect x="139.42" y="301.76" width="5.39" height="9" fill="#eaf1f5"/>
<rect x="144.79" y="301.76" width="5.39" height="9" fill="#ddeaf2"/>
<rect x="150.15" y="301.76" width="5.39" height="9" fill="#fbe4d6"/>
<rect x="155.52" y="301.76" width="5.39" height="9" fill="#eaf1f5"/>
<rect x="160.88" y="301.76" width="5.39" height="9" fill="#ddeaf2"/>
<rect x="166.25" y="301.76" width="10.75" height="9" fill="#eaf1f5"/>
<rect x="176.98" y="301.76" width="5.39" height="9" fill="#f9ede6"/>
<rect x="182.35" y="301.76" width="5.39" height="9" fill="#f7f7f7"/>
<rect x="187.71" y="301.76" width="5.39" height="9" fill="#eaf1f5"/>
<rect x="193.08" y="301.76" width="10.75" height="9" fill="#fbccb4"/>
<rect x="203.81" y="301.76" width="5.39" height="9" fill="#ad172a"/>
<rect x="209.18" y="301.76" width="5.39" height="9" fill="#eaf1f5"/>
<rect x="214.54" y="301.76" width="5.39" height="9" fill="#f9ede6"/>
<rect x="219.91" y="301.76" width="5.39" height="9" fill="#fbccb4"/>
<rect x="225.28" y="301.76" width="5.39" height="9" fill="#f9ede6"/>
<rect x="230.64" y="301.76" width="10.75" height="9" fill="#eaf1f5"/>
<rect x="241.38" y="301.76" width="10.75" height="9" fill="#f7f7f7"/>
<rect x="252.11" y="301.76" width="16.12" height="9" fill="#f9ede6"/>
<rect x="268.21" y="301.76" width="16.12" height="9" fill="#f7f7f7"/>
<rect x="284.3" y="301.76" width="5.39" height="9" fill="#eaf1f5"/>
<rect x="289.67" y="301.76" width="5.39" height="9" fill="#f9ede6"/>
<rect x="295.04" y="301.76" width="10.75" height="9" fill="#f7f7f7"/>
<rect x="305.77" y="301.76" width="10.75" height="9" fill="#fbe4d6"/>
<rect x="316.5" y="301.76" width="5.39" height="9" fill="#fbccb4"/>
<rect x="321.87" y="301.76" width="5.39" height="9" fill="#f7f7f7"/>
<rect x="327.23" y="301.76" width="5.39" height="9" fill="#eaf1f5"/>
<rect x="332.6" y="301.76" width="5.39" height="9" fill="#f6b394"/>
<rect x="337.96" y="301.76" width="5.39" height="9" fill="#f9ede6"/>
<rect x="343.33" y="301.76" width="5.39" height="9" fill="#eaf1f5"/>
<rect x="348.7" y="301.76" width="5.39" height="9" fill="#fbe4d6"/>
<rect x="354.06" y="301.76" width="5.39" height="9" fill="#fbccb4"/>
<rect x="359.43" y="301.76" width="5.39" height="9" fill="#eaf1f5"/>
<rect x="364.79" y="301.76" width="5.39" height="9" fill="#f6b394"/>
<rect x="370.16" y="301.76" width="10.75" height="9" fill="#f7f7f7"/>
<rect x="380.89" y="301.76" width="5.39" height="9" fill="#fbe4d6"/>
<rect x="386.26" y="301.76" width="5.39" height="9" fill="#eaf1f5"/>
<rect x="391.62" y="301.76" width="5.39" height="9" fill="#f6b394"/>
<rect x="396.99" y="301.76" width="5.39" height="9" fill="#f7f7f7"/>
<rect x="402.36" y="301.76" width="5.39" height="9" fill="#fbe4d6"/>
<rect x="407.72" y="301.76" width="10.75" height="9" fill="#f7f7f7"/>
<rect x="418.46" y="301.76" width="5.39" height="9" fill="#ea8f71"/>
<rect x="423.82" y="301.76" width="5.39" height="9" fill="#f9ede6"/>
<rect x="429.19" y="301.76" width="5.39" height="9" fill="#fbe4d6"/>
<rect x="434.55" y="301.76" width="5.39" height="9" fill="#eaf1f5"/>
<rect x="439.92" y="301.76" width="10.75" height="9" fill="#fbe4d6"/>
<rect x="450.65" y="301.76" width="5.39" height="9" fill="#f7f7f7"/>
<rect x="456.02" y="301.76" width="5.39" height="9" fill="#fbccb4"/>
<rect x="461.38" y="301.76" width="5.39" height="9" fill="#f9ede6"/>
<rect x="466.75" y="301.76" width="5.39" height="9" fill="#eaf1f5"/>
<rect x="472.12" y="301.76" width="5.39" height="9" fill="#fbe4d6"/>
<rect x="477.48" y="301.76" width="10.75" height="9" fill="#eaf1f5"/>
<rect x="488.21" y="301.76" width="5.39" height="9" fill="#f7f7f7"/>
<rect x="493.58" y="301.76" width="5.39" height="9" fill="#ddeaf2"/>
<rect x="498.95" y="301.76" width="5.39" height="9" fill="#eaf1f5"/>
<rect x="504.31" y="301.76" width="16.12" height="9" fill="#f9ede6"/>
<rect x="520.41" y="301.76" width="5.39" height="9" fill="#fbccb4"/>
<rect x="525.78" y="301.76" width="5.39" height="9" fill="#eaf1f5"/>
<rect x="531.14" y="301.76" width="5.39" height="9" fill="#fbe4d6"/>
<rect x="536.51" y="301.76" width="5.39" height="9" fill="#f7f7f7"/>
<rect x="541.88" y="301.76" width="5.39" height="9" fill="#f9ede6"/>
<rect x="547.24" y="301.76" width="10.75" height="9" fill="#eaf1f5"/>
<rect x="557.97" y="301.76" width="16.12" height="9" fill="#f7f7f7"/>
<rect x="574.07" y="301.76" width="5.39" height="9" fill="#eaf1f5"/>
<rect x="579.44" y="301.76" width="5.39" height="9" fill="#f9ede6"/>
<rect x="584.8" y="301.76" width="5.39" height="9" fill="#eaf1f5"/>
<rect x="590.17" y="301.76" width="5.39" height="9" fill="#fbccb4"/>
<rect x="595.54" y="301.76" width="5.39" height="9" fill="#eaf1f5"/>
<rect x="600.9" y="301.76" width="5.39" height="9" fill="#fbe4d6"/>
<rect x="606.27" y="301.76" width="5.39" height="9" fill="#f7f7f7"/>
<rect x="611.63" y="301.76" width="5.39" height="9" fill="#fbe4d6"/>
<rect x="16" y="310.74" width="42.95" height="9" fill="#eaf1f5"/>
<rect x="58.93" y="310.74" width="16.12" height="9" fill="#f7f7f7"/>
<rect x="75.03" y="310.74" width="5.39" height="9" fill="#f9ede6"/>
<rect x="80.39" y="310.74" width="5.39" height="9" fill="#f7f7f7"/>
<rect x="85.76" y="310.74" width="5.39" height="9" fill="#ddeaf2"/>
<rect x="91.12" y="310.74" width="5.39" height="9" fill="#ad172a"/>
<rect x="96.49" y="310.74" width="5.39" height="9" fill="#eaf1f5"/>
<rect x="101.86" y="310.74" width="5.39" height="9" fill="#fbe4d6"/>
<rect x="107.22" y="310.74" width="5.39" height="9" fill="#f7f7f7"/>
<rect x="112.59" y="310.74" width="5.39" height="9" fill="#ddeaf2"/>
<rect x="117.96" y="310.74" width="5.39" height="9" fill="#f9ede6"/>
<rect x="123.32" y="310.74" width="5.39" height="9" fill="#ddeaf2"/>
<rect x="128.69" y="310.74" width="5.39" height="9" fill="#f9ede6"/>
<rect x="134.05" y="310.74" width="10.75" height="9" fill="#eaf1f5"/>
<rect x="144.79" y="310.74" width="5.39" height="9" fill="#ddeaf2"/>
<rect x="150.15" y="310.74" width="5.39" height="9" fill="#eaf1f5"/>
<rect x="155.52" y="310.74" width="10.75" height="9" fill="#ddeaf2"/>
<rect x="166.25" y="310.74" width="10.75" height="9" fill="#eaf1f5"/>
<rect x="176.98" y="310.74" width="5.39" height="9" fill="#f9ede6"/>
<rect x="182.35" y="310.74" width="10.75" height="9" fill="#eaf1f5"/>
<rect x="193.08" y="310.74" width="10.75" height="9" fill="#f9ede6"/>
<rect x="203.81" y="310.74" width="5.39" height="9" fill="#f6b394"/>
<rect x="209.18" y="310.74" width="5.39" height="9" fill="#eaf1f5"/>
<rect x="214.54" y="310.74" width="5.39" height="9" fill="#f7f7f7"/>
<rect x="219.91" y="310.74" width="5.39" height="9" fill="#f9ede6"/>
<rect x="225.28" y="310.74" width="10.75" height="9" fill="#eaf1f5"/>
<rect x="236.01" y="310.74" width="5.39" height="9" fill="#ddeaf2"/>
<rect x="241.38" y="310.74" width="5.39" height="9" fill="#f7f7f7"/>
<rect x="246.74" y="310.74" width="10.75" height="9" fill="#eaf1f5"/>
<rect x="257.47" y="310.74" width="21.48" height="9" fill="#f7f7f7"/>
<rect x="278.94" y="310.74" width="5.39" height="9" fill="#f9ede6"/>
<rect x="284.3" y="310.74" width="21.48" height="9" fill="#f7f7f7"/>
<rect x="305.77" y="310.74" width="16.12" height="9" fill="#f9ede6"/>
<rect x="321.87" y="310.74" width="10.75" height="9" fill="#eaf1f5"/>
<rect x="332.6" y="310.74" width="10.75" height="9" fill="#f9ede6"/>
<rect x="343.33" y="310.74" width="5.39" height="9" fill="#eaf1f5"/>
<rect x="348.7" y="310.74" width="10.75" height="9" fill="#f7f7f7"/>
<rect x="359.43" y="310.74" width="5.39" height="9" fill="#ddeaf2"/>
<rect x="364.79" y="310.74" width="5.39" height="9" fill="#f9ede6"/>
<rect x="370.16" y="310.74" width="5.39" height="9" fill="#eaf1f5"/>
<rect x="375.53" y="310.74" width="10.75" height="9" fill="#f7f7f7"/>
<rect x="386.26" y="310.74" width="5.39" height="9" fill="#f9ede6"/>
<rect x="391.62" y="310.74" width="5.39" height="9" fill="#f7f7f7"/>
<rect x="396.99" y="310.74" width="5.39" height="9" fill="#eaf1f5"/>
<rect x="402.36" y="310.74" width="5.39" height="9" fill="#f7f7f7"/>
<rect x="407.72" y="310.74" width="10.75" height="9" fill="#eaf1f5"/>
<rect x="418.46" y="310.74" width="5.39" height="9" fill="#fbe4d6"/>
<rect x="423.82" y="310.74" width="10.75" height="9" fill="#f7f7f7"/>
<rect x="434.55" y="310.74" width="5.39" height="9" fill="#eaf1f5"/>
<rect x="439.92" y="310.74" width="5.39" height="9" fill="#f7f7f7"/>
<rect x="445.29" y="310.74" width="10.75" height="9" fill="#eaf1f5"/>
<rect x="456.02" y="310.74" width="5.39" height="9" fill="#f9ede6"/>
<rect x="461.38" y="310.74" width="5.39" height="9" fill="#f7f7f7"/>
<rect x="466.75" y="310.74" width="5.39" height="9" fill="#ddeaf2"/>
<rect x="472.12" y="310.74" width="5.39" height="9" fill="#eaf1f5"/>
<rect x="477.48" y="310.74" width="16.12" height="9" fill="#ddeaf2"/>
<rect x="493.58" y="310.74" width="10.75" height="9" fill="#f7f7f7"/>
<rect x="504.31" y="310.74" width="5.39" height="9" fill="#f9ede6"/>
<rect x="509.68" y="310.74" width="5.39" height="9" fill="#fbe4d6"/>
<rect x="515.04" y="310.74" width="5.39" height="9" fill="#eaf1f5"/>
<rect x="520.41" y="310.74" width="5.39" height="9" fill="#ddeaf2"/>
<rect x="525.78" y="310.74" width="5.39" height="9" fill="#eaf1f5"/>
<rect x="531.14" y="310.74" width="10.75" height="9" fill="#fbe4d6"/>
<rect x="541.88" y="310.74" width="5.39" height="9" fill="#f7f7f7"/>
<rect x="547.24" y="310.74" width="5.39" height="9" fill="#eaf1f5"/>
<rect x="552.61" y="310.74" width="5.39" height="9" fill="#ddeaf2"/>
<rect x="557.97" y="310.74" width="10.75" height="9" fill="#eaf1f5"/>
<rect x="568.71" y="310.74" width="5.39" height="9" fill="#ddeaf2"/>
<rect x="574.07" y="310.74" width="5.39" height="9" fill="#eaf1f5"/>
<rect x="579.44" y="310.74" width="5.39" height="9" fill="#fbe4d6"/>
<rect x="584.8" y="310.74" width="5.39" height="9" fill="#eaf1f5"/>
<rect x="590.17" y="310.74" width="10.75" height="9" fill="#f9ede6"/>
<rect x="600.9" y="310.74" width="5.39" height="9" fill="#eaf1f5"/>
<rect x="606.27" y="310.74" width="5.39" height="9" fill="#ddeaf2"/>
<rect x="611.63" y="310.74" width="5.39" height="9" fill="#f9ede6"/>
<rect x="16" y="319.72" width="42.95" height="9" fill="#eaf1f5"/>
<rect x="58.93" y="319.72" width="10.75" height="9" fill="#f7f7f7"/>
<rect x="69.66" y="319.72" width="10.75" height="9" fill="#f9ede6"/>
<rect x="80.39" y="319.72" width="5.39" height="9" fill="#f7f7f7"/>
<rect x="85.76" y="319.72" width="5.39" height="9" fill="#fbe4d6"/>
<rect x="91.12" y="319.72" width="5.39" height="9" fill="#c53d3d"/>
<rect x="96.49" y="319.72" width="5.39" height="9" fill="#eaf1f5"/>
<rect x="101.86" y="319.72" width="10.75" height="9" fill="#f9ede6"/>
<rect x="112.59" y="319.72" width="5.39" height="9" fill="#ddeaf2"/>
<rect x="117.96" y="319.72" width="5.39" height="9" fill="#f9ede6"/>
<rect x="123.32" y="319.72" width="5.39" height="9" fill="#eaf1f5"/>
<rect x="128.69" y="319.72" width="10.75" height="9" fill="#f9ede6"/>
<rect x="139.42" y="319.72" width="5.39" height="9" fill="#eaf1f5"/>
<rect x="144.79" y="319.72" width="5.39" height="9" fill="#ddeaf2"/>
<rect x="150.15" y="319.72" width="5.39" height="9" fill="#f7f7f7"/>
<rect x="155.52" y="319.72" width="5.39" height="9" fill="#eaf1f5"/>
<rect x="160.88" y="319.72" width="5.39" height="9" fill="#ddeaf2"/>
<rect x="166.25" y="319.72" width="10.75" height="9" fill="#eaf1f5"/>
<rect x="176.98" y="319.72" width="5.39" height="9" fill="#f7f7f7"/>
<rect x="182.35" y="319.72" width="5.39" height="9" fill="#eaf1f5"/>
<rect x="187.71" y="319.72" width="5.39" height="9" fill="#f7f7f7"/>
<rect x="193.08" y="319.72" width="5.39" height="9" fill="#fbccb4"/>
<rect x="198.45" y="319.72" width="5.39" height="9" fill="#f7f7f7"/>
<rect x="203.81" y="319.72" width="5.39" height="9" fill="#f9ede6"/>
<rect x="209.18" y="319.72" width="5.39" height="9" fill="#eaf1f5"/>
<rect x="214.54" y="319.72" width="5.39" height="9" fill="#f7f7f7"/>
<rect x="219.91" y="319.72" width="5.39" height="9" fill="#fbe4d6"/>
<rect x="225.28" y="319.72" width="10.75" height="9" fill="#eaf1f5"/>
<rect x="236.01" y="319.72" width="5.39" height="9" fill="#ddeaf2"/>
<rect x="241.38" y="319.72" width="5.39" height="9" fill="#f9ede6"/>
<rect x="246.74" y="319.72" width="10.75" height="9" fill="#eaf1f5"/>
<rect x="257.47" y="319.72" width="10.75" height="9" fill="#f9ede6"/>
<rect x="268.21" y="319.72" width="5.39" height="9" fill="#f7f7f7"/>
<rect x="273.57" y="319.72" width="5.39" height="9" fill="#f9ede6"/>
<rect x="278.94" y="319.72" width="5.39" height="9" fill="#f7f7f7"/>
<rect x="284.3" y="319.72" width="5.39" height="9" fill="#eaf1f5"/>
<rect x="289.67" y="319.72" width="10.75" height="9" fill="#f7f7f7"/>
<rect x="300.4" y="319.72" width="5.39" height="9" fill="#f9ede6"/>
<rect x="305.77" y="319.72" width="5.39" height="9" fill="#f7f7f7"/>
<rect x="311.13" y="319.72" width="5.39" height="9" fill="#fbe4d6"/>
<rect x="316.5" y="319.72" width="10.75" height="9" fill="#eaf1f5"/>
<rect x="327.23" y="319.72" width="5.39" height="9" fill="#ddeaf2"/>
<rect x="332.6" y="319.72" width="5.39" height="9" fill="#f7f7f7"/>
<rect x="337.96" y="319.72" width="16.12" height="9" fill="#eaf1f5"/>
<rect x="354.06" y="319.72" width="5.39" height="9" fill="#f9ede6"/>
<rect x="359.43" y="319.72" width="5.39" height="9" fill="#eaf1f5"/>
<rect x="364.79" y="319.72" width="32.22" height="9" fill="#f7f7f7"/>
<rect x="396.99" y="319.72" width="21.48" height="9" fill="#eaf1f5"/>
<rect x="418.46" y="319.72" width="5.39" height="9" fill="#fbe4d6"/>
<rect x="423.82" y="319.72" width="10.75" height="9" fill="#f7f7f7"/>
<rect x="434.55" y="319.72" width="5.39" height="9" fill="#eaf1f5"/>
<rect x="439.92" y="319.72" width="5.39" height="9" fill="#f7f7f7"/>
<rect x="445.29" y="319.72" width="10.75" height="9" fill="#eaf1f5"/>
<rect x="456.02" y="319.72" width="5.39" height="9" fill="#f9ede6"/>
<rect x="461.38" y="319.72" width="10.75" height="9" fill="#eaf1f5"/>
<rect x="472.12" y="319.72" width="5.39" height="9" fill="#f7f7f7"/>
<rect x="477.48" y="319.72" width="16.12" height="9" fill="#ddeaf2"/>
<rect x="493.58" y="319.72" width="5.39" height="9" fill="#eaf1f5"/>
<rect x="498.95" y="319.72" width="5.39" height="9" fill="#f7f7f7"/>
<rect x="504.31" y="319.72" width="5.39" height="9" fill="#ddeaf2"/>
<rect x="509.68" y="319.72" width="5.39" height="9" fill="#fbe4d6"/>
<rect x="515.04" y="319.72" width="10.75" height="9" fill="#eaf1f5"/>
<rect x="525.78" y="319.72" width="5.39" height="9" fill="#f7f7f7"/>
<rect x="531.14" y="319.72" width="5.39" height="9" fill="#ddeaf2"/>
<rect x="536.51" y="319.72" width="5.39" height="9" fill="#fbe4d6"/>
<rect x="541.88" y="319.72" width="5.39" height="9" fill="#f7f7f7"/>
<rect x="547.24" y="319.72" width="5.39" height="9" fill="#ddeaf2"/>
<rect x="552.61" y="319.72" width="26.85" height="9" fill="#eaf1f5"/>
<rect x="579.44" y="319.72" width="5.39" height="9" fill="#fbe4d6"/>
<rect x="584.8" y="319.72" width="5.39" height="9" fill="#eaf1f5"/>
<rect x="590.17" y="319.72" width="5.39" height="9" fill="#fbe4d6"/>
<rect x="595.54" y="319.72" width="5.39" height="9" fill="#f9ede6"/>
<rect x="600.9" y="319.72" width="5.39" height="9" fill="#c7e0ed"/>
<rect x="606.27" y="319.72" width="5.39" height="9" fill="#eaf1f5"/>
<rect x="611.63" y="319.72" width="5.39" height="9" fill="#fbe4d6"/>
<rect x="16" y="328.7" width="26.85" height="9" fill="#eaf1f5"/>
<rect x="42.83" y="328.7" width="5.39" height="9" fill="#f9ede6"/>
<rect x="48.2" y="328.7" width="10.75" height="9" fill="#eaf1f5"/>
<rect x="58.93" y="328.7" width="5.39" height="9" fill="#f9ede6"/>
<rect x="64.29" y="328.7" width="5.39" height="9" fill="#f7f7f7"/>
<rect x="69.66" y="328.7" width="5.39" height="9" fill="#fbe4d6"/>
<rect x="75.03" y="328.7" width="5.39" height="9" fill="#f7f7f7"/>
<rect x="80.39" y="328.7" width="5.39" height="9" fill="#eaf1f5"/>
<rect x="85.76" y="328.7" width="5.39" height="9" fill="#f9ede6"/>
<rect x="91.12" y="328.7" width="5.39" height="9" fill="#ea8f71"/>
<rect x="96.49" y="328.7" width="5.39" height="9" fill="#f7f7f7"/>
<rect x="101.86" y="328.7" width="10.75" height="9" fill="#f9ede6"/>
<rect x="112.59" y="328.7" width="5.39" height="9" fill="#ddeaf2"/>
<rect x="117.96" y="328.7" width="5.39" height="9" fill="#f9ede6"/>
<rect x="123.32" y="328.7" width="5.39" height="9" fill="#eaf1f5"/>
<rect x="128.69" y="328.7" width="5.39" height="9" fill="#f9ede6"/>
<rect x="134.05" y="328.7" width="5.39" height="9" fill="#eaf1f5"/>
<rect x="139.42" y="328.7" width="10.75" height="9" fill="#ddeaf2"/>
<rect x="150.15" y="328.7" width="5.39" height="9" fill="#f7f7f7"/>
<rect x="155.52" y="328.7" width="10.75" height="9" fill="#ddeaf2"/>
<rect x="166.25" y="328.7" width="10.75" height="9" fill="#eaf1f5"/>
<rect x="176.98" y="328.7" width="5.39" height="9" fill="#fbe4d6"/>
<rect x="182.35" y="328.7" width="10.75" height="9" fill="#eaf1f5"/>
<rect x="193.08" y="328.7" width="5.39" height="9" fill="#fbe4d6"/>
<rect x="198.45" y="328.7" width="5.39" height="9" fill="#f9ede6"/>
<rect x="203.81" y="328.7" width="5.39" height="9" fill="#f7f7f7"/>
<rect x="209.18" y="328.7" width="5.39" height="9" fill="#eaf1f5"/>
<rect x="214.54" y="328.7" width="5.39" height="9" fill="#f7f7f7"/>
<rect x="219.91" y="328.7" width="5.39" height="9" fill="#f9ede6"/>
<rect x="225.28" y="328.7" width="16.12" height="9" fill="#eaf1f5"/>
<rect x="241.38" y="328.7" width="5.39" height="9" fill="#f9ede6"/>
<rect x="246.74" y="328.7" width="5.39" height="9" fill="#eaf1f5"/>
<rect x="252.11" y="328.7" width="16.12" height="9" fill="#f7f7f7"/>
<rect x="268.21" y="328.7" width="5.39" height="9" fill="#eaf1f5"/>
<rect x="273.57" y="328.7" width="10.75" height="9" fill="#f7f7f7"/>
<rect x="284.3" y="328.7" width="5.39" height="9" fill="#eaf1f5"/>
<rect x="289.67" y="328.7" width="5.39" height="9" fill="#f7f7f7"/>
<rect x="295.04" y="328.7" width="5.39" height="9" fill="#eaf1f5"/>
<rect x="300.4" y="328.7" width="5.39" height="9" fill="#f9ede6"/>
<rect x="305.77" y="328.7" width="5.39" height="9" fill="#f7f7f7"/>
<rect x="311.13" y="328.7" width="5.39" height="9" fill="#f9ede6"/>
<rect x="316.5" y="328.7" width="5.39" height="9" fill="#f7f7f7"/>
<rect x="321.87" y="328.7" width="10.75" height="9" fill="#eaf1f5"/>
<rect x="332.6" y="328.7" width="5.39" height="9" fill="#f7f7f7"/>
<rect x="337.96" y="328.7" width="5.39" height="9" fill="#eaf1f5"/>
<rect x="343.33" y="328.7" width="5.39" height="9" fill="#ddeaf2"/>
<rect x="348.7" y="328.7" width="5.39" height="9" fill="#f7f7f7"/>
<rect x="354.06" y="328.7" width="5.39" height="9" fill="#f9ede6"/>
<rect x="359.43" y="328.7" width="5.39" height="9" fill="#eaf1f5"/>
<rect x="364.79" y="328.7" width="5.39" height="9" fill="#fbe4d6"/>
<rect x="370.16" y="328.7" width="5.39" height="9" fill="#f7f7f7"/>
<rect x="375.53" y="328.7" width="5.39" height="9" fill="#eaf1f5"/>
<rect x="380.89" y="328.7" width="5.39" height="9" fill="#f7f7f7"/>
<rect x="386.26" y="328.7" width="5.39" height="9" fill="#eaf1f5"/>
<rect x="391.62" y="328.7" width="5.39" height="9" fill="#f9ede6"/>
<rect x="396.99" y="328.7" width="16.12" height="9" fill="#f7f7f7"/>
<rect x="413.09" y="328.7" width="5.39" height="9" fill="#eaf1f5"/>
<rect x="418.46" y="328.7" width="5.39" height="9" fill="#fbe4d6"/>
<rect x="423.82" y="328.7" width="21.48" height="9" fill="#eaf1f5"/>
<rect x="445.29" y="328.7" width="5.39" height="9" fill="#f7f7f7"/>
<rect x="450.65" y="328.7" width="5.39" height="9" fill="#eaf1f5"/>
<rect x="456.02" y="328.7" width="10.75" height="9" fill="#f7f7f7"/>
<rect x="466.75" y="328.7" width="26.85" height="9" fill="#eaf1f5"/>
<rect x="493.58" y="328.7" width="5.39" height="9" fill="#f7f7f7"/>
<rect x="498.95" y="328.7" width="5.39" height="9" fill="#f9ede6"/>
<rect x="504.31" y="328.7" width="5.39" height="9" fill="#f7f7f7"/>
<rect x="509.68" y="328.7" width="5.39" height="9" fill="#fbe4d6"/>
<rect x="515.04" y="328.7" width="5.39" height="9" fill="#eaf1f5"/>
<rect x="520.41" y="328.7" width="5.39" height="9" fill="#f7f7f7"/>
<rect x="525.78" y="328.7" width="5.39" height="9" fill="#f9ede6"/>
<rect x="531.14" y="328.7" width="5.39" height="9" fill="#eaf1f5"/>
<rect x="536.51" y="328.7" width="5.39" height="9" fill="#fbe4d6"/>
<rect x="541.88" y="328.7" width="5.39" height="9" fill="#f7f7f7"/>
<rect x="547.24" y="328.7" width="5.39" height="9" fill="#ddeaf2"/>
<rect x="552.61" y="328.7" width="5.39" height="9" fill="#eaf1f5"/>
<rect x="557.97" y="328.7" width="5.39" height="9" fill="#f7f7f7"/>
<rect x="563.34" y="328.7" width="16.12" height="9" fill="#eaf1f5"/>
<rect x="579.44" y="328.7" width="5.39" height="9" fill="#fbe4d6"/>
<rect x="584.8" y="328.7" width="5.39" height="9" fill="#eaf1f5"/>
<rect x="590.17" y="328.7" width="5.39" height="9" fill="#fbe4d6"/>
<rect x="595.54" y="328.7" width="5.39" height="9" fill="#f9ede6"/>
<rect x="600.9" y="328.7" width="16.12" height="9" fill="#eaf1f5"/>
<rect x="16" y="337.68" width="5.39" height="9" fill="#eaf1f5"/>
<rect x="21.37" y="337.68" width="5.39" height="9" fill="#f7f7f7"/>
<rect x="26.73" y="337.68" width="5.39" height="9" fill="#eaf1f5"/>
<rect x="32.1" y="337.68" width="5.39" height="9" fill="#ddeaf2"/>
<rect x="37.46" y="337.68" width="21.48" height="9" fill="#eaf1f5"/>
<rect x="58.93" y="337.68" width="5.39" height="9" fill="#f7f7f7"/>
<rect x="64.29" y="337.68" width="5.39" height="9" fill="#eaf1f5"/>
<rect x="69.66" y="337.68" width="5.39" height="9" fill="#fbe4d6"/>
<rect x="75.03" y="337.68" width="10.75" height="9" fill="#eaf1f5"/>
<rect x="85.76" y="337.68" width="5.39" height="9" fill="#fbe4d6"/>
<rect x="91.12" y="337.68" width="5.39" height="9" fill="#f6b394"/>
<rect x="96.49" y="337.68" width="5.39" height="9" fill="#f7f7f7"/>
<rect x="101.86" y="337.68" width="5.39" height="9" fill="#f9ede6"/>
<rect x="107.22" y="337.68" width="5.39" height="9" fill="#f7f7f7"/>
<rect x="112.59" y="337.68" width="5.39" height="9" fill="#ddeaf2"/>
<rect x="117.96" y="337.68" width="5.39" height="9" fill="#f7f7f7"/>
<rect x="123.32" y="337.68" width="5.39" height="9" fill="#eaf1f5"/>
<rect x="128.69" y="337.68" width="5.39" height="9" fill="#f9ede6"/>
<rect x="134.05" y="337.68" width="10.75" height="9" fill="#eaf1f5"/>
<rect x="144.79" y="337.68" width="10.75" height="9" fill="#ddeaf2"/>
<rect x="155.52" y="337.68" width="16.12" height="9" fill="#eaf1f5"/>
<rect x="171.62" y="337.68" width="5.39" height="9" fill="#f7f7f7"/>
<rect x="176.98" y="337.68" width="5.39" height="9" fill="#fbe4d6"/>
<rect x="182.35" y="337.68" width="5.39" height="9" fill="#ddeaf2"/>
<rect x="187.71" y="337.68" width="10.75" height="9" fill="#eaf1f5"/>
<rect x="198.45" y="337.68" width="10.75" height="9" fill="#f7f7f7"/>
<rect x="209.18" y="337.68" width="10.75" height="9" fill="#eaf1f5"/>
<rect x="219.91" y="337.68" width="5.39" height="9" fill="#f9ede6"/>
<rect x="225.28" y="337.68" width="16.12" height="9" fill="#eaf1f5"/>
<rect x="241.38" y="337.68" width="5.39" height="9" fill="#f9ede6"/>
<rect x="246.74" y="337.68" width="10.75" height="9" fill="#eaf1f5"/>
<rect x="257.47" y="337.68" width="10.75" height="9" fill="#f9ede6"/>
<rect x="268.21" y="337.68" width="5.39" height="9" fill="#eaf1f5"/>
<rect x="273.57" y="337.68" width="5.39" height="9" fill="#f7f7f7"/>
<rect x="278.94" y="337.68" width="10.75" height="9" fill="#eaf1f5"/>
<rect x="289.67" y="337.68" width="5.39" height="9" fill="#f7f7f7"/>
<rect x="295.04" y="337.68" width="5.39" height="9" fill="#eaf1f5"/>
<rect x="300.4" y="337.68" width="5.39" height="9" fill="#f9ede6"/>
<rect x="305.77" y="337.68" width="5.39" height="9" fill="#f7f7f7"/>
<rect x="311.13" y="337.68" width="5.39" height="9" fill="#f9ede6"/>
<rect x="316.5" y="337.68" width="5.39" height="9" fill="#f7f7f7"/>
<rect x="321.87" y="337.68" width="5.39" height="9" fill="#eaf1f5"/>
<rect x="327.23" y="337.68" width="5.39" height="9" fill="#f7f7f7"/>
<rect x="332.6" y="337.68" width="5.39" height="9" fill="#f9ede6"/>
<rect x="337.96" y="337.68" width="16.12" height="9" fill="#eaf1f5"/>
<rect x="354.06" y="337.68" width="10.75" height="9" fill="#f7f7f7"/>
<rect x="364.79" y="337.68" width="5.39" height="9" fill="#f9ede6"/>
<rect x="370.16" y="337.68" width="16.12" height="9" fill="#f7f7f7"/>
<rect x="386.26" y="337.68" width="5.39" height="9" fill="#f9ede6"/>
<rect x="391.62" y="337.68" width="26.85" height="9" fill="#eaf1f5"/>
<rect x="418.46" y="337.68" width="5.39" height="9" fill="#fbe4d6"/>
<rect x="423.82" y="337.68" width="32.22" height="9" fill="#eaf1f5"/>
<rect x="456.02" y="337.68" width="5.39" height="9" fill="#f7f7f7"/>
<rect x="461.38" y="337.68" width="5.39" height="9" fill="#eaf1f5"/>
<rect x="466.75" y="337.68" width="5.39" height="9" fill="#ddeaf2"/>
<rect x="472.12" y="337.68" width="10.75" height="9" fill="#eaf1f5"/>
<rect x="482.85" y="337.68" width="10.75" height="9" fill="#ddeaf2"/>
<rect x="493.58" y="337.68" width="5.39" height="9" fill="#f7f7f7"/>
<rect x="498.95" y="337.68" width="5.39" height="9" fill="#fbe4d6"/>
<rect x="504.31" y="337.68" width="5.39" height="9" fill="#eaf1f5"/>
<rect x="509.68" y="337.68" width="5.39" height="9" fill="#f9ede6"/>
<rect x="515.04" y="337.68" width="5.39" height="9" fill="#eaf1f5"/>
<rect x="520.41" y="337.68" width="5.39" height="9" fill="#fbe4d6"/>
<rect x="525.78" y="337.68" width="5.39" height="9" fill="#f7f7f7"/>
<rect x="531.14" y="337.68" width="5.39" height="9" fill="#fbe4d6"/>
<rect x="536.51" y="337.68" width="5.39" height="9" fill="#f9ede6"/>
<rect x="541.88" y="337.68" width="5.39" height="9" fill="#eaf1f5"/>
<rect x="547.24" y="337.68" width="5.39" height="9" fill="#ddeaf2"/>
<rect x="552.61" y="337.68" width="10.75" height="9" fill="#eaf1f5"/>
<rect x="563.34" y="337.68" width="5.39" height="9" fill="#ddeaf2"/>
<rect x="568.71" y="337.68" width="5.39" height="9" fill="#eaf1f5"/>
<rect x="574.07" y="337.68" width="5.39" height="9" fill="#f7f7f7"/>
<rect x="579.44" y="337.68" width="5.39" height="9" fill="#fbe4d6"/>
<rect x="584.8" y="337.68" width="5.39" height="9" fill="#f7f7f7"/>
<rect x="590.17" y="337.68" width="5.39" height="9" fill="#fbccb4"/>
<rect x="595.54" y="337.68" width="5.39" height="9" fill="#f9ede6"/>
<rect x="600.9" y="337.68" width="5.39" height="9" fill="#fbe4d6"/>
<rect x="606.27" y="337.68" width="5.39" height="9" fill="#ddeaf2"/>
<rect x="611.63" y="337.68" width="5.39" height="9" fill="#fbccb4"/>
<rect x="16" y="346.66" width="26.85" height="9" fill="#eaf1f5"/>
<rect x="42.83" y="346.66" width="5.39" height="9" fill="#f7f7f7"/>
<rect x="48.2" y="346.66" width="5.39" height="9" fill="#eaf1f5"/>
<rect x="53.56" y="346.66" width="5.39" height="9" fill="#ddeaf2"/>
<rect x="58.93" y="346.66" width="5.39" height="9" fill="#f7f7f7"/>
<rect x="64.29" y="346.66" width="5.39" height="9" fill="#eaf1f5"/>
<rect x="69.66" y="346.66" width="5.39" height="9" fill="#fbe4d6"/>
<rect x="75.03" y="346.66" width="10.75" height="9" fill="#f7f7f7"/>
<rect x="85.76" y="346.66" width="5.39" height="9" fill="#fbe4d6"/>
<rect x="91.12" y="346.66" width="5.39" height="9" fill="#f9ede6"/>
<rect x="96.49" y="346.66" width="5.39" height="9" fill="#f7f7f7"/>
<rect x="101.86" y="346.66" width="5.39" height="9" fill="#fbe4d6"/>
<rect x="107.22" y="346.66" width="5.39" height="9" fill="#f9ede6"/>
<rect x="112.59" y="346.66" width="5.39" height="9" fill="#ddeaf2"/>
<rect x="117.96" y="346.66" width="5.39" height="9" fill="#f9ede6"/>
<rect x="123.32" y="346.66" width="5.39" height="9" fill="#eaf1f5"/>
<rect x="128.69" y="346.66" width="5.39" height="9" fill="#f9ede6"/>
<rect x="134.05" y="346.66" width="5.39" height="9" fill="#eaf1f5"/>
<rect x="139.42" y="346.66" width="5.39" height="9" fill="#ddeaf2"/>
<rect x="144.79" y="346.66" width="5.39" height="9" fill="#c7e0ed"/>
<rect x="150.15" y="346.66" width="5.39" height="9" fill="#f6b394"/>
<rect x="155.52" y="346.66" width="5.39" height="9" fill="#f7f7f7"/>
<rect x="160.88" y="346.66" width="5.39" height="9" fill="#ddeaf2"/>
<rect x="166.25" y="346.66" width="16.12" height="9" fill="#f7f7f7"/>
<rect x="182.35" y="346.66" width="10.75" height="9" fill="#eaf1f5"/>
<rect x="193.08" y="346.66" width="5.39" height="9" fill="#f9ede6"/>
<rect x="198.45" y="346.66" width="5.39" height="9" fill="#fbe4d6"/>
<rect x="203.81" y="346.66" width="5.39" height="9" fill="#f7f7f7"/>
<rect x="209.18" y="346.66" width="5.39" height="9" fill="#eaf1f5"/>
<rect x="214.54" y="346.66" width="10.75" height="9" fill="#f7f7f7"/>
<rect x="225.28" y="346.66" width="16.12" height="9" fill="#eaf1f5"/>
<rect x="241.38" y="346.66" width="5.39" height="9" fill="#f7f7f7"/>
<rect x="246.74" y="346.66" width="5.39" height="9" fill="#eaf1f5"/>
<rect x="252.11" y="346.66" width="10.75" height="9" fill="#f7f7f7"/>
<rect x="262.84" y="346.66" width="5.39" height="9" fill="#f9ede6"/>
<rect x="268.21" y="346.66" width="5.39" height="9" fill="#eaf1f5"/>
<rect x="273.57" y="346.66" width="5.39" height="9" fill="#f7f7f7"/>
<rect x="278.94" y="346.66" width="10.75" height="9" fill="#eaf1f5"/>
<rect x="289.67" y="346.66" width="5.39" height="9" fill="#f7f7f7"/>
<rect x="295.04" y="346.66" width="5.39" height="9" fill="#eaf1f5"/>
<rect x="300.4" y="346.66" width="5.39" height="9" fill="#f7f7f7"/>
<rect x="305.77" y="346.66" width="5.39" height="9" fill="#eaf1f5"/>
<rect x="311.13" y="346.66" width="5.39" height="9" fill="#f9ede6"/>
<rect x="316.5" y="346.66" width="21.48" height="9" fill="#eaf1f5"/>
<rect x="337.96" y="346.66" width="5.39" height="9" fill="#f7f7f7"/>
<rect x="343.33" y="346.66" width="5.39" height="9" fill="#eaf1f5"/>
<rect x="348.7" y="346.66" width="5.39" height="9" fill="#f7f7f7"/>
<rect x="354.06" y="346.66" width="5.39" height="9" fill="#f9ede6"/>
<rect x="359.43" y="346.66" width="5.39" height="9" fill="#ddeaf2"/>
<rect x="364.79" y="346.66" width="5.39" height="9" fill="#fbe4d6"/>
<rect x="370.16" y="346.66" width="26.85" height="9" fill="#f7f7f7"/>
<rect x="396.99" y="346.66" width="21.48" height="9" fill="#eaf1f5"/>
<rect x="418.46" y="346.66" width="5.39" height="9" fill="#f9ede6"/>
<rect x="423.82" y="346.66" width="16.12" height="9" fill="#eaf1f5"/>
<rect x="439.92" y="346.66" width="10.75" height="9" fill="#f7f7f7"/>
<rect x="450.65" y="346.66" width="5.39" height="9" fill="#eaf1f5"/>
<rect x="456.02" y="346.66" width="5.39" height="9" fill="#f7f7f7"/>
<rect x="461.38" y="346.66" width="5.39" height="9" fill="#eaf1f5"/>
<rect x="466.75" y="346.66" width="5.39" height="9" fill="#ddeaf2"/>
<rect x="472.12" y="346.66" width="5.39" height="9" fill="#f7f7f7"/>
<rect x="477.48" y="346.66" width="16.12" height="9" fill="#ddeaf2"/>
<rect x="493.58" y="346.66" width="16.12" height="9" fill="#f9ede6"/>
<rect x="509.68" y="346.66" width="5.39" height="9" fill="#fbe4d6"/>
<rect x="515.04" y="346.66" width="5.39" height="9" fill="#f7f7f7"/>
<rect x="520.41" y="346.66" width="10.75" height="9" fill="#f9ede6"/>
<rect x="531.14" y="346.66" width="10.75" height="9" fill="#fbe4d6"/>
<rect x="541.88" y="346.66" width="5.39" height="9" fill="#eaf1f5"/>
<rect x="547.24" y="346.66" width="5.39" height="9" fill="#ddeaf2"/>
<rect x="552.61" y="346.66" width="26.85" height="9" fill="#eaf1f5"/>
<rect x="579.44" y="346.66" width="5.39" height="9" fill="#fbe4d6"/>
<rect x="584.8" y="346.66" width="5.39" height="9" fill="#f9ede6"/>
<rect x="590.17" y="346.66" width="5.39" height="9" fill="#eaf1f5"/>
<rect x="595.54" y="346.66" width="10.75" height="9" fill="#fbe4d6"/>
<rect x="606.27" y="346.66" width="5.39" height="9" fill="#f7f7f7"/>
<rect x="611.63" y="346.66" width="5.39" height="9" fill="#fbe4d6"/>
<rect x="16" y="355.64" width="5.39" height="9" fill="#eaf1f5"/>
<rect x="21.37" y="355.64" width="5.39" height="9" fill="#f7f7f7"/>
<rect x="26.73" y="355.64" width="5.39" height="9" fill="#eaf1f5"/>
<rect x="32.1" y="355.64" width="5.39" height="9" fill="#f9ede6"/>
<rect x="37.46" y="355.64" width="5.39" height="9" fill="#eaf1f5"/>
<rect x="42.83" y="355.64" width="5.39" height="9" fill="#f9ede6"/>
<rect x="48.2" y="355.64" width="10.75" height="9" fill="#eaf1f5"/>
<rect x="58.93" y="355.64" width="16.12" height="9" fill="#f7f7f7"/>
<rect x="75.03" y="355.64" width="10.75" height="9" fill="#f9ede6"/>
<rect x="85.76" y="355.64" width="5.39" height="9" fill="#f6b394"/>
<rect x="91.12" y="355.64" width="5.39" height="9" fill="#ea8f71"/>
<rect x="96.49" y="355.64" width="5.39" height="9" fill="#eaf1f5"/>
<rect x="101.86" y="355.64" width="10.75" height="9" fill="#f9ede6"/>
<rect x="112.59" y="355.64" width="5.39" height="9" fill="#ddeaf2"/>
<rect x="117.96" y="355.64" width="5.39" height="9" fill="#fbe4d6"/>
<rect x="123.32" y="355.64" width="5.39" height="9" fill="#ddeaf2"/>
<rect x="128.69" y="355.64" width="5.39" height="9" fill="#f9ede6"/>
<rect x="134.05" y="355.64" width="5.39" height="9" fill="#eaf1f5"/>
<rect x="139.42" y="355.64" width="10.75" height="9" fill="#ddeaf2"/>
<rect x="150.15" y="355.64" width="5.39" height="9" fill="#fbe4d6"/>
<rect x="155.52" y="355.64" width="5.39" height="9" fill="#eaf1f5"/>
<rect x="160.88" y="355.64" width="5.39" height="9" fill="#ddeaf2"/>
<rect x="166.25" y="355.64" width="10.75" height="9" fill="#eaf1f5"/>
<rect x="176.98" y="355.64" width="5.39" height="9" fill="#f9ede6"/>
<rect x="182.35" y="355.64" width="10.75" height="9" fill="#eaf1f5"/>
<rect x="193.08" y="355.64" width="5.39" height="9" fill="#f6b394"/>
<rect x="198.45" y="355.64" width="5.39" height="9" fill="#f9ede6"/>
<rect x="203.81" y="355.64" width="5.39" height="9" fill="#c53d3d"/>
<rect x="209.18" y="355.64" width="10.75" height="9" fill="#f7f7f7"/>
<rect x="219.91" y="355.64" width="5.39" height="9" fill="#fbccb4"/>
<rect x="225.28" y="355.64" width="5.39" height="9" fill="#eaf1f5"/>
<rect x="230.64" y="355.64" width="5.39" height="9" fill="#ddeaf2"/>
<rect x="236.01" y="355.64" width="5.39" height="9" fill="#f7f7f7"/>
<rect x="241.38" y="355.64" width="5.39" height="9" fill="#f9ede6"/>
<rect x="246.74" y="355.64" width="10.75" height="9" fill="#eaf1f5"/>
<rect x="257.47" y="355.64" width="10.75" height="9" fill="#f9ede6"/>
<rect x="268.21" y="355.64" width="5.39" height="9" fill="#eaf1f5"/>
<rect x="273.57" y="355.64" width="5.39" height="9" fill="#f7f7f7"/>
<rect x="278.94" y="355.64" width="5.39" height="9" fill="#f9ede6"/>
<rect x="284.3" y="355.64" width="5.39" height="9" fill="#eaf1f5"/>
<rect x="289.67" y="355.64" width="10.75" height="9" fill="#f7f7f7"/>
<rect x="300.4" y="355.64" width="16.12" height="9" fill="#fbe4d6"/>
<rect x="316.5" y="355.64" width="5.39" height="9" fill="#fbccb4"/>
<rect x="321.87" y="355.64" width="10.75" height="9" fill="#eaf1f5"/>
<rect x="332.6" y="355.64" width="5.39" height="9" fill="#ea8f71"/>
<rect x="337.96" y="355.64" width="5.39" height="9" fill="#f9ede6"/>
<rect x="343.33" y="355.64" width="5.39" height="9" fill="#eaf1f5"/>
<rect x="348.7" y="355.64" width="10.75" height="9" fill="#fbe4d6"/>
<rect x="359.43" y="355.64" width="5.39" height="9" fill="#f7f7f7"/>
<rect x="364.79" y="355.64" width="5.39" height="9" fill="#ea8f71"/>
<rect x="370.16" y="355.64" width="10.75" height="9" fill="#eaf1f5"/>
<rect x="380.89" y="355.64" width="5.39" height="9" fill="#fbe4d6"/>
<rect x="386.26" y="355.64" width="5.39" height="9" fill="#f9ede6"/>
<rect x="391.62" y="355.64" width="5.39" height="9" fill="#fbccb4"/>
<rect x="396.99" y="355.64" width="5.39" height="9" fill="#f7f7f7"/>
<rect x="402.36" y="355.64" width="5.39" height="9" fill="#f9ede6"/>
<rect x="407.72" y="355.64" width="5.39" height="9" fill="#f7f7f7"/>
<rect x="413.09" y="355.64" width="5.39" height="9" fill="#eaf1f5"/>
<rect x="418.46" y="355.64" width="5.39" height="9" fill="#ea8f71"/>
<rect x="423.82" y="355.64" width="10.75" height="9" fill="#f9ede6"/>
<rect x="434.55" y="355.64" width="5.39" height="9" fill="#f7f7f7"/>
<rect x="439.92" y="355.64" width="10.75" height="9" fill="#f9ede6"/>
<rect x="450.65" y="355.64" width="5.39" height="9" fill="#eaf1f5"/>
<rect x="456.02" y="355.64" width="5.39" height="9" fill="#fbe4d6"/>
<rect x="461.38" y="355.64" width="5.39" height="9" fill="#f9ede6"/>
<rect x="466.75" y="355.64" width="5.39" height="9" fill="#eaf1f5"/>
<rect x="472.12" y="355.64" width="5.39" height="9" fill="#f7f7f7"/>
<rect x="477.48" y="355.64" width="10.75" height="9" fill="#eaf1f5"/>
<rect x="488.21" y="355.64" width="5.39" height="9" fill="#ddeaf2"/>
<rect x="493.58" y="355.64" width="5.39" height="9" fill="#eaf1f5"/>
<rect x="498.95" y="355.64" width="5.39" height="9" fill="#fbe4d6"/>
<rect x="504.31" y="355.64" width="5.39" height="9" fill="#f7f7f7"/>
<rect x="509.68" y="355.64" width="5.39" height="9" fill="#fbe4d6"/>
<rect x="515.04" y="355.64" width="5.39" height="9" fill="#f7f7f7"/>
<rect x="520.41" y="355.64" width="5.39" height="9" fill="#fbccb4"/>
<rect x="525.78" y="355.64" width="5.39" height="9" fill="#eaf1f5"/>
<rect x="531.14" y="355.64" width="5.39" height="9" fill="#fbe4d6"/>
<rect x="536.51" y="355.64" width="16.12" height="9" fill="#f7f7f7"/>
<rect x="552.61" y="355.64" width="5.39" height="9" fill="#eaf1f5"/>
<rect x="557.97" y="355.64" width="10.75" height="9" fill="#f7f7f7"/>
<rect x="568.71" y="355.64" width="10.75" height="9" fill="#eaf1f5"/>
<rect x="579.44" y="355.64" width="5.39" height="9" fill="#fbe4d6"/>
<rect x="584.8" y="355.64" width="5.39" height="9" fill="#ddeaf2"/>
<rect x="590.17" y="355.64" width="5.39" height="9" fill="#fbccb4"/>
<rect x="595.54" y="355.64" width="5.39" height="9" fill="#f7f7f7"/>
<rect x="600.9" y="355.64" width="5.39" height="9" fill="#f9ede6"/>
<rect x="606.27" y="355.64" width="5.39" height="9" fill="#eaf1f5"/>
<rect x="611.63" y="355.64" width="5.39" height="9" fill="#fbe4d6"/>
<rect x="16" y="364.62" width="5.39" height="9" fill="#eaf1f5"/>
<rect x="21.37" y="364.62" width="5.39" height="9" fill="#f7f7f7"/>
<rect x="26.73" y="364.62" width="5.39" height="9" fill="#eaf1f5"/>
<rect x="32.1" y="364.62" width="5.39" height="9" fill="#f9ede6"/>
<rect x="37.46" y="364.62" width="5.39" height="9" fill="#f7f7f7"/>
<rect x="42.83" y="364.62" width="5.39" height="9" fill="#f9ede6"/>
<rect x="48.2" y="364.62" width="5.39" height="9" fill="#eaf1f5"/>
<rect x="53.56" y="364.62" width="5.39" height="9" fill="#f7f7f7"/>
<rect x="58.93" y="364.62" width="10.75" height="9" fill="#eaf1f5"/>
<rect x="69.66" y="364.62" width="5.39" height="9" fill="#f7f7f7"/>
<rect x="75.03" y="364.62" width="5.39" height="9" fill="#f9ede6"/>
<rect x="80.39" y="364.62" width="5.39" height="9" fill="#eaf1f5"/>
<rect x="85.76" y="364.62" width="5.39" height="9" fill="#fbe4d6"/>
<rect x="91.12" y="364.62" width="5.39" height="9" fill="#c53d3d"/>
<rect x="96.49" y="364.62" width="5.39" height="9" fill="#f7f7f7"/>
<rect x="101.86" y="364.62" width="10.75" height="9" fill="#f9ede6"/>
<rect x="112.59" y="364.62" width="5.39" height="9" fill="#ddeaf2"/>
<rect x="117.96" y="364.62" width="5.39" height="9" fill="#fbe4d6"/>
<rect x="123.32" y="364.62" width="5.39" height="9" fill="#ddeaf2"/>
<rect x="128.69" y="364.62" width="5.39" height="9" fill="#f9ede6"/>
<rect x="134.05" y="364.62" width="16.12" height="9" fill="#ddeaf2"/>
<rect x="150.15" y="364.62" width="5.39" height="9" fill="#fbccb4"/>
<rect x="155.52" y="364.62" width="5.39" height="9" fill="#eaf1f5"/>
<rect x="160.88" y="364.62" width="5.39" height="9" fill="#ddeaf2"/>
<rect x="166.25" y="364.62" width="10.75" height="9" fill="#eaf1f5"/>
<rect x="176.98" y="364.62" width="5.39" height="9" fill="#fbe4d6"/>
<rect x="182.35" y="364.62" width="5.39" height="9" fill="#f7f7f7"/>
<rect x="187.71" y="364.62" width="5.39" height="9" fill="#eaf1f5"/>
<rect x="193.08" y="364.62" width="5.39" height="9" fill="#fbe4d6"/>
<rect x="198.45" y="364.62" width="5.39" height="9" fill="#fbccb4"/>
<rect x="203.81" y="364.62" width="5.39" height="9" fill="#f6b394"/>
<rect x="209.18" y="364.62" width="5.39" height="9" fill="#eaf1f5"/>
<rect x="214.54" y="364.62" width="5.39" height="9" fill="#f9ede6"/>
<rect x="219.91" y="364.62" width="5.39" height="9" fill="#f6b394"/>
<rect x="225.28" y="364.62" width="16.12" height="9" fill="#eaf1f5"/>
<rect x="241.38" y="364.62" width="5.39" height="9" fill="#f7f7f7"/>
<rect x="246.74" y="364.62" width="10.75" height="9" fill="#eaf1f5"/>
<rect x="257.47" y="364.62" width="5.39" height="9" fill="#f9ede6"/>
<rect x="262.84" y="364.62" width="5.39" height="9" fill="#f7f7f7"/>
<rect x="268.21" y="364.62" width="5.39" height="9" fill="#eaf1f5"/>
<rect x="273.57" y="364.62" width="10.75" height="9" fill="#f7f7f7"/>
<rect x="284.3" y="364.62" width="5.39" height="9" fill="#eaf1f5"/>
<rect x="289.67" y="364.62" width="10.75" height="9" fill="#f7f7f7"/>
<rect x="300.4" y="364.62" width="10.75" height="9" fill="#f9ede6"/>
<rect x="311.13" y="364.62" width="5.39" height="9" fill="#fbe4d6"/>
<rect x="316.5" y="364.62" width="5.39" height="9" fill="#f9ede6"/>
<rect x="321.87" y="364.62" width="10.75" height="9" fill="#eaf1f5"/>
<rect x="332.6" y="364.62" width="5.39" height="9" fill="#fbe4d6"/>
<rect x="337.96" y="364.62" width="5.39" height="9" fill="#f9ede6"/>
<rect x="343.33" y="364.62" width="5.39" height="9" fill="#eaf1f5"/>
<rect x="348.7" y="364.62" width="5.39" height="9" fill="#f9ede6"/>
<rect x="354.06" y="364.62" width="5.39" height="9" fill="#fbe4d6"/>
<rect x="359.43" y="364.62" width="5.39" height="9" fill="#eaf1f5"/>
<rect x="364.79" y="364.62" width="5.39" height="9" fill="#fbccb4"/>
<rect x="370.16" y="364.62" width="5.39" height="9" fill="#f9ede6"/>
<rect x="375.53" y="364.62" width="10.75" height="9" fill="#eaf1f5"/>
<rect x="386.26" y="364.62" width="10.75" height="9" fill="#f9ede6"/>
<rect x="396.99" y="364.62" width="5.39" height="9" fill="#f7f7f7"/>
<rect x="402.36" y="364.62" width="10.75" height="9" fill="#f9ede6"/>
<rect x="413.09" y="364.62" width="5.39" height="9" fill="#eaf1f5"/>
<rect x="418.46" y="364.62" width="5.39" height="9" fill="#f6b394"/>
<rect x="423.82" y="364.62" width="5.39" height="9" fill="#f9ede6"/>
<rect x="429.19" y="364.62" width="10.75" height="9" fill="#f7f7f7"/>
<rect x="439.92" y="364.62" width="5.39" height="9" fill="#f9ede6"/>
<rect x="445.29" y="364.62" width="5.39" height="9" fill="#fbe4d6"/>
<rect x="450.65" y="364.62" width="5.39" height="9" fill="#f7f7f7"/>
<rect x="456.02" y="364.62" width="5.39" height="9" fill="#fbe4d6"/>
<rect x="461.38" y="364.62" width="5.39" height="9" fill="#f7f7f7"/>
<rect x="466.75" y="364.62" width="5.39" height="9" fill="#ddeaf2"/>
<rect x="472.12" y="364.62" width="5.39" height="9" fill="#f7f7f7"/>
<rect x="477.48" y="364.62" width="5.39" height="9" fill="#eaf1f5"/>
<rect x="482.85" y="364.62" width="5.39" height="9" fill="#f7f7f7"/>
<rect x="488.21" y="364.62" width="5.39" height="9" fill="#ddeaf2"/>
<rect x="493.58" y="364.62" width="10.75" height="9" fill="#eaf1f5"/>
<rect x="504.31" y="364.62" width="5.39" height="9" fill="#f7f7f7"/>
<rect x="509.68" y="364.62" width="5.39" height="9" fill="#fbe4d6"/>
<rect x="515.04" y="364.62" width="5.39" height="9" fill="#eaf1f5"/>
<rect x="520.41" y="364.62" width="5.39" height="9" fill="#fbe4d6"/>
<rect x="525.78" y="364.62" width="5.39" height="9" fill="#ddeaf2"/>
<rect x="531.14" y="364.62" width="5.39" height="9" fill="#fbe4d6"/>
<rect x="536.51" y="364.62" width="10.75" height="9" fill="#f7f7f7"/>
<rect x="547.24" y="364.62" width="10.75" height="9" fill="#eaf1f5"/>
<rect x="557.97" y="364.62" width="5.39" height="9" fill="#f7f7f7"/>
<rect x="563.34" y="364.62" width="5.39" height="9" fill="#eaf1f5"/>
<rect x="568.71" y="364.62" width="5.39" height="9" fill="#f7f7f7"/>
<rect x="574.07" y="364.62" width="5.39" height="9" fill="#eaf1f5"/>
<rect x="579.44" y="364.62" width="5.39" height="9" fill="#fbe4d6"/>
<rect x="584.8" y="364.62" width="10.75" height="9" fill="#ddeaf2"/>
<rect x="595.54" y="364.62" width="5.39" height="9" fill="#f7f7f7"/>
<rect x="600.9" y="364.62" width="5.39" height="9" fill="#eaf1f5"/>
<rect x="606.27" y="364.62" width="5.39" height="9" fill="#ddeaf2"/>
<rect x="611.63" y="364.62" width="5.39" height="9" fill="#f9ede6"/>
<rect x="16" y="373.6" width="26.85" height="9" fill="#eaf1f5"/>
<rect x="42.83" y="373.6" width="5.39" height="9" fill="#f7f7f7"/>
<rect x="48.2" y="373.6" width="10.75" height="9" fill="#eaf1f5"/>
<rect x="58.93" y="373.6" width="5.39" height="9" fill="#f9ede6"/>
<rect x="64.29" y="373.6" width="5.39" height="9" fill="#eaf1f5"/>
<rect x="69.66" y="373.6" width="10.75" height="9" fill="#fbe4d6"/>
<rect x="80.39" y="373.6" width="5.39" height="9" fill="#eaf1f5"/>
<rect x="85.76" y="373.6" width="5.39" height="9" fill="#f9ede6"/>
<rect x="91.12" y="373.6" width="5.39" height="9" fill="#eaf1f5"/>
<rect x="96.49" y="373.6" width="5.39" height="9" fill="#ddeaf2"/>
<rect x="101.86" y="373.6" width="5.39" height="9" fill="#fbe4d6"/>
<rect x="107.22" y="373.6" width="5.39" height="9" fill="#f9ede6"/>
<rect x="112.59" y="373.6" width="16.12" height="9" fill="#c7e0ed"/>
<rect x="128.69" y="373.6" width="5.39" height="9" fill="#f9ede6"/>
<rect x="134.05" y="373.6" width="10.75" height="9" fill="#ddeaf2"/>
<rect x="144.79" y="373.6" width="5.39" height="9" fill="#c7e0ed"/>
<rect x="150.15" y="373.6" width="5.39" height="9" fill="#ddeaf2"/>
<rect x="155.52" y="373.6" width="10.75" height="9" fill="#eaf1f5"/>
<rect x="166.25" y="373.6" width="5.39" height="9" fill="#ddeaf2"/>
<rect x="171.62" y="373.6" width="32.22" height="9" fill="#eaf1f5"/>
<rect x="203.81" y="373.6" width="5.39" height="9" fill="#f9ede6"/>
<rect x="209.18" y="373.6" width="16.12" height="9" fill="#eaf1f5"/>
<rect x="225.28" y="373.6" width="10.75" height="9" fill="#ddeaf2"/>
<rect x="236.01" y="373.6" width="5.39" height="9" fill="#f7f7f7"/>
<rect x="241.38" y="373.6" width="16.12" height="9" fill="#eaf1f5"/>
<rect x="257.47" y="373.6" width="10.75" height="9" fill="#f7f7f7"/>
<rect x="268.21" y="373.6" width="10.75" height="9" fill="#eaf1f5"/>
<rect x="278.94" y="373.6" width="5.39" height="9" fill="#f7f7f7"/>
<rect x="284.3" y="373.6" width="21.48" height="9" fill="#eaf1f5"/>
<rect x="305.77" y="373.6" width="5.39" height="9" fill="#f7f7f7"/>
<rect x="311.13" y="373.6" width="5.39" height="9" fill="#eaf1f5"/>
<rect x="316.5" y="373.6" width="21.48" height="9" fill="#ddeaf2"/>
<rect x="337.96" y="373.6" width="5.39" height="9" fill="#eaf1f5"/>
<rect x="343.33" y="373.6" width="10.75" height="9" fill="#ddeaf2"/>
<rect x="354.06" y="373.6" width="10.75" height="9" fill="#eaf1f5"/>
<rect x="364.79" y="373.6" width="5.39" height="9" fill="#f7f7f7"/>
<rect x="370.16" y="373.6" width="26.85" height="9" fill="#ddeaf2"/>
<rect x="396.99" y="373.6" width="5.39" height="9" fill="#eaf1f5"/>
<rect x="402.36" y="373.6" width="10.75" height="9" fill="#ddeaf2"/>
<rect x="413.09" y="373.6" width="5.39" height="9" fill="#eaf1f5"/>
<rect x="418.46" y="373.6" width="5.39" height="9" fill="#f7f7f7"/>
<rect x="423.82" y="373.6" width="32.22" height="9" fill="#ddeaf2"/>
<rect x="456.02" y="373.6" width="5.39" height="9" fill="#eaf1f5"/>
<rect x="461.38" y="373.6" width="21.48" height="9" fill="#ddeaf2"/>
<rect x="482.85" y="373.6" width="10.75" height="9" fill="#c7e0ed"/>
<rect x="493.58" y="373.6" width="5.39" height="9" fill="#eaf1f5"/>
<rect x="498.95" y="373.6" width="5.39" height="9" fill="#fbe4d6"/>
<rect x="504.31" y="373.6" width="5.39" height="9" fill="#eaf1f5"/>
<rect x="509.68" y="373.6" width="5.39" height="9" fill="#fbe4d6"/>
<rect x="515.04" y="373.6" width="5.39" height="9" fill="#f7f7f7"/>
<rect x="520.41" y="373.6" width="5.39" height="9" fill="#fbe4d6"/>
<rect x="525.78" y="373.6" width="5.39" height="9" fill="#f9ede6"/>
<rect x="531.14" y="373.6" width="10.75" height="9" fill="#fbe4d6"/>
<rect x="541.88" y="373.6" width="5.39" height="9" fill="#eaf1f5"/>
<rect x="547.24" y="373.6" width="5.39" height="9" fill="#c7e0ed"/>
<rect x="552.61" y="373.6" width="10.75" height="9" fill="#ddeaf2"/>
<rect x="563.34" y="373.6" width="5.39" height="9" fill="#c7e0ed"/>
<rect x="568.71" y="373.6" width="10.75" height="9" fill="#ddeaf2"/>
<rect x="579.44" y="373.6" width="10.75" height="9" fill="#f9ede6"/>
<rect x="590.17" y="373.6" width="5.39" height="9" fill="#fbe4d6"/>
<rect x="595.54" y="373.6" width="5.39" height="9" fill="#f9ede6"/>
<rect x="600.9" y="373.6" width="5.39" height="9" fill="#fbe4d6"/>
<rect x="606.27" y="373.6" width="5.39" height="9" fill="#ddeaf2"/>
<rect x="611.63" y="373.6" width="5.39" height="9" fill="#fbe4d6"/>
<rect x="16" y="382.58" width="10.75" height="9" fill="#f7f7f7"/>
<rect x="26.73" y="382.58" width="10.75" height="9" fill="#eaf1f5"/>
<rect x="37.46" y="382.58" width="5.39" height="9" fill="#f7f7f7"/>
<rect x="42.83" y="382.58" width="16.12" height="9" fill="#eaf1f5"/>
<rect x="58.93" y="382.58" width="10.75" height="9" fill="#f7f7f7"/>
<rect x="69.66" y="382.58" width="10.75" height="9" fill="#fbe4d6"/>
<rect x="80.39" y="382.58" width="5.39" height="9" fill="#eaf1f5"/>
<rect x="85.76" y="382.58" width="5.39" height="9" fill="#fbe4d6"/>
<rect x="91.12" y="382.58" width="10.75" height="9" fill="#ddeaf2"/>
<rect x="101.86" y="382.58" width="5.39" height="9" fill="#fbe4d6"/>
<rect x="107.22" y="382.58" width="5.39" height="9" fill="#f9ede6"/>
<rect x="112.59" y="382.58" width="10.75" height="9" fill="#ddeaf2"/>
<rect x="123.32" y="382.58" width="5.39" height="9" fill="#f7f7f7"/>
<rect x="128.69" y="382.58" width="5.39" height="9" fill="#f9ede6"/>
<rect x="134.05" y="382.58" width="10.75" height="9" fill="#ddeaf2"/>
<rect x="144.79" y="382.58" width="5.39" height="9" fill="#c7e0ed"/>
<rect x="150.15" y="382.58" width="16.12" height="9" fill="#ddeaf2"/>
<rect x="166.25" y="382.58" width="5.39" height="9" fill="#eaf1f5"/>
<rect x="171.62" y="382.58" width="21.48" height="9" fill="#ddeaf2"/>
<rect x="193.08" y="382.58" width="32.22" height="9" fill="#eaf1f5"/>
<rect x="225.28" y="382.58" width="5.39" height="9" fill="#f7f7f7"/>
<rect x="230.64" y="382.58" width="5.39" height="9" fill="#eaf1f5"/>
<rect x="236.01" y="382.58" width="5.39" height="9" fill="#ddeaf2"/>
<rect x="241.38" y="382.58" width="5.39" height="9" fill="#f7f7f7"/>
<rect x="246.74" y="382.58" width="5.39" height="9" fill="#ddeaf2"/>
<rect x="252.11" y="382.58" width="5.39" height="9" fill="#eaf1f5"/>
<rect x="257.47" y="382.58" width="10.75" height="9" fill="#f7f7f7"/>
<rect x="268.21" y="382.58" width="16.12" height="9" fill="#eaf1f5"/>
<rect x="284.3" y="382.58" width="5.39" height="9" fill="#ddeaf2"/>
<rect x="289.67" y="382.58" width="10.75" height="9" fill="#eaf1f5"/>
<rect x="300.4" y="382.58" width="16.12" height="9" fill="#f7f7f7"/>
<rect x="316.5" y="382.58" width="5.39" height="9" fill="#eaf1f5"/>
<rect x="321.87" y="382.58" width="16.12" height="9" fill="#ddeaf2"/>
<rect x="337.96" y="382.58" width="5.39" height="9" fill="#eaf1f5"/>
<rect x="343.33" y="382.58" width="16.12" height="9" fill="#ddeaf2"/>
<rect x="359.43" y="382.58" width="5.39" height="9" fill="#eaf1f5"/>
<rect x="364.79" y="382.58" width="21.48" height="9" fill="#ddeaf2"/>
<rect x="386.26" y="382.58" width="5.39" height="9" fill="#eaf1f5"/>
<rect x="391.62" y="382.58" width="21.48" height="9" fill="#ddeaf2"/>
<rect x="413.09" y="382.58" width="5.39" height="9" fill="#eaf1f5"/>
<rect x="418.46" y="382.58" width="5.39" height="9" fill="#f7f7f7"/>
<rect x="423.82" y="382.58" width="32.22" height="9" fill="#ddeaf2"/>
<rect x="456.02" y="382.58" width="5.39" height="9" fill="#eaf1f5"/>
<rect x="461.38" y="382.58" width="32.22" height="9" fill="#ddeaf2"/>
<rect x="493.58" y="382.58" width="5.39" height="9" fill="#f7f7f7"/>
<rect x="498.95" y="382.58" width="5.39" height="9" fill="#fbe4d6"/>
<rect x="504.31" y="382.58" width="21.48" height="9" fill="#f9ede6"/>
<rect x="525.78" y="382.58" width="16.12" height="9" fill="#fbe4d6"/>
<rect x="541.88" y="382.58" width="5.39" height="9" fill="#eaf1f5"/>
<rect x="547.24" y="382.58" width="5.39" height="9" fill="#c7e0ed"/>
<rect x="552.61" y="382.58" width="5.39" height="9" fill="#eaf1f5"/>
<rect x="557.97" y="382.58" width="21.48" height="9" fill="#ddeaf2"/>
<rect x="579.44" y="382.58" width="21.48" height="9" fill="#fbe4d6"/>
<rect x="600.9" y="382.58" width="16.12" height="9" fill="#f9ede6"/>
<rect x="16" y="391.56" width="5.39" height="9" fill="#eaf1f5"/>
<rect x="21.37" y="391.56" width="5.39" height="9" fill="#f9ede6"/>
<rect x="26.73" y="391.56" width="5.39" height="9" fill="#eaf1f5"/>
<rect x="32.1" y="391.56" width="5.39" height="9" fill="#f9ede6"/>
<rect x="37.46" y="391.56" width="5.39" height="9" fill="#f7f7f7"/>
<rect x="42.83" y="391.56" width="5.39" height="9" fill="#f9ede6"/>
<rect x="48.2" y="391.56" width="5.39" height="9" fill="#eaf1f5"/>
<rect x="53.56" y="391.56" width="5.39" height="9" fill="#f7f7f7"/>
<rect x="58.93" y="391.56" width="5.39" height="9" fill="#f9ede6"/>
<rect x="64.29" y="391.56" width="5.39" height="9" fill="#eaf1f5"/>
<rect x="69.66" y="391.56" width="5.39" height="9" fill="#f9ede6"/>
<rect x="75.03" y="391.56" width="5.39" height="9" fill="#f7f7f7"/>
<rect x="80.39" y="391.56" width="10.75" height="9" fill="#f9ede6"/>
<rect x="91.12" y="391.56" width="5.39" height="9" fill="#c53d3d"/>
<rect x="96.49" y="391.56" width="5.39" height="9" fill="#fbe4d6"/>
<rect x="101.86" y="391.56" width="5.39" height="9" fill="#f9ede6"/>
<rect x="107.22" y="391.56" width="5.39" height="9" fill="#f7f7f7"/>
<rect x="112.59" y="391.56" width="5.39" height="9" fill="#ddeaf2"/>
<rect x="117.96" y="391.56" width="5.39" height="9" fill="#fbccb4"/>
<rect x="123.32" y="391.56" width="10.75" height="9" fill="#f9ede6"/>
<rect x="134.05" y="391.56" width="5.39" height="9" fill="#eaf1f5"/>
<rect x="139.42" y="391.56" width="5.39" height="9" fill="#f7f7f7"/>
<rect x="144.79" y="391.56" width="5.39" height="9" fill="#ddeaf2"/>
<rect x="150.15" y="391.56" width="5.39" height="9" fill="#f9ede6"/>
<rect x="155.52" y="391.56" width="5.39" height="9" fill="#f7f7f7"/>
<rect x="160.88" y="391.56" width="5.39" height="9" fill="#eaf1f5"/>
<rect x="166.25" y="391.56" width="10.75" height="9" fill="#f7f7f7"/>
<rect x="176.98" y="391.56" width="5.39" height="9" fill="#fbccb4"/>
<rect x="182.35" y="391.56" width="10.75" height="9" fill="#f7f7f7"/>
<rect x="193.08" y="391.56" width="5.39" height="9" fill="#ea8f71"/>
<rect x="198.45" y="391.56" width="5.39" height="9" fill="#f6b394"/>
<rect x="203.81" y="391.56" width="5.39" height="9" fill="#fbe4d6"/>
<rect x="209.18" y="391.56" width="5.39" height="9" fill="#eaf1f5"/>
<rect x="214.54" y="391.56" width="5.39" height="9" fill="#fbccb4"/>
<rect x="219.91" y="391.56" width="5.39" height="9" fill="#ea8f71"/>
<rect x="225.28" y="391.56" width="10.75" height="9" fill="#f7f7f7"/>
<rect x="236.01" y="391.56" width="5.39" height="9" fill="#eaf1f5"/>
<rect x="241.38" y="391.56" width="5.39" height="9" fill="#f9ede6"/>
<rect x="246.74" y="391.56" width="10.75" height="9" fill="#f7f7f7"/>
<rect x="257.47" y="391.56" width="10.75" height="9" fill="#f9ede6"/>
<rect x="268.21" y="391.56" width="5.39" height="9" fill="#f7f7f7"/>
<rect x="273.57" y="391.56" width="10.75" height="9" fill="#f9ede6"/>
<rect x="284.3" y="391.56" width="5.39" height="9" fill="#f7f7f7"/>
<rect x="289.67" y="391.56" width="5.39" height="9" fill="#f9ede6"/>
<rect x="295.04" y="391.56" width="5.39" height="9" fill="#f7f7f7"/>
<rect x="300.4" y="391.56" width="21.48" height="9" fill="#fbe4d6"/>
<rect x="321.87" y="391.56" width="5.39" height="9" fill="#f7f7f7"/>
<rect x="327.23" y="391.56" width="5.39" height="9" fill="#eaf1f5"/>
<rect x="332.6" y="391.56" width="5.39" height="9" fill="#fbe4d6"/>
<rect x="337.96" y="391.56" width="5.39" height="9" fill="#f9ede6"/>
<rect x="343.33" y="391.56" width="5.39" height="9" fill="#eaf1f5"/>
<rect x="348.7" y="391.56" width="5.39" height="9" fill="#f9ede6"/>
<rect x="354.06" y="391.56" width="5.39" height="9" fill="#fbe4d6"/>
<rect x="359.43" y="391.56" width="5.39" height="9" fill="#f9ede6"/>
<rect x="364.79" y="391.56" width="5.39" height="9" fill="#fbccb4"/>
<rect x="370.16" y="391.56" width="5.39" height="9" fill="#fbe4d6"/>
<rect x="375.53" y="391.56" width="5.39" height="9" fill="#f7f7f7"/>
<rect x="380.89" y="391.56" width="16.12" height="9" fill="#fbe4d6"/>
<rect x="396.99" y="391.56" width="16.12" height="9" fill="#f9ede6"/>
<rect x="413.09" y="391.56" width="5.39" height="9" fill="#f7f7f7"/>
<rect x="418.46" y="391.56" width="5.39" height="9" fill="#f6b394"/>
<rect x="423.82" y="391.56" width="5.39" height="9" fill="#f9ede6"/>
<rect x="429.19" y="391.56" width="5.39" height="9" fill="#fbe4d6"/>
<rect x="434.55" y="391.56" width="21.48" height="9" fill="#f9ede6"/>
<rect x="456.02" y="391.56" width="5.39" height="9" fill="#fbe4d6"/>
<rect x="461.38" y="391.56" width="5.39" height="9" fill="#f9ede6"/>
<rect x="466.75" y="391.56" width="21.48" height="9" fill="#f7f7f7"/>
<rect x="488.21" y="391.56" width="10.75" height="9" fill="#f9ede6"/>
<rect x="498.95" y="391.56" width="5.39" height="9" fill="#eaf1f5"/>
<rect x="504.31" y="391.56" width="26.85" height="9" fill="#fbe4d6"/>
<rect x="531.14" y="391.56" width="5.39" height="9" fill="#fbccb4"/>
<rect x="536.51" y="391.56" width="5.39" height="9" fill="#fbe4d6"/>
<rect x="541.88" y="391.56" width="5.39" height="9" fill="#f9ede6"/>
<rect x="547.24" y="391.56" width="10.75" height="9" fill="#f7f7f7"/>
<rect x="557.97" y="391.56" width="5.39" height="9" fill="#f9ede6"/>
<rect x="563.34" y="391.56" width="5.39" height="9" fill="#f7f7f7"/>
<rect x="568.71" y="391.56" width="5.39" height="9" fill="#eaf1f5"/>
<rect x="574.07" y="391.56" width="5.39" height="9" fill="#f9ede6"/>
<rect x="579.44" y="391.56" width="5.39" height="9" fill="#fbe4d6"/>
<rect x="584.8" y="391.56" width="5.39" height="9" fill="#eaf1f5"/>
<rect x="590.17" y="391.56" width="5.39" height="9" fill="#fbe4d6"/>
<rect x="595.54" y="391.56" width="5.39" height="9" fill="#f9ede6"/>
<rect x="600.9" y="391.56" width="5.39" height="9" fill="#fbe4d6"/>
<rect x="606.27" y="391.56" width="5.39" height="9" fill="#f7f7f7"/>
<rect x="611.63" y="391.56" width="5.39" height="9" fill="#fbe4d6"/>
<rect x="16" y="400.54" width="16.12" height="9" fill="#eaf1f5"/>
<rect x="32.1" y="400.54" width="5.39" height="9" fill="#ddeaf2"/>
<rect x="37.46" y="400.54" width="5.39" height="9" fill="#eaf1f5"/>
<rect x="42.83" y="400.54" width="5.39" height="9" fill="#f9ede6"/>
<rect x="48.2" y="400.54" width="10.75" height="9" fill="#eaf1f5"/>
<rect x="58.93" y="400.54" width="5.39" height="9" fill="#f9ede6"/>
<rect x="64.29" y="400.54" width="5.39" height="9" fill="#eaf1f5"/>
<rect x="69.66" y="400.54" width="5.39" height="9" fill="#f9ede6"/>
<rect x="75.03" y="400.54" width="10.75" height="9" fill="#eaf1f5"/>
<rect x="85.76" y="400.54" width="5.39" height="9" fill="#f9ede6"/>
<rect x="91.12" y="400.54" width="5.39" height="9" fill="#ad172a"/>
<rect x="96.49" y="400.54" width="5.39" height="9" fill="#fbe4d6"/>
<rect x="101.86" y="400.54" width="5.39" height="9" fill="#f9ede6"/>
<rect x="107.22" y="400.54" width="5.39" height="9" fill="#f7f7f7"/>
<rect x="112.59" y="400.54" width="5.39" height="9" fill="#ddeaf2"/>
<rect x="117.96" y="400.54" width="5.39" height="9" fill="#f6b394"/>
<rect x="123.32" y="400.54" width="5.39" height="9" fill="#f7f7f7"/>
<rect x="128.69" y="400.54" width="5.39" height="9" fill="#f9ede6"/>
<rect x="134.05" y="400.54" width="5.39" height="9" fill="#eaf1f5"/>
<rect x="139.42" y="400.54" width="10.75" height="9" fill="#ddeaf2"/>
<rect x="150.15" y="400.54" width="5.39" height="9" fill="#f9ede6"/>
<rect x="155.52" y="400.54" width="5.39" height="9" fill="#f7f7f7"/>
<rect x="160.88" y="400.54" width="10.75" height="9" fill="#eaf1f5"/>
<rect x="171.62" y="400.54" width="5.39" height="9" fill="#f7f7f7"/>
<rect x="176.98" y="400.54" width="5.39" height="9" fill="#fbe4d6"/>
<rect x="182.35" y="400.54" width="5.39" height="9" fill="#f9ede6"/>
<rect x="187.71" y="400.54" width="5.39" height="9" fill="#f7f7f7"/>
<rect x="193.08" y="400.54" width="10.75" height="9" fill="#ea8f71"/>
<rect x="203.81" y="400.54" width="5.39" height="9" fill="#f6b394"/>
<rect x="209.18" y="400.54" width="5.39" height="9" fill="#f7f7f7"/>
<rect x="214.54" y="400.54" width="5.39" height="9" fill="#fbe4d6"/>
<rect x="219.91" y="400.54" width="5.39" height="9" fill="#ea8f71"/>
<rect x="225.28" y="400.54" width="16.12" height="9" fill="#f7f7f7"/>
<rect x="241.38" y="400.54" width="5.39" height="9" fill="#f9ede6"/>
<rect x="246.74" y="400.54" width="5.39" height="9" fill="#eaf1f5"/>
<rect x="252.11" y="400.54" width="5.39" height="9" fill="#f7f7f7"/>
<rect x="257.47" y="400.54" width="10.75" height="9" fill="#f9ede6"/>
<rect x="268.21" y="400.54" width="10.75" height="9" fill="#f7f7f7"/>
<rect x="278.94" y="400.54" width="5.39" height="9" fill="#f9ede6"/>
<rect x="284.3" y="400.54" width="16.12" height="9" fill="#f7f7f7"/>
<rect x="300.4" y="400.54" width="5.39" height="9" fill="#fbe4d6"/>
<rect x="305.77" y="400.54" width="5.39" height="9" fill="#f7f7f7"/>
<rect x="311.13" y="400.54" width="5.39" height="9" fill="#fbe4d6"/>
<rect x="316.5" y="400.54" width="5.39" height="9" fill="#f7f7f7"/>
<rect x="321.87" y="400.54" width="5.39" height="9" fill="#eaf1f5"/>
<rect x="327.23" y="400.54" width="5.39" height="9" fill="#ddeaf2"/>
<rect x="332.6" y="400.54" width="10.75" height="9" fill="#f9ede6"/>
<rect x="343.33" y="400.54" width="10.75" height="9" fill="#f7f7f7"/>
<rect x="354.06" y="400.54" width="5.39" height="9" fill="#fbccb4"/>
<rect x="359.43" y="400.54" width="5.39" height="9" fill="#f7f7f7"/>
<rect x="364.79" y="400.54" width="5.39" height="9" fill="#fbe4d6"/>
<rect x="370.16" y="400.54" width="5.39" height="9" fill="#f9ede6"/>
<rect x="375.53" y="400.54" width="16.12" height="9" fill="#f7f7f7"/>
<rect x="391.62" y="400.54" width="5.39" height="9" fill="#f9ede6"/>
<rect x="396.99" y="400.54" width="5.39" height="9" fill="#f7f7f7"/>
<rect x="402.36" y="400.54" width="5.39" height="9" fill="#f9ede6"/>
<rect x="407.72" y="400.54" width="5.39" height="9" fill="#fbe4d6"/>
<rect x="413.09" y="400.54" width="5.39" height="9" fill="#f7f7f7"/>
<rect x="418.46" y="400.54" width="5.39" height="9" fill="#f6b394"/>
<rect x="423.82" y="400.54" width="5.39" height="9" fill="#f9ede6"/>
<rect x="429.19" y="400.54" width="5.39" height="9" fill="#fbe4d6"/>
<rect x="434.55" y="400.54" width="5.39" height="9" fill="#f7f7f7"/>
<rect x="439.92" y="400.54" width="16.12" height="9" fill="#f9ede6"/>
<rect x="456.02" y="400.54" width="10.75" height="9" fill="#fbe4d6"/>
<rect x="466.75" y="400.54" width="5.39" height="9" fill="#eaf1f5"/>
<rect x="472.12" y="400.54" width="5.39" height="9" fill="#f9ede6"/>
<rect x="477.48" y="400.54" width="5.39" height="9" fill="#eaf1f5"/>
<rect x="482.85" y="400.54" width="5.39" height="9" fill="#f7f7f7"/>
<rect x="488.21" y="400.54" width="16.12" height="9" fill="#f9ede6"/>
<rect x="504.31" y="400.54" width="21.48" height="9" fill="#fbe4d6"/>
<rect x="525.78" y="400.54" width="5.39" height="9" fill="#f9ede6"/>
<rect x="531.14" y="400.54" width="10.75" height="9" fill="#fbe4d6"/>
<rect x="541.88" y="400.54" width="5.39" height="9" fill="#f7f7f7"/>
<rect x="547.24" y="400.54" width="16.12" height="9" fill="#eaf1f5"/>
<rect x="563.34" y="400.54" width="5.39" height="9" fill="#f7f7f7"/>
<rect x="568.71" y="400.54" width="5.39" height="9" fill="#eaf1f5"/>
<rect x="574.07" y="400.54" width="5.39" height="9" fill="#f7f7f7"/>
<rect x="579.44" y="400.54" width="5.39" height="9" fill="#fbe4d6"/>
<rect x="584.8" y="400.54" width="5.39" height="9" fill="#eaf1f5"/>
<rect x="590.17" y="400.54" width="16.12" height="9" fill="#fbe4d6"/>
<rect x="606.27" y="400.54" width="5.39" height="9" fill="#f7f7f7"/>
<rect x="611.63" y="400.54" width="5.39" height="9" fill="#fbe4d6"/>
<rect x="16" y="409.52" width="5.39" height="9" fill="#eaf1f5"/>
<rect x="21.37" y="409.52" width="5.39" height="9" fill="#f7f7f7"/>
<rect x="26.73" y="409.52" width="16.12" height="9" fill="#eaf1f5"/>
<rect x="42.83" y="409.52" width="5.39" height="9" fill="#f7f7f7"/>
<rect x="48.2" y="409.52" width="10.75" height="9" fill="#eaf1f5"/>
<rect x="58.93" y="409.52" width="21.48" height="9" fill="#f7f7f7"/>
<rect x="80.39" y="409.52" width="5.39" height="9" fill="#eaf1f5"/>
<rect x="85.76" y="409.52" width="5.39" height="9" fill="#fbe4d6"/>
<rect x="91.12" y="409.52" width="5.39" height="9" fill="#f9ede6"/>
<rect x="96.49" y="409.52" width="5.39" height="9" fill="#eaf1f5"/>
<rect x="101.86" y="409.52" width="5.39" height="9" fill="#f9ede6"/>
<rect x="107.22" y="409.52" width="5.39" height="9" fill="#f7f7f7"/>
<rect x="112.59" y="409.52" width="5.39" height="9" fill="#ddeaf2"/>
<rect x="117.96" y="409.52" width="5.39" height="9" fill="#f9ede6"/>
<rect x="123.32" y="409.52" width="5.39" height="9" fill="#eaf1f5"/>
<rect x="128.69" y="409.52" width="5.39" height="9" fill="#fbe4d6"/>
<rect x="134.05" y="409.52" width="10.75" height="9" fill="#eaf1f5"/>
<rect x="144.79" y="409.52" width="5.39" height="9" fill="#ddeaf2"/>
<rect x="150.15" y="409.52" width="5.39" height="9" fill="#eaf1f5"/>
<rect x="155.52" y="409.52" width="5.39" height="9" fill="#ddeaf2"/>
<rect x="160.88" y="409.52" width="10.75" height="9" fill="#eaf1f5"/>
<rect x="171.62" y="409.52" width="5.39" height="9" fill="#f7f7f7"/>
<rect x="176.98" y="409.52" width="16.12" height="9" fill="#eaf1f5"/>
<rect x="193.08" y="409.52" width="10.75" height="9" fill="#f9ede6"/>
<rect x="203.81" y="409.52" width="16.12" height="9" fill="#eaf1f5"/>
<rect x="219.91" y="409.52" width="5.39" height="9" fill="#fbe4d6"/>
<rect x="225.28" y="409.52" width="16.12" height="9" fill="#eaf1f5"/>
<rect x="241.38" y="409.52" width="5.39" height="9" fill="#f9ede6"/>
<rect x="246.74" y="409.52" width="5.39" height="9" fill="#eaf1f5"/>
<rect x="252.11" y="409.52" width="10.75" height="9" fill="#f9ede6"/>
<rect x="262.84" y="409.52" width="5.39" height="9" fill="#f7f7f7"/>
<rect x="268.21" y="409.52" width="5.39" height="9" fill="#eaf1f5"/>
<rect x="273.57" y="409.52" width="10.75" height="9" fill="#f7f7f7"/>
<rect x="284.3" y="409.52" width="5.39" height="9" fill="#eaf1f5"/>
<rect x="289.67" y="409.52" width="10.75" height="9" fill="#f7f7f7"/>
<rect x="300.4" y="409.52" width="10.75" height="9" fill="#f9ede6"/>
<rect x="311.13" y="409.52" width="5.39" height="9" fill="#fbe4d6"/>
<rect x="316.5" y="409.52" width="5.39" height="9" fill="#f9ede6"/>
<rect x="321.87" y="409.52" width="5.39" height="9" fill="#f7f7f7"/>
<rect x="327.23" y="409.52" width="5.39" height="9" fill="#eaf1f5"/>
<rect x="332.6" y="409.52" width="5.39" height="9" fill="#f7f7f7"/>
<rect x="337.96" y="409.52" width="5.39" height="9" fill="#eaf1f5"/>
<rect x="343.33" y="409.52" width="5.39" height="9" fill="#ddeaf2"/>
<rect x="348.7" y="409.52" width="5.39" height="9" fill="#f7f7f7"/>
<rect x="354.06" y="409.52" width="5.39" height="9" fill="#fbe4d6"/>
<rect x="359.43" y="409.52" width="5.39" height="9" fill="#f7f7f7"/>
<rect x="364.79" y="409.52" width="5.39" height="9" fill="#fbe4d6"/>
<rect x="370.16" y="409.52" width="5.39" height="9" fill="#f7f7f7"/>
<rect x="375.53" y="409.52" width="16.12" height="9" fill="#f9ede6"/>
<rect x="391.62" y="409.52" width="5.39" height="9" fill="#f7f7f7"/>
<rect x="396.99" y="409.52" width="16.12" height="9" fill="#eaf1f5"/>
<rect x="413.09" y="409.52" width="5.39" height="9" fill="#f9ede6"/>
<rect x="418.46" y="409.52" width="5.39" height="9" fill="#fbe4d6"/>
<rect x="423.82" y="409.52" width="10.75" height="9" fill="#f7f7f7"/>
<rect x="434.55" y="409.52" width="10.75" height="9" fill="#eaf1f5"/>
<rect x="445.29" y="409.52" width="5.39" height="9" fill="#f7f7f7"/>
<rect x="450.65" y="409.52" width="5.39" height="9" fill="#eaf1f5"/>
<rect x="456.02" y="409.52" width="5.39" height="9" fill="#f9ede6"/>
<rect x="461.38" y="409.52" width="5.39" height="9" fill="#eaf1f5"/>
<rect x="466.75" y="409.52" width="16.12" height="9" fill="#ddeaf2"/>
<rect x="482.85" y="409.52" width="16.12" height="9" fill="#eaf1f5"/>
<rect x="498.95" y="409.52" width="5.39" height="9" fill="#fbe4d6"/>
<rect x="504.31" y="409.52" width="5.39" height="9" fill="#ddeaf2"/>
<rect x="509.68" y="409.52" width="5.39" height="9" fill="#fbe4d6"/>
<rect x="515.04" y="409.52" width="5.39" height="9" fill="#ddeaf2"/>
<rect x="520.41" y="409.52" width="5.39" height="9" fill="#fbe4d6"/>
<rect x="525.78" y="409.52" width="5.39" height="9" fill="#eaf1f5"/>
<rect x="531.14" y="409.52" width="10.75" height="9" fill="#fbe4d6"/>
<rect x="541.88" y="409.52" width="10.75" height="9" fill="#ddeaf2"/>
<rect x="552.61" y="409.52" width="5.39" height="9" fill="#eaf1f5"/>
<rect x="557.97" y="409.52" width="5.39" height="9" fill="#f7f7f7"/>
<rect x="563.34" y="409.52" width="10.75" height="9" fill="#eaf1f5"/>
<rect x="574.07" y="409.52" width="5.39" height="9" fill="#f7f7f7"/>
<rect x="579.44" y="409.52" width="5.39" height="9" fill="#fbe4d6"/>
<rect x="584.8" y="409.52" width="5.39" height="9" fill="#eaf1f5"/>
<rect x="590.17" y="409.52" width="5.39" height="9" fill="#fbccb4"/>
<rect x="595.54" y="409.52" width="5.39" height="9" fill="#f7f7f7"/>
<rect x="600.9" y="409.52" width="5.39" height="9" fill="#fbe4d6"/>
<rect x="606.27" y="409.52" width="5.39" height="9" fill="#eaf1f5"/>
<rect x="611.63" y="409.52" width="5.39" height="9" fill="#fbe4d6"/>
<circle cx="18.68" cy="279.31" r="1.1" fill="#000"/>
<circle cx="24.05" cy="387.07" r="1.1" fill="#000"/>
<circle cx="29.42" cy="333.19" r="1.1" fill="#000"/>
<circle cx="34.78" cy="243.39" r="1.1" fill="#000"/>
<circle cx="40.15" cy="279.31" r="1.1" fill="#000"/>
<circle cx="45.51" cy="378.09" r="1.1" fill="#000"/>
<circle cx="50.88" cy="279.31" r="1.1" fill="#000"/>
<circle cx="56.25" cy="252.37" r="1.1" fill="#000"/>
<circle cx="61.61" cy="279.31" r="1.1" fill="#000"/>
<circle cx="66.98" cy="324.21" r="1.1" fill="#000"/>
<circle cx="72.34" cy="279.31" r="1.1" fill="#000"/>
<circle cx="77.71" cy="396.05" r="1.1" fill="#000"/>
<circle cx="83.08" cy="351.15" r="1.1" fill="#000"/>
<circle cx="88.44" cy="243.39" r="1.1" fill="#000"/>
<circle cx="93.81" cy="387.07" r="1.1" fill="#000"/>
<circle cx="99.17" cy="387.07" r="1.1" fill="#000"/>
<circle cx="104.54" cy="288.29" r="1.1" fill="#000"/>
<circle cx="109.91" cy="279.31" r="1.1" fill="#000"/>
<circle cx="115.27" cy="396.05" r="1.1" fill="#000"/>
<circle cx="120.64" cy="378.09" r="1.1" fill="#000"/>
<circle cx="126" cy="279.31" r="1.1" fill="#000"/>
<circle cx="131.37" cy="279.31" r="1.1" fill="#000"/>
<circle cx="136.74" cy="252.37" r="1.1" fill="#000"/>
<circle cx="142.1" cy="252.37" r="1.1" fill="#000"/>
<circle cx="147.47" cy="396.05" r="1.1" fill="#000"/>
<circle cx="152.83" cy="387.07" r="1.1" fill="#000"/>
<circle cx="158.2" cy="243.39" r="1.1" fill="#000"/>
<circle cx="163.57" cy="279.31" r="1.1" fill="#000"/>
<circle cx="168.93" cy="333.19" r="1.1" fill="#000"/>
<circle cx="174.3" cy="279.31" r="1.1" fill="#000"/>
<circle cx="179.67" cy="387.07" r="1.1" fill="#000"/>
<circle cx="185.03" cy="279.31" r="1.1" fill="#000"/>
<circle cx="190.4" cy="279.31" r="1.1" fill="#000"/>
<circle cx="195.76" cy="378.09" r="1.1" fill="#000"/>
<circle cx="201.13" cy="387.07" r="1.1" fill="#000"/>
<circle cx="206.5" cy="243.39" r="1.1" fill="#000"/>
<circle cx="211.86" cy="279.31" r="1.1" fill="#000"/>
<circle cx="217.23" cy="378.09" r="1.1" fill="#000"/>
<circle cx="222.59" cy="387.07" r="1.1" fill="#000"/>
<circle cx="227.96" cy="279.31" r="1.1" fill="#000"/>
<circle cx="233.33" cy="279.31" r="1.1" fill="#000"/>
<circle cx="238.69" cy="252.37" r="1.1" fill="#000"/>
<circle cx="244.06" cy="351.15" r="1.1" fill="#000"/>
<circle cx="249.42" cy="396.05" r="1.1" fill="#000"/>
<circle cx="254.79" cy="396.05" r="1.1" fill="#000"/>
<circle cx="260.16" cy="252.37" r="1.1" fill="#000"/>
<circle cx="265.52" cy="243.39" r="1.1" fill="#000"/>
<circle cx="270.89" cy="396.05" r="1.1" fill="#000"/>
<circle cx="276.25" cy="252.37" r="1.1" fill="#000"/>
<circle cx="281.62" cy="333.19" r="1.1" fill="#000"/>
<circle cx="286.99" cy="396.05" r="1.1" fill="#000"/>
<circle cx="292.35" cy="333.19" r="1.1" fill="#000"/>
<circle cx="297.72" cy="396.05" r="1.1" fill="#000"/>
<circle cx="303.08" cy="252.37" r="1.1" fill="#000"/>
<circle cx="308.45" cy="324.21" r="1.1" fill="#000"/>
<circle cx="313.82" cy="252.37" r="1.1" fill="#000"/>
<circle cx="319.18" cy="333.19" r="1.1" fill="#000"/>
<circle cx="324.55" cy="279.31" r="1.1" fill="#000"/>
<circle cx="329.92" cy="279.31" r="1.1" fill="#000"/>
<circle cx="335.28" cy="333.19" r="1.1" fill="#000"/>
<circle cx="340.65" cy="315.23" r="1.1" fill="#000"/>
<circle cx="346.01" cy="279.31" r="1.1" fill="#000"/>
<circle cx="351.38" cy="333.19" r="1.1" fill="#000"/>
<circle cx="356.75" cy="252.37" r="1.1" fill="#000"/>
<circle cx="362.11" cy="279.31" r="1.1" fill="#000"/>
<circle cx="367.48" cy="243.39" r="1.1" fill="#000"/>
<circle cx="372.84" cy="333.19" r="1.1" fill="#000"/>
<circle cx="378.21" cy="279.31" r="1.1" fill="#000"/>
<circle cx="383.58" cy="252.37" r="1.1" fill="#000"/>
<circle cx="388.94" cy="333.19" r="1.1" fill="#000"/>
<circle cx="394.31" cy="252.37" r="1.1" fill="#000"/>
<circle cx="399.67" cy="279.31" r="1.1" fill="#000"/>
<circle cx="405.04" cy="333.19" r="1.1" fill="#000"/>
<circle cx="410.41" cy="333.19" r="1.1" fill="#000"/>
<circle cx="415.77" cy="279.31" r="1.1" fill="#000"/>
<circle cx="421.14" cy="387.07" r="1.1" fill="#000"/>
<circle cx="426.5" cy="324.21" r="1.1" fill="#000"/>
<circle cx="431.87" cy="252.37" r="1.1" fill="#000"/>
<circle cx="437.24" cy="279.31" r="1.1" fill="#000"/>
<circle cx="442.6" cy="324.21" r="1.1" fill="#000"/>
<circle cx="447.97" cy="333.19" r="1.1" fill="#000"/>
<circle cx="453.33" cy="279.31" r="1.1" fill="#000"/>
<circle cx="458.7" cy="252.37" r="1.1" fill="#000"/>
<circle cx="464.07" cy="333.19" r="1.1" fill="#000"/>
<circle cx="469.43" cy="297.27" r="1.1" fill="#000"/>
<circle cx="474.8" cy="252.37" r="1.1" fill="#000"/>
<circle cx="480.17" cy="414.01" r="1.1" fill="#000"/>
<circle cx="485.53" cy="252.37" r="1.1" fill="#000"/>
<circle cx="490.9" cy="252.37" r="1.1" fill="#000"/>
<circle cx="496.26" cy="297.27" r="1.1" fill="#000"/>
<circle cx="501.63" cy="324.21" r="1.1" fill="#000"/>
<circle cx="507" cy="333.19" r="1.1" fill="#000"/>
<circle cx="512.36" cy="279.31" r="1.1" fill="#000"/>
<circle cx="517.73" cy="333.19" r="1.1" fill="#000"/>
<circle cx="523.09" cy="333.19" r="1.1" fill="#000"/>
<circle cx="528.46" cy="324.21" r="1.1" fill="#000"/>
<circle cx="533.83" cy="333.19" r="1.1" fill="#000"/>
<circle cx="539.19" cy="279.31" r="1.1" fill="#000"/>
<circle cx="544.56" cy="252.37" r="1.1" fill="#000"/>
<circle cx="549.92" cy="252.37" r="1.1" fill="#000"/>
<circle cx="555.29" cy="333.19" r="1.1" fill="#000"/>
<circle cx="560.66" cy="252.37" r="1.1" fill="#000"/>
<circle cx="566.02" cy="360.13" r="1.1" fill="#000"/>
<circle cx="571.39" cy="252.37" r="1.1" fill="#000"/>
<circle cx="576.75" cy="351.15" r="1.1" fill="#000"/>
<circle cx="582.12" cy="279.31" r="1.1" fill="#000"/>
<circle cx="587.49" cy="405.03" r="1.1" fill="#000"/>
<circle cx="592.85" cy="333.19" r="1.1" fill="#000"/>
<circle cx="598.22" cy="306.25" r="1.1" fill="#000"/>
<circle cx="603.58" cy="333.19" r="1.1" fill="#000"/>
<circle cx="608.95" cy="324.21" r="1.1" fill="#000"/>
<circle cx="614.32" cy="333.19" r="1.1" fill="#000"/>
<text x="15.2" y="237.45" font-size="6.9" font-weight="normal" text-anchor="end" fill="#2a3f5f">*</text>
<text x="15.2" y="245.79" font-size="6.9" font-weight="normal" text-anchor="end" fill="#2a3f5f">P</text>
<text x="15.2" y="254.77" font-size="6.9" font-weight="normal" text-anchor="end" fill="#2a3f5f">G</text>
<text x="15.2" y="263.75" font-size="6.9" font-weight="normal" text-anchor="end" fill="#2a3f5f">Y</text>
<text x="15.2" y="272.73" font-size="6.9" font-weight="normal" text-anchor="end" fill="#2a3f5f">W</text>
<text x="15.2" y="281.71" font-size="6.9" font-weight="normal" text-anchor="end" fill="#2a3f5f">F</text>
<text x="15.2" y="290.69" font-size="6.9" font-weight="normal" text-anchor="end" fill="#2a3f5f">V</text>
<text x="15.2" y="299.67" font-size="6.9" font-weight="normal" text-anchor="end" fill="#2a3f5f">L</text>
<text x="15.2" y="308.65" font-size="6.9" font-weight="normal" text-anchor="end" fill="#2a3f5f">I</text>
<text x="15.2" y="317.63" font-size="6.9" font-weight="normal" text-anchor="end" fill="#2a3f5f">A</text>
<text x="15.2" y="326.61" font-size="6.9" font-weight="normal" text-anchor="end" fill="#2a3f5f">T</text>
<text x="15.2" y="335.59" font-size="6.9" font-weight="normal" text-anchor="end" fill="#2a3f5f">S</text>
<text x="15.2" y="344.57" font-size="6.9" font-weight="normal" text-anchor="end" fill="#2a3f5f">Q</text>
<text x="15.2" y="353.55" font-size="6.9" font-weight="normal" text-anchor="end" fill="#2a3f5f">N</text>
<text x="15.2" y="362.53" font-size="6.9" font-weight="normal" text-anchor="end" fill="#2a3f5f">M</text>
<text x="15.2" y="371.51" font-size="6.9" font-weight="normal" text-anchor="end" fill="#2a3f5f">C</text>
<text x="15.2" y="380.49" font-size="6.9" font-weight="normal" text-anchor="end" fill="#2a3f5f">E</text>
<text x="15.2" y="389.47" font-size="6.9" font-weight="normal" text-anchor="end" fill="#2a3f5f">D</text>
<text x="15.2" y="398.45" font-size="6.9" font-weight="normal" text-anchor="end" fill="#2a3f5f">R</text>
<text x="15.2" y="407.43" font-size="6.9" font-weight="normal" text-anchor="end" fill="#2a3f5f">K</text>
<text x="15.2" y="416.41" font-size="6.9" font-weight="normal" text-anchor="end" fill="#2a3f5f">H</text>
<text x="110.8" y="426.6" font-size="6.8" font-weight="normal" text-anchor="middle" fill="#2a3f5f">100</text>
<text x="218.1" y="426.6" font-size="6.8" font-weight="normal" text-anchor="middle" fill="#2a3f5f">120</text>
<text x="324.7" y="426.6" font-size="6.8" font-weight="normal" text-anchor="middle" fill="#2a3f5f">140</text>
<text x="432.1" y="426.6" font-size="6.8" font-weight="normal" text-anchor="middle" fill="#2a3f5f">160</text>
<text x="539.1" y="426.6" font-size="6.8" font-weight="normal" text-anchor="middle" fill="#2a3f5f">180</text>
<defs><linearGradient id="cb" x1="0" y1="1" x2="0" y2="0"><stop offset="0.0" stop-color="rgb(103, 0, 31)"/><stop offset="0.1" stop-color="rgb(178, 24, 43)"/><stop offset="0.2" stop-color="rgb(214, 96, 77)"/><stop offset="0.3" stop-color="rgb(244, 165, 130)"/><stop offset="0.4" stop-color="rgb(253, 219, 199)"/><stop offset="0.5" stop-color="rgb(247, 247, 247)"/><stop offset="0.6" stop-color="rgb(209, 229, 240)"/><stop offset="0.7" stop-color="rgb(146, 197, 222)"/><stop offset="0.8" stop-color="rgb(67, 147, 195)"/><stop offset="0.9" stop-color="rgb(33, 102, 172)"/><stop offset="1.0" stop-color="rgb(5, 48, 97)"/></linearGradient></defs>
<rect x="632" y="234.1" width="17" height="183.9" fill="url(#cb)"/>
<text x="650.8" y="414" font-size="6.6" font-weight="normal" text-anchor="start" fill="#2a3f5f">−4</text>
<text x="650.8" y="392.65" font-size="6.6" font-weight="normal" text-anchor="start" fill="#2a3f5f">−3</text>
<text x="650.8" y="371.3" font-size="6.6" font-weight="normal" text-anchor="start" fill="#2a3f5f">−2</text>
<text x="650.8" y="349.95" font-size="6.6" font-weight="normal" text-anchor="start" fill="#2a3f5f">−1</text>
<text x="650.8" y="328.6" font-size="6.6" font-weight="normal" text-anchor="start" fill="#2a3f5f">0</text>
<text x="650.8" y="307.25" font-size="6.6" font-weight="normal" text-anchor="start" fill="#2a3f5f">1</text>
<text x="650.8" y="285.9" font-size="6.6" font-weight="normal" text-anchor="start" fill="#2a3f5f">2</text>
<text x="650.8" y="264.55" font-size="6.6" font-weight="normal" text-anchor="start" fill="#2a3f5f">3</text>
<text x="650.8" y="243.2" font-size="6.6" font-weight="normal" text-anchor="start" fill="#2a3f5f">4</text>
<text x="674.1" y="324.6" font-size="10.6" font-weight="bold" text-anchor="middle" fill="#000" transform="rotate(-90 674.1 324.6)">Log2 Fold Change</text>
<text x="628.9" y="215" font-size="10.5" font-weight="bold" text-anchor="start" fill="#000">Increased</text>
<text x="647.2" y="227.4" font-size="10.5" font-weight="bold" text-anchor="start" fill="#000">Fitness</text>
<text x="628.5" y="429" font-size="10.5" font-weight="bold" text-anchor="start" fill="#000">Decreased</text>
<text x="648.1" y="441.4" font-size="10.5" font-weight="bold" text-anchor="start" fill="#000">Fitness</text>
<text x="0.6" y="449.7" font-size="13.5" font-weight="bold" text-anchor="start" fill="#000">c</text>
<text x="104.8" y="458.1" font-size="10.6" font-weight="bold" text-anchor="middle" fill="#000">LGMDD1 Mutations</text>
<text x="243.4" y="458.1" font-size="10.6" font-weight="bold" text-anchor="middle" fill="#000">VUS – Predicted Loss of</text>
<text x="252.6" y="470.7" font-size="10.6" font-weight="bold" text-anchor="middle" fill="#000">Function</text>
<text x="390.3" y="456.9" font-size="10.6" font-weight="bold" text-anchor="middle" fill="#000">VUS – Predicted Functional</text>
<text x="571.4" y="457.1" font-size="10.6" font-weight="bold" text-anchor="middle" fill="#000">Predicted Enhanced Activity</text>
<text x="23.8" y="515.5" font-size="15.5" font-weight="bold" text-anchor="middle" fill="#000" transform="rotate(-90 23.8 515.5)">FUS</text>
<text x="23.8" y="662" font-size="15.5" font-weight="bold" text-anchor="middle" fill="#000" transform="rotate(-90 23.8 662)">TDP-43</text>
<line x1="169.5" y1="471.7" x2="169.5" y2="736.3" stroke="#3a3a3a" stroke-width="1"/>
<line x1="319.5" y1="472" x2="319.5" y2="736.4" stroke="#555" stroke-width="1"/>
<line x1="469.5" y1="471.7" x2="469.5" y2="736.4" stroke="#666" stroke-width="1"/>
<line x1="73.5" y1="519.5" x2="156.2" y2="519.5" stroke="#3a3a3a" stroke-width="1.1" stroke-dasharray="1.3,1.0"/>
<line x1="73.5" y1="492" x2="73.5" y2="574.5" stroke="#777" stroke-width="0.9"/>
<line x1="70.5" y1="574.5" x2="156.2" y2="574.5" stroke="#777" stroke-width="0.9"/>
<line x1="70.5" y1="574.5" x2="73.5" y2="574.5" stroke="#777" stroke-width="0.9"/>
<text x="0" y="0" font-size="7" font-weight="bold" text-anchor="end" fill="#000" transform="translate(69.1,577.45) scale(1.06,1.22)" stroke="#000" stroke-width="0.3">0.0</text>
<line x1="70.5" y1="547.5" x2="73.5" y2="547.5" stroke="#777" stroke-width="0.9"/>
<text x="0" y="0" font-size="7" font-weight="bold" text-anchor="end" fill="#000" transform="translate(69.1,549.95) scale(1.06,1.22)" stroke="#000" stroke-width="0.3">0.5</text>
<line x1="70.5" y1="519.5" x2="73.5" y2="519.5" stroke="#777" stroke-width="0.9"/>
<text x="0" y="0" font-size="7" font-weight="bold" text-anchor="end" fill="#000" transform="translate(69.1,522.45) scale(1.06,1.22)" stroke="#000" stroke-width="0.3">1.0</text>
<line x1="70.5" y1="492.5" x2="73.5" y2="492.5" stroke="#777" stroke-width="0.9"/>
<text x="0" y="0" font-size="7" font-weight="bold" text-anchor="end" fill="#000" transform="translate(69.1,494.95) scale(1.06,1.22)" stroke="#000" stroke-width="0.3">1.5</text>
<line x1="86.5" y1="574.5" x2="86.5" y2="577.5" stroke="#777" stroke-width="0.9"/>
<rect x="80.5" y="519.5" width="12" height="55" fill="#fff" stroke="#000" stroke-width="1.3"/>
<line x1="86.4" y1="518.4" x2="86.4" y2="520.6" stroke="#000" stroke-width="0.9"/>
<line x1="83.9" y1="518.4" x2="88.9" y2="518.4" stroke="#000" stroke-width="0.9"/>
<line x1="83.9" y1="520.6" x2="88.9" y2="520.6" stroke="#000" stroke-width="0.9"/>
<text x="0" y="0" font-size="6.9" font-weight="bold" text-anchor="end" transform="translate(88.6,582.5) rotate(-45) scale(1,1.12)" stroke="#000" stroke-width="0.18">DNAJB6</text>
<line x1="105.5" y1="574.5" x2="105.5" y2="577.5" stroke="#777" stroke-width="0.9"/>
<rect x="99.5" y="536.5" width="12" height="38" fill="#fff" stroke="#000" stroke-width="1.3"/>
<line x1="105.5" y1="536" x2="105.5" y2="537.65" stroke="#000" stroke-width="0.9"/>
<line x1="103" y1="536" x2="108" y2="536" stroke="#000" stroke-width="0.9"/>
<line x1="103" y1="537.65" x2="108" y2="537.65" stroke="#000" stroke-width="0.9"/>
<text x="0" y="0" font-size="6.9" font-weight="bold" text-anchor="end" transform="translate(107.7,582.5) rotate(-45) scale(1,1.12)" stroke="#000" stroke-width="0.18">DNAJB6-F89I</text>
<line x1="124.5" y1="574.5" x2="124.5" y2="577.5" stroke="#777" stroke-width="0.9"/>
<rect x="118.5" y="539.5" width="12" height="35" fill="#fff" stroke="#000" stroke-width="1.3"/>
<line x1="124.4" y1="532.98" x2="124.4" y2="546.17" stroke="#000" stroke-width="0.9"/>
<line x1="121.9" y1="532.98" x2="126.9" y2="532.98" stroke="#000" stroke-width="0.9"/>
<line x1="121.9" y1="546.17" x2="126.9" y2="546.17" stroke="#000" stroke-width="0.9"/>
<text x="0" y="0" font-size="6.9" font-weight="bold" text-anchor="end" transform="translate(126.6,582.5) rotate(-45) scale(1,1.12)" stroke="#000" stroke-width="0.18">DNAJB6-F93L</text>
<line x1="143.5" y1="574.5" x2="143.5" y2="577.5" stroke="#777" stroke-width="0.9"/>
<rect x="137.5" y="562.5" width="12" height="12" fill="#fff" stroke="#000" stroke-width="1.3"/>
<line x1="143.5" y1="562.4" x2="143.5" y2="563.5" stroke="#000" stroke-width="0.9"/>
<line x1="141" y1="562.4" x2="146" y2="562.4" stroke="#000" stroke-width="0.9"/>
<line x1="141" y1="563.5" x2="146" y2="563.5" stroke="#000" stroke-width="0.9"/>
<text x="0" y="0" font-size="6.9" font-weight="bold" text-anchor="end" transform="translate(145.7,582.5) rotate(-45) scale(1,1.12)" stroke="#000" stroke-width="0.18">DNAJB6-P96L</text>
<polyline points="86.5,513.7 86.5,509.5 105.5,509.5 105.5,530.4" stroke="#222" stroke-width="1.15" fill="none"/>
<path d="M91.23,501.9L91.23,505.7M89.58,502.85L92.88,504.75M89.58,504.75L92.88,502.85" stroke="#000" stroke-width="1.2" stroke-linecap="round"/>
<circle cx="91.23" cy="503.8" r="0.85" fill="#000"/>
<path d="M96,501.9L96,505.7M94.35,502.85L97.65,504.75M94.35,504.75L97.65,502.85" stroke="#000" stroke-width="1.2" stroke-linecap="round"/>
<circle cx="96" cy="503.8" r="0.85" fill="#000"/>
<path d="M100.77,501.9L100.77,505.7M99.12,502.85L102.42,504.75M99.12,504.75L102.42,502.85" stroke="#000" stroke-width="1.2" stroke-linecap="round"/>
<circle cx="100.77" cy="503.8" r="0.85" fill="#000"/>
<polyline points="86.5,501.5 86.5,496.5 124.5,496.5 124.5,530.7" stroke="#222" stroke-width="1.15" fill="none"/>
<path d="M100.73,489.1L100.73,492.9M99.08,490.05L102.38,491.95M99.08,491.95L102.38,490.05" stroke="#000" stroke-width="1.2" stroke-linecap="round"/>
<circle cx="100.73" cy="491" r="0.85" fill="#000"/>
<path d="M105.5,489.1L105.5,492.9M103.85,490.05L107.15,491.95M103.85,491.95L107.15,490.05" stroke="#000" stroke-width="1.2" stroke-linecap="round"/>
<circle cx="105.5" cy="491" r="0.85" fill="#000"/>
<path d="M110.27,489.1L110.27,492.9M108.62,490.05L111.92,491.95M108.62,491.95L111.92,490.05" stroke="#000" stroke-width="1.2" stroke-linecap="round"/>
<circle cx="110.27" cy="491" r="0.85" fill="#000"/>
<polyline points="86.5,490.5 86.5,484.5 143.5,484.5 143.5,560.7" stroke="#222" stroke-width="1.15" fill="none"/>
<path d="M107.84,476.6L107.84,480.4M106.2,477.55L109.49,479.45M106.2,479.45L109.49,477.55" stroke="#000" stroke-width="1.2" stroke-linecap="round"/>
<circle cx="107.84" cy="478.5" r="0.85" fill="#000"/>
<path d="M112.61,476.6L112.61,480.4M110.97,477.55L114.26,479.45M110.97,479.45L114.26,477.55" stroke="#000" stroke-width="1.2" stroke-linecap="round"/>
<circle cx="112.61" cy="478.5" r="0.85" fill="#000"/>
<path d="M117.39,476.6L117.39,480.4M115.74,477.55L119.03,479.45M115.74,479.45L119.03,477.55" stroke="#000" stroke-width="1.2" stroke-linecap="round"/>
<circle cx="117.39" cy="478.5" r="0.85" fill="#000"/>
<path d="M122.16,476.6L122.16,480.4M120.51,477.55L123.8,479.45M120.51,479.45L123.8,477.55" stroke="#000" stroke-width="1.2" stroke-linecap="round"/>
<circle cx="122.16" cy="478.5" r="0.85" fill="#000"/>
<text x="0" y="0" font-size="7.7" font-weight="bold" text-anchor="middle" fill="#000" transform="translate(55.06,531.2) rotate(-90) scale(1,1.2)" stroke="#000" stroke-width="0.3">Relative Growth</text>
<line x1="206.5" y1="521.5" x2="305.8" y2="521.5" stroke="#3a3a3a" stroke-width="1.1" stroke-dasharray="1.3,1.0"/>
<line x1="206.5" y1="495" x2="206.5" y2="574.5" stroke="#777" stroke-width="0.9"/>
<line x1="203.5" y1="574.5" x2="305.8" y2="574.5" stroke="#777" stroke-width="0.9"/>
<line x1="203.5" y1="574.5" x2="206.5" y2="574.5" stroke="#777" stroke-width="0.9"/>
<text x="0" y="0" font-size="7" font-weight="bold" text-anchor="end" fill="#000" transform="translate(202.1,577.45) scale(1.06,1.22)" stroke="#000" stroke-width="0.3">0.0</text>
<line x1="203.5" y1="548.5" x2="206.5" y2="548.5" stroke="#777" stroke-width="0.9"/>
<text x="0" y="0" font-size="7" font-weight="bold" text-anchor="end" fill="#000" transform="translate(202.1,550.95) scale(1.06,1.22)" stroke="#000" stroke-width="0.3">0.5</text>
<line x1="203.5" y1="521.5" x2="206.5" y2="521.5" stroke="#777" stroke-width="0.9"/>
<text x="0" y="0" font-size="7" font-weight="bold" text-anchor="end" fill="#000" transform="translate(202.1,524.45) scale(1.06,1.22)" stroke="#000" stroke-width="0.3">1.0</text>
<line x1="203.5" y1="495.5" x2="206.5" y2="495.5" stroke="#777" stroke-width="0.9"/>
<text x="0" y="0" font-size="7" font-weight="bold" text-anchor="end" fill="#000" transform="translate(202.1,497.95) scale(1.06,1.22)" stroke="#000" stroke-width="0.3">1.5</text>
<line x1="218.5" y1="574.5" x2="218.5" y2="577.5" stroke="#777" stroke-width="0.9"/>
<rect x="212.5" y="521.5" width="12" height="53" fill="#fff" stroke="#000" stroke-width="1.3"/>
<line x1="218.5" y1="520.71" x2="218.5" y2="522.29" stroke="#000" stroke-width="0.9"/>
<line x1="216" y1="520.71" x2="221" y2="520.71" stroke="#000" stroke-width="0.9"/>
<line x1="216" y1="522.29" x2="221" y2="522.29" stroke="#000" stroke-width="0.9"/>
<text x="0" y="0" font-size="6.5" font-weight="bold" text-anchor="end" transform="translate(220.7,582.5) rotate(-45) scale(1,1.12)" stroke="#000" stroke-width="0.18">DNAJB6</text>
<line x1="237.5" y1="574.5" x2="237.5" y2="577.5" stroke="#777" stroke-width="0.9"/>
<rect x="231.5" y="535.5" width="12" height="39" fill="#fff" stroke="#000" stroke-width="1.3"/>
<line x1="237.3" y1="535.28" x2="237.3" y2="536.34" stroke="#000" stroke-width="0.9"/>
<line x1="234.8" y1="535.28" x2="239.8" y2="535.28" stroke="#000" stroke-width="0.9"/>
<line x1="234.8" y1="536.34" x2="239.8" y2="536.34" stroke="#000" stroke-width="0.9"/>
<text x="0" y="0" font-size="6.5" font-weight="bold" text-anchor="end" transform="translate(239.5,582.5) rotate(-45) scale(1,1.12)" stroke="#000" stroke-width="0.18">DNAJB6-V99A</text>
<line x1="256.5" y1="574.5" x2="256.5" y2="577.5" stroke="#777" stroke-width="0.9"/>
<rect x="250.5" y="553.5" width="11" height="21" fill="#fff" stroke="#000" stroke-width="1.3"/>
<line x1="256.1" y1="552.77" x2="256.1" y2="553.83" stroke="#000" stroke-width="0.9"/>
<line x1="253.6" y1="552.77" x2="258.6" y2="552.77" stroke="#000" stroke-width="0.9"/>
<line x1="253.6" y1="553.83" x2="258.6" y2="553.83" stroke="#000" stroke-width="0.9"/>
<text x="0" y="0" font-size="6.5" font-weight="bold" text-anchor="end" transform="translate(258.3,582.5) rotate(-45) scale(1,1.12)" stroke="#000" stroke-width="0.18">DNAJB6-E102K</text>
<line x1="274.5" y1="574.5" x2="274.5" y2="577.5" stroke="#777" stroke-width="0.9"/>
<rect x="268.5" y="523.5" width="12" height="51" fill="#fff" stroke="#000" stroke-width="1.3"/>
<line x1="274.7" y1="522.29" x2="274.7" y2="524.41" stroke="#000" stroke-width="0.9"/>
<line x1="272.2" y1="522.29" x2="277.2" y2="522.29" stroke="#000" stroke-width="0.9"/>
<line x1="272.2" y1="524.41" x2="277.2" y2="524.41" stroke="#000" stroke-width="0.9"/>
<text x="0" y="0" font-size="6.5" font-weight="bold" text-anchor="end" transform="translate(276.9,582.5) rotate(-45) scale(1,1.12)" stroke="#000" stroke-width="0.18">DNAJB6-T137M</text>
<line x1="293.5" y1="574.5" x2="293.5" y2="577.5" stroke="#777" stroke-width="0.9"/>
<rect x="287.5" y="531.5" width="12" height="43" fill="#fff" stroke="#000" stroke-width="1.3"/>
<line x1="293.5" y1="530.25" x2="293.5" y2="531.84" stroke="#000" stroke-width="0.9"/>
<line x1="291" y1="530.25" x2="296" y2="530.25" stroke="#000" stroke-width="0.9"/>
<line x1="291" y1="531.84" x2="296" y2="531.84" stroke="#000" stroke-width="0.9"/>
<text x="0" y="0" font-size="6.5" font-weight="bold" text-anchor="end" transform="translate(295.7,582.5) rotate(-45) scale(1,1.12)" stroke="#000" stroke-width="0.18">DNAJB6-T159I</text>
<polyline points="218.5,516 218.5,512.5 237.5,512.5 237.5,531.3" stroke="#222" stroke-width="1.15" fill="none"/>
<path d="M220.84,504.9L220.84,508.7M219.2,505.85L222.49,507.75M219.2,507.75L222.49,505.85" stroke="#000" stroke-width="1.2" stroke-linecap="round"/>
<circle cx="220.84" cy="506.8" r="0.85" fill="#000"/>
<path d="M225.62,504.9L225.62,508.7M223.97,505.85L227.26,507.75M223.97,507.75L227.26,505.85" stroke="#000" stroke-width="1.2" stroke-linecap="round"/>
<circle cx="225.62" cy="506.8" r="0.85" fill="#000"/>
<path d="M230.38,504.9L230.38,508.7M228.74,505.85L232.03,507.75M228.74,507.75L232.03,505.85" stroke="#000" stroke-width="1.2" stroke-linecap="round"/>
<circle cx="230.38" cy="506.8" r="0.85" fill="#000"/>
<path d="M235.16,504.9L235.16,508.7M233.51,505.85L236.8,507.75M233.51,507.75L236.8,505.85" stroke="#000" stroke-width="1.2" stroke-linecap="round"/>
<circle cx="235.16" cy="506.8" r="0.85" fill="#000"/>
<polyline points="218.5,502 218.5,498.5 256.5,498.5 256.5,548.7" stroke="#222" stroke-width="1.15" fill="none"/>
<path d="M230.34,491L230.34,494.8M228.7,491.95L231.99,493.85M228.7,493.85L231.99,491.95" stroke="#000" stroke-width="1.2" stroke-linecap="round"/>
<circle cx="230.34" cy="492.9" r="0.85" fill="#000"/>
<path d="M235.12,491L235.12,494.8M233.47,491.95L236.76,493.85M233.47,493.85L236.76,491.95" stroke="#000" stroke-width="1.2" stroke-linecap="round"/>
<circle cx="235.12" cy="492.9" r="0.85" fill="#000"/>
<path d="M239.88,491L239.88,494.8M238.24,491.95L241.53,493.85M238.24,493.85L241.53,491.95" stroke="#000" stroke-width="1.2" stroke-linecap="round"/>
<circle cx="239.88" cy="492.9" r="0.85" fill="#000"/>
<path d="M244.66,491L244.66,494.8M243.01,491.95L246.3,493.85M243.01,493.85L246.3,491.95" stroke="#000" stroke-width="1.2" stroke-linecap="round"/>
<circle cx="244.66" cy="492.9" r="0.85" fill="#000"/>
<polyline points="218.5,489.4 218.5,485.5 293.5,485.5 293.5,526.2" stroke="#222" stroke-width="1.15" fill="none"/>
<path d="M248.84,478.7L248.84,482.5M247.2,479.65L250.49,481.55M247.2,481.55L250.49,479.65" stroke="#000" stroke-width="1.2" stroke-linecap="round"/>
<circle cx="248.84" cy="480.6" r="0.85" fill="#000"/>
<path d="M253.62,478.7L253.62,482.5M251.97,479.65L255.26,481.55M251.97,481.55L255.26,479.65" stroke="#000" stroke-width="1.2" stroke-linecap="round"/>
<circle cx="253.62" cy="480.6" r="0.85" fill="#000"/>
<path d="M258.38,478.7L258.38,482.5M256.74,479.65L260.03,481.55M256.74,481.55L260.03,479.65" stroke="#000" stroke-width="1.2" stroke-linecap="round"/>
<circle cx="258.38" cy="480.6" r="0.85" fill="#000"/>
<path d="M263.15,478.7L263.15,482.5M261.51,479.65L264.8,481.55M261.51,481.55L264.8,479.65" stroke="#000" stroke-width="1.2" stroke-linecap="round"/>
<circle cx="263.15" cy="480.6" r="0.85" fill="#000"/>
<text x="0" y="0" font-size="7.5" font-weight="bold" text-anchor="middle" fill="#000" transform="translate(188.72,533.6) rotate(-90) scale(1,1.2)" stroke="#000" stroke-width="0.3">Relative Growth</text>
<line x1="354.5" y1="515.5" x2="461.9" y2="515.5" stroke="#3a3a3a" stroke-width="1.1" stroke-dasharray="1.3,1.0"/>
<line x1="354.5" y1="486.4" x2="354.5" y2="572.5" stroke="#777" stroke-width="0.9"/>
<line x1="351.5" y1="572.5" x2="461.9" y2="572.5" stroke="#777" stroke-width="0.9"/>
<line x1="351.5" y1="572.5" x2="354.5" y2="572.5" stroke="#777" stroke-width="0.9"/>
<text x="0" y="0" font-size="7" font-weight="bold" text-anchor="end" fill="#000" transform="translate(350.1,575.45) scale(1.06,1.22)" stroke="#000" stroke-width="0.3">0.0</text>
<line x1="351.5" y1="543.5" x2="354.5" y2="543.5" stroke="#777" stroke-width="0.9"/>
<text x="0" y="0" font-size="7" font-weight="bold" text-anchor="end" fill="#000" transform="translate(350.1,546.75) scale(1.06,1.22)" stroke="#000" stroke-width="0.3">0.5</text>
<line x1="351.5" y1="515.5" x2="354.5" y2="515.5" stroke="#777" stroke-width="0.9"/>
<text x="0" y="0" font-size="7" font-weight="bold" text-anchor="end" fill="#000" transform="translate(350.1,518.05) scale(1.06,1.22)" stroke="#000" stroke-width="0.3">1.0</text>
<line x1="351.5" y1="486.5" x2="354.5" y2="486.5" stroke="#777" stroke-width="0.9"/>
<text x="0" y="0" font-size="7" font-weight="bold" text-anchor="end" fill="#000" transform="translate(350.1,489.35) scale(1.06,1.22)" stroke="#000" stroke-width="0.3">1.5</text>
<line x1="367.5" y1="572.5" x2="367.5" y2="575.5" stroke="#777" stroke-width="0.9"/>
<rect x="361.5" y="515.5" width="12" height="57" fill="#fff" stroke="#000" stroke-width="1.3"/>
<line x1="367.7" y1="513.38" x2="367.7" y2="516.82" stroke="#000" stroke-width="0.9"/>
<line x1="365.2" y1="513.38" x2="370.2" y2="513.38" stroke="#000" stroke-width="0.9"/>
<line x1="365.2" y1="516.82" x2="370.2" y2="516.82" stroke="#000" stroke-width="0.9"/>
<text x="0" y="0" font-size="7" font-weight="bold" text-anchor="end" transform="translate(369.9,580.5) rotate(-45) scale(1,1.12)" stroke="#000" stroke-width="0.18">DNAJB6</text>
<line x1="388.5" y1="572.5" x2="388.5" y2="575.5" stroke="#777" stroke-width="0.9"/>
<rect x="382.5" y="520.5" width="12" height="52" fill="#fff" stroke="#000" stroke-width="1.3"/>
<line x1="388.3" y1="517.97" x2="388.3" y2="522.56" stroke="#000" stroke-width="0.9"/>
<line x1="385.8" y1="517.97" x2="390.8" y2="517.97" stroke="#000" stroke-width="0.9"/>
<line x1="385.8" y1="522.56" x2="390.8" y2="522.56" stroke="#000" stroke-width="0.9"/>
<text x="0" y="0" font-size="7" font-weight="bold" text-anchor="end" transform="translate(390.5,580.5) rotate(-45) scale(1,1.12)" stroke="#000" stroke-width="0.18">DNAJB6-F100S</text>
<line x1="408.5" y1="572.5" x2="408.5" y2="575.5" stroke="#777" stroke-width="0.9"/>
<rect x="402.5" y="512.5" width="12" height="60" fill="#fff" stroke="#000" stroke-width="1.3"/>
<line x1="408.2" y1="512.23" x2="408.2" y2="513.38" stroke="#000" stroke-width="0.9"/>
<line x1="405.7" y1="512.23" x2="410.7" y2="512.23" stroke="#000" stroke-width="0.9"/>
<line x1="405.7" y1="513.38" x2="410.7" y2="513.38" stroke="#000" stroke-width="0.9"/>
<text x="0" y="0" font-size="7" font-weight="bold" text-anchor="end" transform="translate(410.4,580.5) rotate(-45) scale(1,1.12)" stroke="#000" stroke-width="0.18">DNAJB6-R127S</text>
<line x1="428.5" y1="572.5" x2="428.5" y2="575.5" stroke="#777" stroke-width="0.9"/>
<rect x="422.5" y="515.5" width="12" height="57" fill="#fff" stroke="#000" stroke-width="1.3"/>
<line x1="428.1" y1="514.24" x2="428.1" y2="517.68" stroke="#000" stroke-width="0.9"/>
<line x1="425.6" y1="514.24" x2="430.6" y2="514.24" stroke="#000" stroke-width="0.9"/>
<line x1="425.6" y1="517.68" x2="430.6" y2="517.68" stroke="#000" stroke-width="0.9"/>
<text x="0" y="0" font-size="7" font-weight="bold" text-anchor="end" transform="translate(430.3,580.5) rotate(-45) scale(1,1.12)" stroke="#000" stroke-width="0.18">DNAJB6-R135Q</text>
<line x1="448.5" y1="572.5" x2="448.5" y2="575.5" stroke="#777" stroke-width="0.9"/>
<rect x="442.5" y="518.5" width="12" height="54" fill="#fff" stroke="#000" stroke-width="1.3"/>
<line x1="448.3" y1="515.39" x2="448.3" y2="521.13" stroke="#000" stroke-width="0.9"/>
<line x1="445.8" y1="515.39" x2="450.8" y2="515.39" stroke="#000" stroke-width="0.9"/>
<line x1="445.8" y1="521.13" x2="450.8" y2="521.13" stroke="#000" stroke-width="0.9"/>
<text x="0" y="0" font-size="7" font-weight="bold" text-anchor="end" transform="translate(450.5,580.5) rotate(-45) scale(1,1.12)" stroke="#000" stroke-width="0.18">DNAJB6-F157Y</text>
<polyline points="367.5,508.3 367.5,501.5 388.5,501.5 388.5,512.3" stroke="#222" stroke-width="1.15" fill="none"/>
<path d="M378,493.3L378,497.1M376.35,494.25L379.65,496.15M376.35,496.15L379.65,494.25" stroke="#000" stroke-width="1.2" stroke-linecap="round"/>
<circle cx="378" cy="495.2" r="0.85" fill="#000"/>
<text x="0" y="0" font-size="8.1" font-weight="bold" text-anchor="middle" fill="#000" transform="translate(335.98,527.9) rotate(-90) scale(1,1.2)" stroke="#000" stroke-width="0.3">Relative Growth</text>
<line x1="511.5" y1="535.5" x2="660.4" y2="535.5" stroke="#3a3a3a" stroke-width="1.1" stroke-dasharray="1.3,1.0"/>
<line x1="511.5" y1="505.04" x2="511.5" y2="579.5" stroke="#777" stroke-width="0.9"/>
<line x1="508.5" y1="579.5" x2="660.4" y2="579.5" stroke="#777" stroke-width="0.9"/>
<line x1="508.5" y1="579.5" x2="511.5" y2="579.5" stroke="#777" stroke-width="0.9"/>
<text x="0" y="0" font-size="6.4" font-weight="bold" text-anchor="end" fill="#000" transform="translate(507.1,582.2) scale(1.06,1.22)" stroke="#000" stroke-width="0.3">0.0</text>
<line x1="508.5" y1="557.5" x2="511.5" y2="557.5" stroke="#777" stroke-width="0.9"/>
<text x="0" y="0" font-size="6.4" font-weight="bold" text-anchor="end" fill="#000" transform="translate(507.1,560.3) scale(1.06,1.22)" stroke="#000" stroke-width="0.3">0.5</text>
<line x1="508.5" y1="535.5" x2="511.5" y2="535.5" stroke="#777" stroke-width="0.9"/>
<text x="0" y="0" font-size="6.4" font-weight="bold" text-anchor="end" fill="#000" transform="translate(507.1,538.4) scale(1.06,1.22)" stroke="#000" stroke-width="0.3">1.0</text>
<line x1="508.5" y1="513.5" x2="511.5" y2="513.5" stroke="#777" stroke-width="0.9"/>
<text x="0" y="0" font-size="6.4" font-weight="bold" text-anchor="end" fill="#000" transform="translate(507.1,516.5) scale(1.06,1.22)" stroke="#000" stroke-width="0.3">1.5</text>
<line x1="523.5" y1="579.5" x2="523.5" y2="582.5" stroke="#777" stroke-width="0.9"/>
<rect x="517.5" y="535.5" width="11" height="44" fill="#fff" stroke="#000" stroke-width="1.3"/>
<line x1="523.2" y1="534.82" x2="523.2" y2="536.58" stroke="#000" stroke-width="0.9"/>
<line x1="520.7" y1="534.82" x2="525.7" y2="534.82" stroke="#000" stroke-width="0.9"/>
<line x1="520.7" y1="536.58" x2="525.7" y2="536.58" stroke="#000" stroke-width="0.9"/>
<text x="0" y="0" font-size="6.3" font-weight="bold" text-anchor="end" transform="translate(525.4,587.5) rotate(-45) scale(1,1.12)" stroke="#000" stroke-width="0.18">DNAJB6</text>
<line x1="541.5" y1="579.5" x2="541.5" y2="582.5" stroke="#777" stroke-width="0.9"/>
<rect x="535.5" y="528.5" width="11" height="51" fill="#fff" stroke="#000" stroke-width="1.3"/>
<line x1="541.2" y1="527.82" x2="541.2" y2="529.57" stroke="#000" stroke-width="0.9"/>
<line x1="538.7" y1="527.82" x2="543.7" y2="527.82" stroke="#000" stroke-width="0.9"/>
<line x1="538.7" y1="529.57" x2="543.7" y2="529.57" stroke="#000" stroke-width="0.9"/>
<text x="0" y="0" font-size="6.3" font-weight="bold" text-anchor="end" transform="translate(543.4,587.5) rotate(-45) scale(1,1.12)" stroke="#000" stroke-width="0.18">DNAJB6-R101E</text>
<line x1="559.5" y1="579.5" x2="559.5" y2="582.5" stroke="#777" stroke-width="0.9"/>
<rect x="553.5" y="530.5" width="11" height="49" fill="#fff" stroke="#000" stroke-width="1.3"/>
<line x1="559.1" y1="528.25" x2="559.1" y2="532.63" stroke="#000" stroke-width="0.9"/>
<line x1="556.6" y1="528.25" x2="561.6" y2="528.25" stroke="#000" stroke-width="0.9"/>
<line x1="556.6" y1="532.63" x2="561.6" y2="532.63" stroke="#000" stroke-width="0.9"/>
<text x="0" y="0" font-size="6.3" font-weight="bold" text-anchor="end" transform="translate(561.3,587.5) rotate(-45) scale(1,1.12)" stroke="#000" stroke-width="0.18">DNAJB6-R107D</text>
<line x1="577.5" y1="579.5" x2="577.5" y2="582.5" stroke="#777" stroke-width="0.9"/>
<rect x="571.5" y="534.5" width="11" height="45" fill="#fff" stroke="#000" stroke-width="1.3"/>
<line x1="577.1" y1="533.07" x2="577.1" y2="535.7" stroke="#000" stroke-width="0.9"/>
<line x1="574.6" y1="533.07" x2="579.6" y2="533.07" stroke="#000" stroke-width="0.9"/>
<line x1="574.6" y1="535.7" x2="579.6" y2="535.7" stroke="#000" stroke-width="0.9"/>
<text x="0" y="0" font-size="6.3" font-weight="bold" text-anchor="end" transform="translate(579.3,587.5) rotate(-45) scale(1,1.12)" stroke="#000" stroke-width="0.18">DNAJB6-F140D</text>
<line x1="594.5" y1="579.5" x2="594.5" y2="582.5" stroke="#777" stroke-width="0.9"/>
<rect x="589.5" y="529.5" width="11" height="50" fill="#fff" stroke="#000" stroke-width="1.3"/>
<line x1="594.9" y1="526.94" x2="594.9" y2="532.2" stroke="#000" stroke-width="0.9"/>
<line x1="592.4" y1="526.94" x2="597.4" y2="526.94" stroke="#000" stroke-width="0.9"/>
<line x1="592.4" y1="532.2" x2="597.4" y2="532.2" stroke="#000" stroke-width="0.9"/>
<text x="0" y="0" font-size="6.3" font-weight="bold" text-anchor="end" transform="translate(597.1,587.5) rotate(-45) scale(1,1.12)" stroke="#000" stroke-width="0.18">DNAJB6-G160D</text>
<line x1="612.5" y1="579.5" x2="612.5" y2="582.5" stroke="#777" stroke-width="0.9"/>
<rect x="607.5" y="525.5" width="11" height="54" fill="#fff" stroke="#000" stroke-width="1.3"/>
<line x1="612.8" y1="524.75" x2="612.8" y2="525.63" stroke="#000" stroke-width="0.9"/>
<line x1="610.3" y1="524.75" x2="615.3" y2="524.75" stroke="#000" stroke-width="0.9"/>
<line x1="610.3" y1="525.63" x2="615.3" y2="525.63" stroke="#000" stroke-width="0.9"/>
<text x="0" y="0" font-size="6.3" font-weight="bold" text-anchor="end" transform="translate(615,587.5) rotate(-45) scale(1,1.12)" stroke="#000" stroke-width="0.18">DNAJB6-G171D</text>
<line x1="630.5" y1="579.5" x2="630.5" y2="582.5" stroke="#777" stroke-width="0.9"/>
<rect x="624.5" y="522.5" width="12" height="57" fill="#fff" stroke="#000" stroke-width="1.3"/>
<line x1="630.5" y1="521.03" x2="630.5" y2="523.65" stroke="#000" stroke-width="0.9"/>
<line x1="628" y1="521.03" x2="633" y2="521.03" stroke="#000" stroke-width="0.9"/>
<line x1="628" y1="523.65" x2="633" y2="523.65" stroke="#000" stroke-width="0.9"/>
<text x="0" y="0" font-size="6.3" font-weight="bold" text-anchor="end" transform="translate(632.7,587.5) rotate(-45) scale(1,1.12)" stroke="#000" stroke-width="0.18">DNAJB6-G182E</text>
<line x1="648.5" y1="579.5" x2="648.5" y2="582.5" stroke="#777" stroke-width="0.9"/>
<rect x="642.5" y="515.5" width="12" height="64" fill="#fff" stroke="#000" stroke-width="1.3"/>
<line x1="648.3" y1="514.46" x2="648.3" y2="516.21" stroke="#000" stroke-width="0.9"/>
<line x1="645.8" y1="514.46" x2="650.8" y2="514.46" stroke="#000" stroke-width="0.9"/>
<line x1="645.8" y1="516.21" x2="650.8" y2="516.21" stroke="#000" stroke-width="0.9"/>
<text x="0" y="0" font-size="6.3" font-weight="bold" text-anchor="end" transform="translate(650.5,587.5) rotate(-45) scale(1,1.12)" stroke="#000" stroke-width="0.18">DNAJB6-S192T</text>
<polyline points="523.5,523 523.5,518.5 541.5,518.5 541.5,524" stroke="#222" stroke-width="1.15" fill="none"/>
<path d="M527.73,511.9L527.73,515.7M526.08,512.85L529.38,514.75M526.08,514.75L529.38,512.85" stroke="#000" stroke-width="1.2" stroke-linecap="round"/>
<circle cx="527.73" cy="513.8" r="0.85" fill="#000"/>
<path d="M532.5,511.9L532.5,515.7M530.85,512.85L534.15,514.75M530.85,514.75L534.15,512.85" stroke="#000" stroke-width="1.2" stroke-linecap="round"/>
<circle cx="532.5" cy="513.8" r="0.85" fill="#000"/>
<path d="M537.27,511.9L537.27,515.7M535.62,512.85L538.92,514.75M535.62,514.75L538.92,512.85" stroke="#000" stroke-width="1.2" stroke-linecap="round"/>
<circle cx="537.27" cy="513.8" r="0.85" fill="#000"/>
<polyline points="523.5,513 523.5,508.5 559.5,508.5 559.5,527.5" stroke="#222" stroke-width="1.15" fill="none"/>
<path d="M539.12,501.6L539.12,505.4M537.47,502.55L540.76,504.45M537.47,504.45L540.76,502.55" stroke="#000" stroke-width="1.2" stroke-linecap="round"/>
<circle cx="539.12" cy="503.5" r="0.85" fill="#000"/>
<path d="M543.88,501.6L543.88,505.4M542.24,502.55L545.53,504.45M542.24,504.45L545.53,502.55" stroke="#000" stroke-width="1.2" stroke-linecap="round"/>
<circle cx="543.88" cy="503.5" r="0.85" fill="#000"/>
<polyline points="523.5,503 523.5,498.5 594.5,498.5 594.5,526" stroke="#222" stroke-width="1.15" fill="none"/>
<path d="M554.23,491.7L554.23,495.5M552.58,492.65L555.88,494.55M552.58,494.55L555.88,492.65" stroke="#000" stroke-width="1.2" stroke-linecap="round"/>
<circle cx="554.23" cy="493.6" r="0.85" fill="#000"/>
<path d="M559,491.7L559,495.5M557.35,492.65L560.65,494.55M557.35,494.55L560.65,492.65" stroke="#000" stroke-width="1.2" stroke-linecap="round"/>
<circle cx="559" cy="493.6" r="0.85" fill="#000"/>
<path d="M563.77,491.7L563.77,495.5M562.12,492.65L565.42,494.55M562.12,494.55L565.42,492.65" stroke="#000" stroke-width="1.2" stroke-linecap="round"/>
<circle cx="563.77" cy="493.6" r="0.85" fill="#000"/>
<polyline points="523.5,494 523.5,489.5 612.5,489.5 612.5,523.2" stroke="#222" stroke-width="1.15" fill="none"/>
<path d="M560.85,481.9L560.85,485.7M559.2,482.85L562.49,484.75M559.2,484.75L562.49,482.85" stroke="#000" stroke-width="1.2" stroke-linecap="round"/>
<circle cx="560.85" cy="483.8" r="0.85" fill="#000"/>
<path d="M565.62,481.9L565.62,485.7M563.97,482.85L567.26,484.75M563.97,484.75L567.26,482.85" stroke="#000" stroke-width="1.2" stroke-linecap="round"/>
<circle cx="565.62" cy="483.8" r="0.85" fill="#000"/>
<path d="M570.38,481.9L570.38,485.7M568.74,482.85L572.03,484.75M568.74,484.75L572.03,482.85" stroke="#000" stroke-width="1.2" stroke-linecap="round"/>
<circle cx="570.38" cy="483.8" r="0.85" fill="#000"/>
<path d="M575.15,481.9L575.15,485.7M573.51,482.85L576.8,484.75M573.51,484.75L576.8,482.85" stroke="#000" stroke-width="1.2" stroke-linecap="round"/>
<circle cx="575.15" cy="483.8" r="0.85" fill="#000"/>
<polyline points="523.5,484 523.5,479.5 630.5,479.5 630.5,520" stroke="#222" stroke-width="1.15" fill="none"/>
<path d="M569.85,472.1L569.85,475.9M568.2,473.05L571.49,474.95M568.2,474.95L571.49,473.05" stroke="#000" stroke-width="1.2" stroke-linecap="round"/>
<circle cx="569.85" cy="474" r="0.85" fill="#000"/>
<path d="M574.62,472.1L574.62,475.9M572.97,473.05L576.26,474.95M572.97,474.95L576.26,473.05" stroke="#000" stroke-width="1.2" stroke-linecap="round"/>
<circle cx="574.62" cy="474" r="0.85" fill="#000"/>
<path d="M579.38,472.1L579.38,475.9M577.74,473.05L581.03,474.95M577.74,474.95L581.03,473.05" stroke="#000" stroke-width="1.2" stroke-linecap="round"/>
<circle cx="579.38" cy="474" r="0.85" fill="#000"/>
<path d="M584.15,472.1L584.15,475.9M582.51,473.05L585.8,474.95M582.51,474.95L585.8,473.05" stroke="#000" stroke-width="1.2" stroke-linecap="round"/>
<circle cx="584.15" cy="474" r="0.85" fill="#000"/>
<polyline points="523.5,474 523.5,469.5 648.5,469.5 648.5,513" stroke="#222" stroke-width="1.15" fill="none"/>
<path d="M578.85,462.2L578.85,466M577.2,463.15L580.49,465.05M577.2,465.05L580.49,463.15" stroke="#000" stroke-width="1.2" stroke-linecap="round"/>
<circle cx="578.85" cy="464.1" r="0.85" fill="#000"/>
<path d="M583.62,462.2L583.62,466M581.97,463.15L585.26,465.05M581.97,465.05L585.26,463.15" stroke="#000" stroke-width="1.2" stroke-linecap="round"/>
<circle cx="583.62" cy="464.1" r="0.85" fill="#000"/>
<path d="M588.38,462.2L588.38,466M586.74,463.15L590.03,465.05M586.74,465.05L590.03,463.15" stroke="#000" stroke-width="1.2" stroke-linecap="round"/>
<circle cx="588.38" cy="464.1" r="0.85" fill="#000"/>
<path d="M593.15,462.2L593.15,466M591.51,463.15L594.8,465.05M591.51,465.05L594.8,463.15" stroke="#000" stroke-width="1.2" stroke-linecap="round"/>
<circle cx="593.15" cy="464.1" r="0.85" fill="#000"/>
<text x="0" y="0" font-size="7" font-weight="bold" text-anchor="middle" fill="#000" transform="translate(495.11,540.5) rotate(-90) scale(1,1.2)" stroke="#000" stroke-width="0.3">Relative Growth</text>
<line x1="72.5" y1="665.5" x2="153.5" y2="665.5" stroke="#3a3a3a" stroke-width="1.1" stroke-dasharray="1.3,1.0"/>
<line x1="72.5" y1="638.95" x2="72.5" y2="719.5" stroke="#777" stroke-width="0.9"/>
<line x1="69.5" y1="719.5" x2="153.5" y2="719.5" stroke="#777" stroke-width="0.9"/>
<line x1="69.5" y1="719.5" x2="72.5" y2="719.5" stroke="#777" stroke-width="0.9"/>
<text x="0" y="0" font-size="7" font-weight="bold" text-anchor="end" fill="#000" transform="translate(68.1,722.45) scale(1.06,1.22)" stroke="#000" stroke-width="0.3">0.0</text>
<line x1="69.5" y1="692.5" x2="72.5" y2="692.5" stroke="#777" stroke-width="0.9"/>
<text x="0" y="0" font-size="7" font-weight="bold" text-anchor="end" fill="#000" transform="translate(68.1,695.6) scale(1.06,1.22)" stroke="#000" stroke-width="0.3">0.5</text>
<line x1="69.5" y1="665.5" x2="72.5" y2="665.5" stroke="#777" stroke-width="0.9"/>
<text x="0" y="0" font-size="7" font-weight="bold" text-anchor="end" fill="#000" transform="translate(68.1,668.75) scale(1.06,1.22)" stroke="#000" stroke-width="0.3">1.0</text>
<line x1="69.5" y1="638.5" x2="72.5" y2="638.5" stroke="#777" stroke-width="0.9"/>
<text x="0" y="0" font-size="7" font-weight="bold" text-anchor="end" fill="#000" transform="translate(68.1,641.9) scale(1.06,1.22)" stroke="#000" stroke-width="0.3">1.5</text>
<line x1="84.5" y1="719.5" x2="84.5" y2="722.5" stroke="#777" stroke-width="0.9"/>
<rect x="78.5" y="665.5" width="12" height="54" fill="#fff" stroke="#000" stroke-width="1.3"/>
<line x1="84.6" y1="663.12" x2="84.6" y2="668.49" stroke="#000" stroke-width="0.9"/>
<line x1="82.1" y1="663.12" x2="87.1" y2="663.12" stroke="#000" stroke-width="0.9"/>
<line x1="82.1" y1="668.49" x2="87.1" y2="668.49" stroke="#000" stroke-width="0.9"/>
<text x="0" y="0" font-size="6.6" font-weight="bold" text-anchor="end" transform="translate(86.8,727.5) rotate(-45) scale(1,1.12)" stroke="#000" stroke-width="0.18">DNAJB6</text>
<line x1="103.5" y1="719.5" x2="103.5" y2="722.5" stroke="#777" stroke-width="0.9"/>
<rect x="97.5" y="689.5" width="12" height="30" fill="#fff" stroke="#000" stroke-width="1.3"/>
<line x1="103.6" y1="688.89" x2="103.6" y2="690.5" stroke="#000" stroke-width="0.9"/>
<line x1="101.1" y1="688.89" x2="106.1" y2="688.89" stroke="#000" stroke-width="0.9"/>
<line x1="101.1" y1="690.5" x2="106.1" y2="690.5" stroke="#000" stroke-width="0.9"/>
<text x="0" y="0" font-size="6.6" font-weight="bold" text-anchor="end" transform="translate(105.8,727.5) rotate(-45) scale(1,1.12)" stroke="#000" stroke-width="0.18">DNAJB6-F89I</text>
<line x1="122.5" y1="719.5" x2="122.5" y2="722.5" stroke="#777" stroke-width="0.9"/>
<rect x="116.5" y="684.5" width="11" height="35" fill="#fff" stroke="#000" stroke-width="1.3"/>
<line x1="122.2" y1="683.79" x2="122.2" y2="684.86" stroke="#000" stroke-width="0.9"/>
<line x1="119.7" y1="683.79" x2="124.7" y2="683.79" stroke="#000" stroke-width="0.9"/>
<line x1="119.7" y1="684.86" x2="124.7" y2="684.86" stroke="#000" stroke-width="0.9"/>
<text x="0" y="0" font-size="6.6" font-weight="bold" text-anchor="end" transform="translate(124.4,727.5) rotate(-45) scale(1,1.12)" stroke="#000" stroke-width="0.18">DNAJB6-F93L</text>
<line x1="141.5" y1="719.5" x2="141.5" y2="722.5" stroke="#777" stroke-width="0.9"/>
<rect x="135.5" y="706.5" width="11" height="13" fill="#fff" stroke="#000" stroke-width="1.3"/>
<line x1="141" y1="706.5" x2="141" y2="707.04" stroke="#000" stroke-width="0.9"/>
<line x1="138.5" y1="706.5" x2="143.5" y2="706.5" stroke="#000" stroke-width="0.9"/>
<line x1="138.5" y1="707.04" x2="143.5" y2="707.04" stroke="#000" stroke-width="0.9"/>
<text x="0" y="0" font-size="6.6" font-weight="bold" text-anchor="end" transform="translate(143.2,727.5) rotate(-45) scale(1,1.12)" stroke="#000" stroke-width="0.18">DNAJB6-P96L</text>
<polyline points="84.5,660 84.5,655.5 103.5,655.5 103.5,683" stroke="#222" stroke-width="1.15" fill="none"/>
<path d="M86.84,647.6L86.84,651.4M85.2,648.55L88.49,650.45M85.2,650.45L88.49,648.55" stroke="#000" stroke-width="1.2" stroke-linecap="round"/>
<circle cx="86.84" cy="649.5" r="0.85" fill="#000"/>
<path d="M91.61,647.6L91.61,651.4M89.97,648.55L93.26,650.45M89.97,650.45L93.26,648.55" stroke="#000" stroke-width="1.2" stroke-linecap="round"/>
<circle cx="91.61" cy="649.5" r="0.85" fill="#000"/>
<path d="M96.39,647.6L96.39,651.4M94.74,648.55L98.03,650.45M94.74,650.45L98.03,648.55" stroke="#000" stroke-width="1.2" stroke-linecap="round"/>
<circle cx="96.39" cy="649.5" r="0.85" fill="#000"/>
<path d="M101.16,647.6L101.16,651.4M99.51,648.55L102.8,650.45M99.51,650.45L102.8,648.55" stroke="#000" stroke-width="1.2" stroke-linecap="round"/>
<circle cx="101.16" cy="649.5" r="0.85" fill="#000"/>
<polyline points="84.5,645 84.5,639.5 122.5,639.5 122.5,679.8" stroke="#222" stroke-width="1.15" fill="none"/>
<path d="M96.34,632.8L96.34,636.6M94.7,633.75L97.99,635.65M94.7,635.65L97.99,633.75" stroke="#000" stroke-width="1.2" stroke-linecap="round"/>
<circle cx="96.34" cy="634.7" r="0.85" fill="#000"/>
<path d="M101.11,632.8L101.11,636.6M99.47,633.75L102.76,635.65M99.47,635.65L102.76,633.75" stroke="#000" stroke-width="1.2" stroke-linecap="round"/>
<circle cx="101.11" cy="634.7" r="0.85" fill="#000"/>
<path d="M105.89,632.8L105.89,636.6M104.24,633.75L107.53,635.65M104.24,635.65L107.53,633.75" stroke="#000" stroke-width="1.2" stroke-linecap="round"/>
<circle cx="105.89" cy="634.7" r="0.85" fill="#000"/>
<path d="M110.66,632.8L110.66,636.6M109.01,633.75L112.3,635.65M109.01,635.65L112.3,633.75" stroke="#000" stroke-width="1.2" stroke-linecap="round"/>
<circle cx="110.66" cy="634.7" r="0.85" fill="#000"/>
<polyline points="84.5,633 84.5,628.5 141.5,628.5 141.5,703" stroke="#222" stroke-width="1.15" fill="none"/>
<path d="M105.84,620.8L105.84,624.6M104.2,621.75L107.49,623.65M104.2,623.65L107.49,621.75" stroke="#000" stroke-width="1.2" stroke-linecap="round"/>
<circle cx="105.84" cy="622.7" r="0.85" fill="#000"/>
<path d="M110.61,620.8L110.61,624.6M108.97,621.75L112.26,623.65M108.97,623.65L112.26,621.75" stroke="#000" stroke-width="1.2" stroke-linecap="round"/>
<circle cx="110.61" cy="622.7" r="0.85" fill="#000"/>
<path d="M115.39,620.8L115.39,624.6M113.74,621.75L117.03,623.65M113.74,623.65L117.03,621.75" stroke="#000" stroke-width="1.2" stroke-linecap="round"/>
<circle cx="115.39" cy="622.7" r="0.85" fill="#000"/>
<path d="M120.16,620.8L120.16,624.6M118.51,621.75L121.8,623.65M118.51,623.65L121.8,621.75" stroke="#000" stroke-width="1.2" stroke-linecap="round"/>
<circle cx="120.16" cy="622.7" r="0.85" fill="#000"/>
<text x="0" y="0" font-size="7.6" font-weight="bold" text-anchor="middle" fill="#000" transform="translate(54.37,677) rotate(-90) scale(1,1.2)" stroke="#000" stroke-width="0.3">Relative Growth</text>
<line x1="208.5" y1="671.5" x2="302.7" y2="671.5" stroke="#3a3a3a" stroke-width="1.1" stroke-dasharray="1.3,1.0"/>
<line x1="208.5" y1="646.35" x2="208.5" y2="721.5" stroke="#777" stroke-width="0.9"/>
<line x1="205.5" y1="721.5" x2="302.7" y2="721.5" stroke="#777" stroke-width="0.9"/>
<line x1="205.5" y1="721.5" x2="208.5" y2="721.5" stroke="#777" stroke-width="0.9"/>
<text x="0" y="0" font-size="7" font-weight="bold" text-anchor="end" fill="#000" transform="translate(204.1,724.45) scale(1.06,1.22)" stroke="#000" stroke-width="0.3">0.0</text>
<line x1="205.5" y1="696.5" x2="208.5" y2="696.5" stroke="#777" stroke-width="0.9"/>
<text x="0" y="0" font-size="7" font-weight="bold" text-anchor="end" fill="#000" transform="translate(204.1,699.4) scale(1.06,1.22)" stroke="#000" stroke-width="0.3">0.5</text>
<line x1="205.5" y1="671.5" x2="208.5" y2="671.5" stroke="#777" stroke-width="0.9"/>
<text x="0" y="0" font-size="7" font-weight="bold" text-anchor="end" fill="#000" transform="translate(204.1,674.35) scale(1.06,1.22)" stroke="#000" stroke-width="0.3">1.0</text>
<line x1="205.5" y1="646.5" x2="208.5" y2="646.5" stroke="#777" stroke-width="0.9"/>
<text x="0" y="0" font-size="7" font-weight="bold" text-anchor="end" fill="#000" transform="translate(204.1,649.3) scale(1.06,1.22)" stroke="#000" stroke-width="0.3">1.5</text>
<line x1="220.5" y1="721.5" x2="220.5" y2="724.5" stroke="#777" stroke-width="0.9"/>
<rect x="215.5" y="671.5" width="10" height="50" fill="#fff" stroke="#000" stroke-width="1.3"/>
<line x1="220.4" y1="670.9" x2="220.4" y2="671.9" stroke="#000" stroke-width="0.9"/>
<line x1="217.9" y1="670.9" x2="222.9" y2="670.9" stroke="#000" stroke-width="0.9"/>
<line x1="217.9" y1="671.9" x2="222.9" y2="671.9" stroke="#000" stroke-width="0.9"/>
<text x="0" y="0" font-size="6.1" font-weight="bold" text-anchor="end" transform="translate(222.6,729.5) rotate(-45) scale(1,1.12)" stroke="#000" stroke-width="0.18">DNAJB6</text>
<line x1="237.5" y1="721.5" x2="237.5" y2="724.5" stroke="#777" stroke-width="0.9"/>
<rect x="232.5" y="693.5" width="11" height="28" fill="#fff" stroke="#000" stroke-width="1.3"/>
<line x1="237.9" y1="693.44" x2="237.9" y2="694.45" stroke="#000" stroke-width="0.9"/>
<line x1="235.4" y1="693.44" x2="240.4" y2="693.44" stroke="#000" stroke-width="0.9"/>
<line x1="235.4" y1="694.45" x2="240.4" y2="694.45" stroke="#000" stroke-width="0.9"/>
<text x="0" y="0" font-size="6.1" font-weight="bold" text-anchor="end" transform="translate(240.1,729.5) rotate(-45) scale(1,1.12)" stroke="#000" stroke-width="0.18">DNAJB6-V99A</text>
<line x1="255.5" y1="721.5" x2="255.5" y2="724.5" stroke="#777" stroke-width="0.9"/>
<rect x="250.5" y="701.5" width="11" height="20" fill="#fff" stroke="#000" stroke-width="1.3"/>
<line x1="255.7" y1="701.71" x2="255.7" y2="702.21" stroke="#000" stroke-width="0.9"/>
<line x1="253.2" y1="701.71" x2="258.2" y2="701.71" stroke="#000" stroke-width="0.9"/>
<line x1="253.2" y1="702.21" x2="258.2" y2="702.21" stroke="#000" stroke-width="0.9"/>
<text x="0" y="0" font-size="6.1" font-weight="bold" text-anchor="end" transform="translate(257.9,729.5) rotate(-45) scale(1,1.12)" stroke="#000" stroke-width="0.18">DNAJB6-E102K</text>
<line x1="273.5" y1="721.5" x2="273.5" y2="724.5" stroke="#777" stroke-width="0.9"/>
<rect x="268.5" y="674.5" width="10" height="47" fill="#fff" stroke="#000" stroke-width="1.3"/>
<line x1="273.5" y1="674.16" x2="273.5" y2="675.16" stroke="#000" stroke-width="0.9"/>
<line x1="271" y1="674.16" x2="276" y2="674.16" stroke="#000" stroke-width="0.9"/>
<line x1="271" y1="675.16" x2="276" y2="675.16" stroke="#000" stroke-width="0.9"/>
<text x="0" y="0" font-size="6.1" font-weight="bold" text-anchor="end" transform="translate(275.7,729.5) rotate(-45) scale(1,1.12)" stroke="#000" stroke-width="0.18">DNAJB6-T137M</text>
<line x1="291.5" y1="721.5" x2="291.5" y2="724.5" stroke="#777" stroke-width="0.9"/>
<rect x="285.5" y="679.5" width="11" height="42" fill="#fff" stroke="#000" stroke-width="1.3"/>
<line x1="291.1" y1="677.66" x2="291.1" y2="680.67" stroke="#000" stroke-width="0.9"/>
<line x1="288.6" y1="677.66" x2="293.6" y2="677.66" stroke="#000" stroke-width="0.9"/>
<line x1="288.6" y1="680.67" x2="293.6" y2="680.67" stroke="#000" stroke-width="0.9"/>
<text x="0" y="0" font-size="6.1" font-weight="bold" text-anchor="end" transform="translate(293.3,729.5) rotate(-45) scale(1,1.12)" stroke="#000" stroke-width="0.18">DNAJB6-T159I</text>
<polyline points="220.5,667 220.5,663.5 237.5,663.5 237.5,688.7" stroke="#222" stroke-width="1.15" fill="none"/>
<path d="M221.84,656.1L221.84,659.9M220.2,657.05L223.49,658.95M220.2,658.95L223.49,657.05" stroke="#000" stroke-width="1.2" stroke-linecap="round"/>
<circle cx="221.84" cy="658" r="0.85" fill="#000"/>
<path d="M226.62,656.1L226.62,659.9M224.97,657.05L228.26,658.95M224.97,658.95L228.26,657.05" stroke="#000" stroke-width="1.2" stroke-linecap="round"/>
<circle cx="226.62" cy="658" r="0.85" fill="#000"/>
<path d="M231.38,656.1L231.38,659.9M229.74,657.05L233.03,658.95M229.74,658.95L233.03,657.05" stroke="#000" stroke-width="1.2" stroke-linecap="round"/>
<circle cx="231.38" cy="658" r="0.85" fill="#000"/>
<path d="M236.16,656.1L236.16,659.9M234.51,657.05L237.8,658.95M234.51,658.95L237.8,657.05" stroke="#000" stroke-width="1.2" stroke-linecap="round"/>
<circle cx="236.16" cy="658" r="0.85" fill="#000"/>
<polyline points="220.5,653 220.5,649.5 255.5,649.5 255.5,697.5" stroke="#222" stroke-width="1.15" fill="none"/>
<path d="M230.84,642.8L230.84,646.6M229.2,643.75L232.49,645.65M229.2,645.65L232.49,643.75" stroke="#000" stroke-width="1.2" stroke-linecap="round"/>
<circle cx="230.84" cy="644.7" r="0.85" fill="#000"/>
<path d="M235.62,642.8L235.62,646.6M233.97,643.75L237.26,645.65M233.97,645.65L237.26,643.75" stroke="#000" stroke-width="1.2" stroke-linecap="round"/>
<circle cx="235.62" cy="644.7" r="0.85" fill="#000"/>
<path d="M240.38,642.8L240.38,646.6M238.74,643.75L242.03,645.65M238.74,645.65L242.03,643.75" stroke="#000" stroke-width="1.2" stroke-linecap="round"/>
<circle cx="240.38" cy="644.7" r="0.85" fill="#000"/>
<path d="M245.16,642.8L245.16,646.6M243.51,643.75L246.8,645.65M243.51,645.65L246.8,643.75" stroke="#000" stroke-width="1.2" stroke-linecap="round"/>
<circle cx="245.16" cy="644.7" r="0.85" fill="#000"/>
<polyline points="220.5,643 220.5,639.5 273.5,639.5 273.5,670.3" stroke="#222" stroke-width="1.15" fill="none"/>
<path d="M244.62,632.6L244.62,636.4M242.97,633.55L246.26,635.45M242.97,635.45L246.26,633.55" stroke="#000" stroke-width="1.2" stroke-linecap="round"/>
<circle cx="244.62" cy="634.5" r="0.85" fill="#000"/>
<path d="M249.38,632.6L249.38,636.4M247.74,633.55L251.03,635.45M247.74,635.45L251.03,633.55" stroke="#000" stroke-width="1.2" stroke-linecap="round"/>
<circle cx="249.38" cy="634.5" r="0.85" fill="#000"/>
<polyline points="220.5,634 220.5,629.5 291.5,629.5 291.5,673.8" stroke="#222" stroke-width="1.15" fill="none"/>
<path d="M248.84,622.8L248.84,626.6M247.2,623.75L250.49,625.65M247.2,625.65L250.49,623.75" stroke="#000" stroke-width="1.2" stroke-linecap="round"/>
<circle cx="248.84" cy="624.7" r="0.85" fill="#000"/>
<path d="M253.62,622.8L253.62,626.6M251.97,623.75L255.26,625.65M251.97,625.65L255.26,623.75" stroke="#000" stroke-width="1.2" stroke-linecap="round"/>
<circle cx="253.62" cy="624.7" r="0.85" fill="#000"/>
<path d="M258.38,622.8L258.38,626.6M256.74,623.75L260.03,625.65M256.74,625.65L260.03,623.75" stroke="#000" stroke-width="1.2" stroke-linecap="round"/>
<circle cx="258.38" cy="624.7" r="0.85" fill="#000"/>
<path d="M263.15,622.8L263.15,626.6M261.51,623.75L264.8,625.65M261.51,625.65L264.8,623.75" stroke="#000" stroke-width="1.2" stroke-linecap="round"/>
<circle cx="263.15" cy="624.7" r="0.85" fill="#000"/>
<text x="0" y="0" font-size="7" font-weight="bold" text-anchor="middle" fill="#000" transform="translate(192.21,682.2) rotate(-90) scale(1,1.2)" stroke="#000" stroke-width="0.3">Relative Growth</text>
<line x1="354.5" y1="665.5" x2="453.8" y2="665.5" stroke="#3a3a3a" stroke-width="1.1" stroke-dasharray="1.3,1.0"/>
<line x1="354.5" y1="639" x2="354.5" y2="718.5" stroke="#777" stroke-width="0.9"/>
<line x1="351.5" y1="718.5" x2="453.8" y2="718.5" stroke="#777" stroke-width="0.9"/>
<line x1="351.5" y1="718.5" x2="354.5" y2="718.5" stroke="#777" stroke-width="0.9"/>
<text x="0" y="0" font-size="7" font-weight="bold" text-anchor="end" fill="#000" transform="translate(350.1,721.45) scale(1.06,1.22)" stroke="#000" stroke-width="0.3">0.0</text>
<line x1="351.5" y1="692.5" x2="354.5" y2="692.5" stroke="#777" stroke-width="0.9"/>
<text x="0" y="0" font-size="7" font-weight="bold" text-anchor="end" fill="#000" transform="translate(350.1,694.95) scale(1.06,1.22)" stroke="#000" stroke-width="0.3">0.5</text>
<line x1="351.5" y1="665.5" x2="354.5" y2="665.5" stroke="#777" stroke-width="0.9"/>
<text x="0" y="0" font-size="7" font-weight="bold" text-anchor="end" fill="#000" transform="translate(350.1,668.45) scale(1.06,1.22)" stroke="#000" stroke-width="0.3">1.0</text>
<line x1="351.5" y1="639.5" x2="354.5" y2="639.5" stroke="#777" stroke-width="0.9"/>
<text x="0" y="0" font-size="7" font-weight="bold" text-anchor="end" fill="#000" transform="translate(350.1,641.95) scale(1.06,1.22)" stroke="#000" stroke-width="0.3">1.5</text>
<line x1="366.5" y1="718.5" x2="366.5" y2="721.5" stroke="#777" stroke-width="0.9"/>
<rect x="360.5" y="665.5" width="12" height="53" fill="#fff" stroke="#000" stroke-width="1.3"/>
<line x1="366.6" y1="665.24" x2="366.6" y2="665.76" stroke="#000" stroke-width="0.9"/>
<line x1="364.1" y1="665.24" x2="369.1" y2="665.24" stroke="#000" stroke-width="0.9"/>
<line x1="364.1" y1="665.76" x2="369.1" y2="665.76" stroke="#000" stroke-width="0.9"/>
<text x="0" y="0" font-size="6.65" font-weight="bold" text-anchor="end" transform="translate(368.8,726.5) rotate(-45) scale(1,1.12)" stroke="#000" stroke-width="0.18">DNAJB6</text>
<line x1="385.5" y1="718.5" x2="385.5" y2="721.5" stroke="#777" stroke-width="0.9"/>
<rect x="379.5" y="685.5" width="11" height="33" fill="#fff" stroke="#000" stroke-width="1.3"/>
<line x1="385.2" y1="684.58" x2="385.2" y2="685.64" stroke="#000" stroke-width="0.9"/>
<line x1="382.7" y1="684.58" x2="387.7" y2="684.58" stroke="#000" stroke-width="0.9"/>
<line x1="382.7" y1="685.64" x2="387.7" y2="685.64" stroke="#000" stroke-width="0.9"/>
<text x="0" y="0" font-size="6.65" font-weight="bold" text-anchor="end" transform="translate(387.4,726.5) rotate(-45) scale(1,1.12)" stroke="#000" stroke-width="0.18">DNAJB6-F100S</text>
<line x1="403.5" y1="718.5" x2="403.5" y2="721.5" stroke="#777" stroke-width="0.9"/>
<rect x="398.5" y="664.5" width="11" height="54" fill="#fff" stroke="#000" stroke-width="1.3"/>
<line x1="403.8" y1="662.85" x2="403.8" y2="667.09" stroke="#000" stroke-width="0.9"/>
<line x1="401.3" y1="662.85" x2="406.3" y2="662.85" stroke="#000" stroke-width="0.9"/>
<line x1="401.3" y1="667.09" x2="406.3" y2="667.09" stroke="#000" stroke-width="0.9"/>
<text x="0" y="0" font-size="6.65" font-weight="bold" text-anchor="end" transform="translate(406,726.5) rotate(-45) scale(1,1.12)" stroke="#000" stroke-width="0.18">DNAJB6-R127S</text>
<line x1="422.5" y1="718.5" x2="422.5" y2="721.5" stroke="#777" stroke-width="0.9"/>
<rect x="416.5" y="671.5" width="12" height="47" fill="#fff" stroke="#000" stroke-width="1.3"/>
<line x1="422.4" y1="670.27" x2="422.4" y2="673.45" stroke="#000" stroke-width="0.9"/>
<line x1="419.9" y1="670.27" x2="424.9" y2="670.27" stroke="#000" stroke-width="0.9"/>
<line x1="419.9" y1="673.45" x2="424.9" y2="673.45" stroke="#000" stroke-width="0.9"/>
<text x="0" y="0" font-size="6.65" font-weight="bold" text-anchor="end" transform="translate(424.6,726.5) rotate(-45) scale(1,1.12)" stroke="#000" stroke-width="0.18">DNAJB6-R135Q</text>
<line x1="441.5" y1="718.5" x2="441.5" y2="721.5" stroke="#777" stroke-width="0.9"/>
<rect x="435.5" y="671.5" width="11" height="47" fill="#fff" stroke="#000" stroke-width="1.3"/>
<line x1="441" y1="670.8" x2="441" y2="671.86" stroke="#000" stroke-width="0.9"/>
<line x1="438.5" y1="670.8" x2="443.5" y2="670.8" stroke="#000" stroke-width="0.9"/>
<line x1="438.5" y1="671.86" x2="443.5" y2="671.86" stroke="#000" stroke-width="0.9"/>
<text x="0" y="0" font-size="6.65" font-weight="bold" text-anchor="end" transform="translate(443.2,726.5) rotate(-45) scale(1,1.12)" stroke="#000" stroke-width="0.18">DNAJB6-F157Y</text>
<polyline points="366.5,660 366.5,656.5 385.5,656.5 385.5,681" stroke="#222" stroke-width="1.15" fill="none"/>
<path d="M368.85,649.6L368.85,653.4M367.2,650.55L370.49,652.45M367.2,652.45L370.49,650.55" stroke="#000" stroke-width="1.2" stroke-linecap="round"/>
<circle cx="368.85" cy="651.5" r="0.85" fill="#000"/>
<path d="M373.62,649.6L373.62,653.4M371.97,650.55L375.26,652.45M371.97,652.45L375.26,650.55" stroke="#000" stroke-width="1.2" stroke-linecap="round"/>
<circle cx="373.62" cy="651.5" r="0.85" fill="#000"/>
<path d="M378.38,649.6L378.38,653.4M376.74,650.55L380.03,652.45M376.74,652.45L380.03,650.55" stroke="#000" stroke-width="1.2" stroke-linecap="round"/>
<circle cx="378.38" cy="651.5" r="0.85" fill="#000"/>
<path d="M383.15,649.6L383.15,653.4M381.51,650.55L384.8,652.45M381.51,652.45L384.8,650.55" stroke="#000" stroke-width="1.2" stroke-linecap="round"/>
<circle cx="383.15" cy="651.5" r="0.85" fill="#000"/>
<polyline points="366.5,646 366.5,642.5 422.5,642.5 422.5,665.3" stroke="#222" stroke-width="1.15" fill="none"/>
<path d="M387.35,635.3L387.35,639.1M385.7,636.25L388.99,638.15M385.7,638.15L388.99,636.25" stroke="#000" stroke-width="1.2" stroke-linecap="round"/>
<circle cx="387.35" cy="637.2" r="0.85" fill="#000"/>
<path d="M392.12,635.3L392.12,639.1M390.47,636.25L393.76,638.15M390.47,638.15L393.76,636.25" stroke="#000" stroke-width="1.2" stroke-linecap="round"/>
<circle cx="392.12" cy="637.2" r="0.85" fill="#000"/>
<path d="M396.88,635.3L396.88,639.1M395.24,636.25L398.53,638.15M395.24,638.15L398.53,636.25" stroke="#000" stroke-width="1.2" stroke-linecap="round"/>
<circle cx="396.88" cy="637.2" r="0.85" fill="#000"/>
<path d="M401.65,635.3L401.65,639.1M400.01,636.25L403.3,638.15M400.01,638.15L403.3,636.25" stroke="#000" stroke-width="1.2" stroke-linecap="round"/>
<circle cx="401.65" cy="637.2" r="0.85" fill="#000"/>
<polyline points="366.5,634 366.5,630.5 441.5,630.5 441.5,665.7" stroke="#222" stroke-width="1.15" fill="none"/>
<path d="M396.85,623.3L396.85,627.1M395.2,624.25L398.49,626.15M395.2,626.15L398.49,624.25" stroke="#000" stroke-width="1.2" stroke-linecap="round"/>
<circle cx="396.85" cy="625.2" r="0.85" fill="#000"/>
<path d="M401.62,623.3L401.62,627.1M399.97,624.25L403.26,626.15M399.97,626.15L403.26,624.25" stroke="#000" stroke-width="1.2" stroke-linecap="round"/>
<circle cx="401.62" cy="625.2" r="0.85" fill="#000"/>
<path d="M406.38,623.3L406.38,627.1M404.74,624.25L408.03,626.15M404.74,626.15L408.03,624.25" stroke="#000" stroke-width="1.2" stroke-linecap="round"/>
<circle cx="406.38" cy="625.2" r="0.85" fill="#000"/>
<path d="M411.15,623.3L411.15,627.1M409.51,624.25L412.8,626.15M409.51,626.15L412.8,624.25" stroke="#000" stroke-width="1.2" stroke-linecap="round"/>
<circle cx="411.15" cy="625.2" r="0.85" fill="#000"/>
<text x="0" y="0" font-size="7.5" font-weight="bold" text-anchor="middle" fill="#000" transform="translate(336.23,677.4) rotate(-90) scale(1,1.2)" stroke="#000" stroke-width="0.3">Relative Growth</text>
<line x1="508.5" y1="673.5" x2="658.9" y2="673.5" stroke="#3a3a3a" stroke-width="1.1" stroke-dasharray="1.3,1.0"/>
<line x1="508.5" y1="648.5" x2="508.5" y2="723.5" stroke="#777" stroke-width="0.9"/>
<line x1="505.5" y1="723.5" x2="658.9" y2="723.5" stroke="#777" stroke-width="0.9"/>
<line x1="505.5" y1="723.5" x2="508.5" y2="723.5" stroke="#777" stroke-width="0.9"/>
<text x="0" y="0" font-size="7" font-weight="bold" text-anchor="end" fill="#000" transform="translate(504.1,726.45) scale(1.06,1.22)" stroke="#000" stroke-width="0.3">0.0</text>
<line x1="505.5" y1="698.5" x2="508.5" y2="698.5" stroke="#777" stroke-width="0.9"/>
<text x="0" y="0" font-size="7" font-weight="bold" text-anchor="end" fill="#000" transform="translate(504.1,701.45) scale(1.06,1.22)" stroke="#000" stroke-width="0.3">0.5</text>
<line x1="505.5" y1="673.5" x2="508.5" y2="673.5" stroke="#777" stroke-width="0.9"/>
<text x="0" y="0" font-size="7" font-weight="bold" text-anchor="end" fill="#000" transform="translate(504.1,676.45) scale(1.06,1.22)" stroke="#000" stroke-width="0.3">1.0</text>
<line x1="505.5" y1="648.5" x2="508.5" y2="648.5" stroke="#777" stroke-width="0.9"/>
<text x="0" y="0" font-size="7" font-weight="bold" text-anchor="end" fill="#000" transform="translate(504.1,651.45) scale(1.06,1.22)" stroke="#000" stroke-width="0.3">1.5</text>
<line x1="520.5" y1="723.5" x2="520.5" y2="726.5" stroke="#777" stroke-width="0.9"/>
<rect x="514.5" y="673.5" width="11" height="50" fill="#fff" stroke="#000" stroke-width="1.3"/>
<line x1="520.2" y1="672.75" x2="520.2" y2="674.25" stroke="#000" stroke-width="0.9"/>
<line x1="517.7" y1="672.75" x2="522.7" y2="672.75" stroke="#000" stroke-width="0.9"/>
<line x1="517.7" y1="674.25" x2="522.7" y2="674.25" stroke="#000" stroke-width="0.9"/>
<text x="0" y="0" font-size="6.3" font-weight="bold" text-anchor="end" transform="translate(522.4,731.5) rotate(-45) scale(1,1.12)" stroke="#000" stroke-width="0.18">DNAJB6</text>
<line x1="538.5" y1="723.5" x2="538.5" y2="726.5" stroke="#777" stroke-width="0.9"/>
<rect x="532.5" y="677.5" width="11" height="46" fill="#fff" stroke="#000" stroke-width="1.3"/>
<line x1="538.3" y1="676.5" x2="538.3" y2="678.5" stroke="#000" stroke-width="0.9"/>
<line x1="535.8" y1="676.5" x2="540.8" y2="676.5" stroke="#000" stroke-width="0.9"/>
<line x1="535.8" y1="678.5" x2="540.8" y2="678.5" stroke="#000" stroke-width="0.9"/>
<text x="0" y="0" font-size="6.3" font-weight="bold" text-anchor="end" transform="translate(540.5,731.5) rotate(-45) scale(1,1.12)" stroke="#000" stroke-width="0.18">DNAJB6-R101E</text>
<line x1="556.5" y1="723.5" x2="556.5" y2="726.5" stroke="#777" stroke-width="0.9"/>
<rect x="550.5" y="679.5" width="11" height="44" fill="#fff" stroke="#000" stroke-width="1.3"/>
<line x1="556.3" y1="678.75" x2="556.3" y2="680.25" stroke="#000" stroke-width="0.9"/>
<line x1="553.8" y1="678.75" x2="558.8" y2="678.75" stroke="#000" stroke-width="0.9"/>
<line x1="553.8" y1="680.25" x2="558.8" y2="680.25" stroke="#000" stroke-width="0.9"/>
<text x="0" y="0" font-size="6.3" font-weight="bold" text-anchor="end" transform="translate(558.5,731.5) rotate(-45) scale(1,1.12)" stroke="#000" stroke-width="0.18">DNAJB6-R107D</text>
<line x1="574.5" y1="723.5" x2="574.5" y2="726.5" stroke="#777" stroke-width="0.9"/>
<rect x="568.5" y="677.5" width="11" height="46" fill="#fff" stroke="#000" stroke-width="1.3"/>
<line x1="574.3" y1="676.25" x2="574.3" y2="678.25" stroke="#000" stroke-width="0.9"/>
<line x1="571.8" y1="676.25" x2="576.8" y2="676.25" stroke="#000" stroke-width="0.9"/>
<line x1="571.8" y1="678.25" x2="576.8" y2="678.25" stroke="#000" stroke-width="0.9"/>
<text x="0" y="0" font-size="6.3" font-weight="bold" text-anchor="end" transform="translate(576.5,731.5) rotate(-45) scale(1,1.12)" stroke="#000" stroke-width="0.18">DNAJB6-F140D</text>
<line x1="592.5" y1="723.5" x2="592.5" y2="726.5" stroke="#777" stroke-width="0.9"/>
<rect x="587.5" y="673.5" width="11" height="50" fill="#fff" stroke="#000" stroke-width="1.3"/>
<line x1="592.9" y1="673" x2="592.9" y2="674" stroke="#000" stroke-width="0.9"/>
<line x1="590.4" y1="673" x2="595.4" y2="673" stroke="#000" stroke-width="0.9"/>
<line x1="590.4" y1="674" x2="595.4" y2="674" stroke="#000" stroke-width="0.9"/>
<text x="0" y="0" font-size="6.3" font-weight="bold" text-anchor="end" transform="translate(595.1,731.5) rotate(-45) scale(1,1.12)" stroke="#000" stroke-width="0.18">DNAJB6-G160D</text>
<line x1="610.5" y1="723.5" x2="610.5" y2="726.5" stroke="#777" stroke-width="0.9"/>
<rect x="605.5" y="667.5" width="11" height="56" fill="#fff" stroke="#000" stroke-width="1.3"/>
<line x1="610.9" y1="665" x2="610.9" y2="669" stroke="#000" stroke-width="0.9"/>
<line x1="608.4" y1="665" x2="613.4" y2="665" stroke="#000" stroke-width="0.9"/>
<line x1="608.4" y1="669" x2="613.4" y2="669" stroke="#000" stroke-width="0.9"/>
<text x="0" y="0" font-size="6.3" font-weight="bold" text-anchor="end" transform="translate(613.1,731.5) rotate(-45) scale(1,1.12)" stroke="#000" stroke-width="0.18">DNAJB6-G171D</text>
<line x1="629.5" y1="723.5" x2="629.5" y2="726.5" stroke="#777" stroke-width="0.9"/>
<rect x="623.5" y="662.5" width="11" height="61" fill="#fff" stroke="#000" stroke-width="1.3"/>
<line x1="629" y1="660" x2="629" y2="665" stroke="#000" stroke-width="0.9"/>
<line x1="626.5" y1="660" x2="631.5" y2="660" stroke="#000" stroke-width="0.9"/>
<line x1="626.5" y1="665" x2="631.5" y2="665" stroke="#000" stroke-width="0.9"/>
<text x="0" y="0" font-size="6.3" font-weight="bold" text-anchor="end" transform="translate(631.2,731.5) rotate(-45) scale(1,1.12)" stroke="#000" stroke-width="0.18">DNAJB6-G182E</text>
<line x1="647.5" y1="723.5" x2="647.5" y2="726.5" stroke="#777" stroke-width="0.9"/>
<rect x="641.5" y="667.5" width="11" height="56" fill="#fff" stroke="#000" stroke-width="1.3"/>
<line x1="647" y1="666.5" x2="647" y2="667.5" stroke="#000" stroke-width="0.9"/>
<line x1="644.5" y1="666.5" x2="649.5" y2="666.5" stroke="#000" stroke-width="0.9"/>
<line x1="644.5" y1="667.5" x2="649.5" y2="667.5" stroke="#000" stroke-width="0.9"/>
<text x="0" y="0" font-size="6.3" font-weight="bold" text-anchor="end" transform="translate(649.2,731.5) rotate(-45) scale(1,1.12)" stroke="#000" stroke-width="0.18">DNAJB6-S192T</text>
<polyline points="520.5,660 520.5,655.5 610.5,655.5 610.5,660.2" stroke="#222" stroke-width="1.15" fill="none"/>
<path d="M558.35,647.8L558.35,651.6M556.7,648.75L559.99,650.65M556.7,650.65L559.99,648.75" stroke="#000" stroke-width="1.2" stroke-linecap="round"/>
<circle cx="558.35" cy="649.7" r="0.85" fill="#000"/>
<path d="M563.12,647.8L563.12,651.6M561.47,648.75L564.76,650.65M561.47,650.65L564.76,648.75" stroke="#000" stroke-width="1.2" stroke-linecap="round"/>
<circle cx="563.12" cy="649.7" r="0.85" fill="#000"/>
<path d="M567.88,647.8L567.88,651.6M566.24,648.75L569.53,650.65M566.24,650.65L569.53,648.75" stroke="#000" stroke-width="1.2" stroke-linecap="round"/>
<circle cx="567.88" cy="649.7" r="0.85" fill="#000"/>
<path d="M572.65,647.8L572.65,651.6M571.01,648.75L574.3,650.65M571.01,650.65L574.3,648.75" stroke="#000" stroke-width="1.2" stroke-linecap="round"/>
<circle cx="572.65" cy="649.7" r="0.85" fill="#000"/>
<polyline points="520.5,647 520.5,642.5 629.5,642.5 629.5,655.2" stroke="#222" stroke-width="1.15" fill="none"/>
<path d="M567.85,635.3L567.85,639.1M566.2,636.25L569.49,638.15M566.2,638.15L569.49,636.25" stroke="#000" stroke-width="1.2" stroke-linecap="round"/>
<circle cx="567.85" cy="637.2" r="0.85" fill="#000"/>
<path d="M572.62,635.3L572.62,639.1M570.97,636.25L574.26,638.15M570.97,638.15L574.26,636.25" stroke="#000" stroke-width="1.2" stroke-linecap="round"/>
<circle cx="572.62" cy="637.2" r="0.85" fill="#000"/>
<path d="M577.38,635.3L577.38,639.1M575.74,636.25L579.03,638.15M575.74,638.15L579.03,636.25" stroke="#000" stroke-width="1.2" stroke-linecap="round"/>
<circle cx="577.38" cy="637.2" r="0.85" fill="#000"/>
<path d="M582.15,635.3L582.15,639.1M580.51,636.25L583.8,638.15M580.51,638.15L583.8,636.25" stroke="#000" stroke-width="1.2" stroke-linecap="round"/>
<circle cx="582.15" cy="637.2" r="0.85" fill="#000"/>
<polyline points="520.5,636 520.5,631.5 647.5,631.5 647.5,662.2" stroke="#222" stroke-width="1.15" fill="none"/>
<path d="M576.85,624.2L576.85,628M575.2,625.15L578.49,627.05M575.2,627.05L578.49,625.15" stroke="#000" stroke-width="1.2" stroke-linecap="round"/>
<circle cx="576.85" cy="626.1" r="0.85" fill="#000"/>
<path d="M581.62,624.2L581.62,628M579.97,625.15L583.26,627.05M579.97,627.05L583.26,625.15" stroke="#000" stroke-width="1.2" stroke-linecap="round"/>
<circle cx="581.62" cy="626.1" r="0.85" fill="#000"/>
<path d="M586.38,624.2L586.38,628M584.74,625.15L588.03,627.05M584.74,627.05L588.03,625.15" stroke="#000" stroke-width="1.2" stroke-linecap="round"/>
<circle cx="586.38" cy="626.1" r="0.85" fill="#000"/>
<path d="M591.15,624.2L591.15,628M589.51,625.15L592.8,627.05M589.51,627.05L592.8,625.15" stroke="#000" stroke-width="1.2" stroke-linecap="round"/>
<circle cx="591.15" cy="626.1" r="0.85" fill="#000"/>
<text x="0" y="0" font-size="7.07" font-weight="bold" text-anchor="middle" fill="#000" transform="translate(491.34,684.4) rotate(-90) scale(1,1.2)" stroke="#000" stroke-width="0.3">Relative Growth</text>
<text x="-0.9" y="776.5" font-size="13.5" font-weight="bold" text-anchor="start" fill="#000">d</text>
<text x="230.65" y="801.5" font-size="10.5" font-weight="bold" text-anchor="middle" fill="#000">FUS</text>
<line x1="68.3" y1="807.9" x2="401.7" y2="807.9" stroke="#000" stroke-width="1.8"/>
<defs><linearGradient id="gel" x1="0" y1="0" x2="0" y2="1"><stop offset="0" stop-color="#d6d6d6"/><stop offset="0.5" stop-color="#dadada"/><stop offset="1" stop-color="#d2d2d2"/></linearGradient><filter id="bl" x="-20%" y="-100%" width="140%" height="300%"><feGaussianBlur stdDeviation="0.9"/></filter><filter id="bl2" x="-20%" y="-100%" width="140%" height="300%"><feGaussianBlur stdDeviation="1.6"/></filter></defs>
<rect x="68.5" y="841" width="332.5" height="27.4" fill="url(#gel)"/>
<text x="88.2" y="820" font-size="10.5" font-weight="bold" text-anchor="middle" fill="#000">EYFP</text>
<line x1="68.2" y1="825" x2="117.4" y2="825" stroke="#000" stroke-width="1.6"/>
<text x="74.2" y="834.8" font-size="9" font-weight="bold" text-anchor="middle" fill="#000">RIPA</text>
<text x="101.8" y="834.8" font-size="9" font-weight="bold" text-anchor="middle" fill="#000">Urea</text>
<line x1="68.2" y1="838.9" x2="88.5" y2="838.9" stroke="#000" stroke-width="1.6"/>
<line x1="97.3" y1="838.9" x2="117.6" y2="838.9" stroke="#000" stroke-width="1.6"/>
<rect x="70.4" y="853" width="21.6" height="9" rx="3" fill="#000" opacity="0.09" filter="url(#bl2)"/>
<path d="M69.9,860.4 Q81.2,859 93,859.8 L93,865.6 Q81.2,867 69.9,866.4 Z" fill="#0d0d0d" filter="url(#bl)"/>
<path d="M100.4,850.5 L100.4,857.5 Q100.4,861 104.7,861 L112.9,861 Q117.2,861 117.2,857.5 L117.2,850.5" fill="none" stroke="#3a3a3a" stroke-width="3" opacity="0.6" filter="url(#bl2)"/>
<text x="144.98" y="820" font-size="10.5" font-weight="bold" text-anchor="middle" fill="#000">WT</text>
<line x1="124.98" y1="825" x2="174.18" y2="825" stroke="#000" stroke-width="1.6"/>
<text x="130.98" y="834.8" font-size="9" font-weight="bold" text-anchor="middle" fill="#000">RIPA</text>
<text x="158.58" y="834.8" font-size="9" font-weight="bold" text-anchor="middle" fill="#000">Urea</text>
<line x1="124.98" y1="838.9" x2="145.28" y2="838.9" stroke="#000" stroke-width="1.6"/>
<line x1="154.08" y1="838.9" x2="174.38" y2="838.9" stroke="#000" stroke-width="1.6"/>
<rect x="126.4" y="851.3" width="23.4" height="9" rx="3" fill="#000" opacity="0.09" filter="url(#bl2)"/>
<path d="M125.9,858.7 Q138.1,857.3 150.8,858.1 L150.8,863.9 Q138.1,865.3 125.9,864.7 Z" fill="#1a1a1a" filter="url(#bl)"/>
<path d="M156.4,850.5 L156.4,857.5 Q156.4,861 160.7,861 L169.9,861 Q174.2,861 174.2,857.5 L174.2,850.5" fill="none" stroke="#3a3a3a" stroke-width="3" opacity="0.28" filter="url(#bl2)"/>
<text x="201.76" y="820" font-size="10.5" font-weight="bold" text-anchor="middle" fill="#000">G160D</text>
<line x1="181.76" y1="825" x2="230.96" y2="825" stroke="#000" stroke-width="1.6"/>
<text x="187.76" y="834.8" font-size="9" font-weight="bold" text-anchor="middle" fill="#000">RIPA</text>
<text x="215.36" y="834.8" font-size="9" font-weight="bold" text-anchor="middle" fill="#000">Urea</text>
<line x1="181.76" y1="838.9" x2="202.06" y2="838.9" stroke="#000" stroke-width="1.6"/>
<line x1="210.86" y1="838.9" x2="231.16" y2="838.9" stroke="#000" stroke-width="1.6"/>
<rect x="183" y="850.6" width="23.4" height="9" rx="3" fill="#000" opacity="0.09" filter="url(#bl2)"/>
<path d="M182.5,858 Q194.7,856.6 207.4,857.4 L207.4,863.2 Q194.7,864.6 182.5,864 Z" fill="#3a3a3a" filter="url(#bl)"/>
<path d="M213.9,850.5 L213.9,857.5 Q213.9,861 218.2,861 L227.3,861 Q231.6,861 231.6,857.5 L231.6,850.5" fill="none" stroke="#3a3a3a" stroke-width="3" opacity="0.38" filter="url(#bl2)"/>
<text x="258.54" y="820" font-size="10.5" font-weight="bold" text-anchor="middle" fill="#000">G171D</text>
<line x1="238.54" y1="825" x2="287.74" y2="825" stroke="#000" stroke-width="1.6"/>
<text x="244.54" y="834.8" font-size="9" font-weight="bold" text-anchor="middle" fill="#000">RIPA</text>
<text x="272.14" y="834.8" font-size="9" font-weight="bold" text-anchor="middle" fill="#000">Urea</text>
<line x1="238.54" y1="838.9" x2="258.84" y2="838.9" stroke="#000" stroke-width="1.6"/>
<line x1="267.64" y1="838.9" x2="287.94" y2="838.9" stroke="#000" stroke-width="1.6"/>
<rect x="239" y="850.6" width="22.6" height="9" rx="3" fill="#000" opacity="0.09" filter="url(#bl2)"/>
<path d="M238.5,858 Q250.3,856.6 262.6,857.4 L262.6,863.2 Q250.3,864.6 238.5,864 Z" fill="#404040" filter="url(#bl)"/>
<path d="M269.1,850.5 L269.1,857.5 Q269.1,861 273.4,861 L281.6,861 Q285.9,861 285.9,857.5 L285.9,850.5" fill="none" stroke="#3a3a3a" stroke-width="3" opacity="0.14" filter="url(#bl2)"/>
<text x="315.32" y="820" font-size="10.5" font-weight="bold" text-anchor="middle" fill="#000">G182E</text>
<line x1="295.32" y1="825" x2="344.52" y2="825" stroke="#000" stroke-width="1.6"/>
<text x="301.32" y="834.8" font-size="9" font-weight="bold" text-anchor="middle" fill="#000">RIPA</text>
<text x="328.92" y="834.8" font-size="9" font-weight="bold" text-anchor="middle" fill="#000">Urea</text>
<line x1="295.32" y1="838.9" x2="315.62" y2="838.9" stroke="#000" stroke-width="1.6"/>
<line x1="324.42" y1="838.9" x2="344.72" y2="838.9" stroke="#000" stroke-width="1.6"/>
<rect x="297.4" y="850.9" width="19.9" height="9" rx="3" fill="#000" opacity="0.09" filter="url(#bl2)"/>
<path d="M296.9,858.3 Q307.35,856.9 318.3,857.7 L318.3,863.5 Q307.35,864.9 296.9,864.3 Z" fill="#222222" filter="url(#bl)"/>
<path d="M325.6,850.5 L325.6,857.5 Q325.6,861 329.9,861 L335.5,861 Q339.8,861 339.8,857.5 L339.8,850.5" fill="none" stroke="#3a3a3a" stroke-width="3" opacity="0.2" filter="url(#bl2)"/>
<text x="372.1" y="820" font-size="10.5" font-weight="bold" text-anchor="middle" fill="#000">S192T</text>
<line x1="352.1" y1="825" x2="401.3" y2="825" stroke="#000" stroke-width="1.6"/>
<text x="358.1" y="834.8" font-size="9" font-weight="bold" text-anchor="middle" fill="#000">RIPA</text>
<text x="385.7" y="834.8" font-size="9" font-weight="bold" text-anchor="middle" fill="#000">Urea</text>
<line x1="352.1" y1="838.9" x2="372.4" y2="838.9" stroke="#000" stroke-width="1.6"/>
<line x1="381.2" y1="838.9" x2="401.5" y2="838.9" stroke="#000" stroke-width="1.6"/>
<rect x="349" y="849" width="22.6" height="9" rx="3" fill="#000" opacity="0.09" filter="url(#bl2)"/>
<path d="M348.5,856.4 Q360.3,855 372.6,855.8 L372.6,861.6 Q360.3,863 348.5,862.4 Z" fill="#2a2a2a" filter="url(#bl)"/>
<path d="M379.1,850.5 L379.1,857.5 Q379.1,861 383.4,861 L389.9,861 Q394.2,861 394.2,857.5 L394.2,850.5" fill="none" stroke="#3a3a3a" stroke-width="3" opacity="0.22" filter="url(#bl2)"/>
<text x="28.7" y="845.2" font-size="10" font-weight="bold" text-anchor="middle" fill="#000">kDa</text>
<line x1="19.4" y1="846.8" x2="38.4" y2="846.8" stroke="#000" stroke-width="0.9"/>
<text x="28.6" y="862.6" font-size="10" font-weight="normal" text-anchor="middle" fill="#000">70</text>
<line x1="40.5" y1="861" x2="64.4" y2="861" stroke="#000" stroke-width="1.6"/>
<text x="373.8" y="881.8" font-size="10" font-weight="normal" text-anchor="middle" fill="#222">Anti-FUS</text>
<text x="410" y="777" font-size="13.5" font-weight="bold" text-anchor="start" fill="#000">e</text>
<line x1="496.5" y1="779.34" x2="496.5" y2="877.5" stroke="#111" stroke-width="0.9"/>
<line x1="493.5" y1="877.5" x2="643.3" y2="877.5" stroke="#111" stroke-width="0.9"/>
<line x1="493.5" y1="877.5" x2="496.5" y2="877.5" stroke="#111" stroke-width="0.9"/>
<text x="0" y="0" font-size="7" font-weight="bold" text-anchor="end" fill="#000" transform="translate(492.1,880.45) scale(1.06,1.22)" stroke="#000" stroke-width="0.3">0.0</text>
<line x1="493.5" y1="836.5" x2="496.5" y2="836.5" stroke="#111" stroke-width="0.9"/>
<text x="0" y="0" font-size="7" font-weight="bold" text-anchor="end" fill="#000" transform="translate(492.1,839.55) scale(1.06,1.22)" stroke="#000" stroke-width="0.3">0.5</text>
<line x1="493.5" y1="795.5" x2="496.5" y2="795.5" stroke="#111" stroke-width="0.9"/>
<text x="0" y="0" font-size="7" font-weight="bold" text-anchor="end" fill="#000" transform="translate(492.1,798.65) scale(1.06,1.22)" stroke="#000" stroke-width="0.3">1.0</text>
<line x1="511.5" y1="877.5" x2="511.5" y2="880.5" stroke="#111" stroke-width="0.9"/>
<rect x="504.5" y="795.5" width="14" height="82" fill="#fff" stroke="#000" stroke-width="1.6"/>
<circle cx="509.7" cy="795.7" r="0.9" fill="#000"/>
<circle cx="511.3" cy="795.7" r="0.9" fill="#000"/>
<circle cx="512.9" cy="795.7" r="0.9" fill="#000"/>
<text x="0" y="0" font-size="7.5" font-weight="bold" text-anchor="end" transform="translate(513.5,885.5) rotate(-45) scale(1,1.12)" stroke="#000" stroke-width="0.18">EYFP</text>
<line x1="535.5" y1="877.5" x2="535.5" y2="880.5" stroke="#111" stroke-width="0.9"/>
<rect x="528.5" y="845.5" width="14" height="32" fill="#fff" stroke="#000" stroke-width="1.6"/>
<line x1="535" y1="839.05" x2="535" y2="852.14" stroke="#000" stroke-width="0.9"/>
<line x1="531.2" y1="839.05" x2="538.8" y2="839.05" stroke="#000" stroke-width="0.9"/>
<line x1="531.2" y1="852.14" x2="538.8" y2="852.14" stroke="#000" stroke-width="0.9"/>
<circle cx="533.4" cy="851.32" r="0.9" fill="#000"/>
<circle cx="535" cy="843.14" r="0.9" fill="#000"/>
<circle cx="536.6" cy="844.78" r="0.9" fill="#000"/>
<text x="0" y="0" font-size="7.5" font-weight="bold" text-anchor="end" transform="translate(537.2,885.5) rotate(-45) scale(1,1.12)" stroke="#000" stroke-width="0.18">DNAJB6</text>
<line x1="558.5" y1="877.5" x2="558.5" y2="880.5" stroke="#111" stroke-width="0.9"/>
<rect x="551.5" y="843.5" width="14" height="34" fill="#fff" stroke="#000" stroke-width="1.6"/>
<line x1="558" y1="832.51" x2="558" y2="855.41" stroke="#000" stroke-width="0.9"/>
<line x1="554.2" y1="832.51" x2="561.8" y2="832.51" stroke="#000" stroke-width="0.9"/>
<line x1="554.2" y1="855.41" x2="561.8" y2="855.41" stroke="#000" stroke-width="0.9"/>
<circle cx="556.4" cy="852.96" r="0.9" fill="#000"/>
<circle cx="558" cy="838.24" r="0.9" fill="#000"/>
<circle cx="559.6" cy="840.69" r="0.9" fill="#000"/>
<text x="0" y="0" font-size="7.5" font-weight="bold" text-anchor="end" transform="translate(560.2,885.5) rotate(-45) scale(1,1.12)" stroke="#000" stroke-width="0.18">DNAJB6-G160D</text>
<line x1="581.5" y1="877.5" x2="581.5" y2="880.5" stroke="#111" stroke-width="0.9"/>
<rect x="574.5" y="863.5" width="14" height="14" fill="#fff" stroke="#000" stroke-width="1.6"/>
<line x1="581.4" y1="852.96" x2="581.4" y2="873.41" stroke="#000" stroke-width="0.9"/>
<line x1="577.6" y1="852.96" x2="585.2" y2="852.96" stroke="#000" stroke-width="0.9"/>
<line x1="577.6" y1="873.41" x2="585.2" y2="873.41" stroke="#000" stroke-width="0.9"/>
<circle cx="579.8" cy="867.68" r="0.9" fill="#000"/>
<circle cx="581.4" cy="866.87" r="0.9" fill="#000"/>
<circle cx="583" cy="857.05" r="0.9" fill="#000"/>
<text x="0" y="0" font-size="7.5" font-weight="bold" text-anchor="end" transform="translate(583.6,885.5) rotate(-45) scale(1,1.12)" stroke="#000" stroke-width="0.18">DNAJB6-G171D</text>
<line x1="604.5" y1="877.5" x2="604.5" y2="880.5" stroke="#111" stroke-width="0.9"/>
<rect x="597.5" y="870.5" width="14" height="7" fill="#fff" stroke="#000" stroke-width="1.6"/>
<line x1="604.2" y1="863.59" x2="604.2" y2="877.5" stroke="#000" stroke-width="0.9"/>
<line x1="600.4" y1="863.59" x2="608" y2="863.59" stroke="#000" stroke-width="0.9"/>
<line x1="600.4" y1="877.5" x2="608" y2="877.5" stroke="#000" stroke-width="0.9"/>
<circle cx="602.6" cy="873.41" r="0.9" fill="#000"/>
<circle cx="604.2" cy="874.23" r="0.9" fill="#000"/>
<circle cx="605.8" cy="867.68" r="0.9" fill="#000"/>
<text x="0" y="0" font-size="7.5" font-weight="bold" text-anchor="end" transform="translate(606.4,885.5) rotate(-45) scale(1,1.12)" stroke="#000" stroke-width="0.18">DNAJB6-G182E</text>
<line x1="627.5" y1="877.5" x2="627.5" y2="880.5" stroke="#111" stroke-width="0.9"/>
<rect x="620.5" y="866.5" width="14" height="11" fill="#fff" stroke="#000" stroke-width="1.6"/>
<line x1="627.2" y1="860.32" x2="627.2" y2="873.41" stroke="#000" stroke-width="0.9"/>
<line x1="623.4" y1="860.32" x2="631" y2="860.32" stroke="#000" stroke-width="0.9"/>
<line x1="623.4" y1="873.41" x2="631" y2="873.41" stroke="#000" stroke-width="0.9"/>
<circle cx="625.6" cy="870.96" r="0.9" fill="#000"/>
<circle cx="627.2" cy="862.78" r="0.9" fill="#000"/>
<circle cx="628.8" cy="867.68" r="0.9" fill="#000"/>
<text x="0" y="0" font-size="7.5" font-weight="bold" text-anchor="end" transform="translate(629.4,885.5) rotate(-45) scale(1,1.12)" stroke="#000" stroke-width="0.18">DNAJB6-S192T</text>
<polyline points="535.5,812 535.5,795.5 627.5,795.5 627.5,859.3" stroke="#222" stroke-width="1.15" fill="none"/>
<path d="M581.5,786.1L581.5,790.5M579.59,787.2L583.41,789.4M579.59,789.4L583.41,787.2" stroke="#000" stroke-width="1.2" stroke-linecap="round"/>
<circle cx="581.5" cy="788.3" r="0.99" fill="#000"/>
<polyline points="535.5,825.7 535.5,819.5 604.5,819.5 604.5,862.8" stroke="#222" stroke-width="1.15" fill="none"/>
<path d="M570,810.4L570,814.8M568.09,811.5L571.91,813.7M568.09,813.7L571.91,811.5" stroke="#000" stroke-width="1.2" stroke-linecap="round"/>
<circle cx="570" cy="812.6" r="0.99" fill="#000"/>
<text x="0" y="0" font-size="7.5" font-weight="bold" text-anchor="middle" fill="#000" transform="translate(473.23,830) rotate(-90) scale(1,1.2)" stroke="#000" stroke-width="0.3"></text>
<text x="0" y="0" font-size="7.8" font-weight="bold" text-anchor="middle" fill="#000" transform="translate(468.7,828.5) rotate(-90) scale(1,1.2)" stroke="#000" stroke-width="0.3">Normalized</text>
<text x="0" y="0" font-size="7.7" font-weight="bold" text-anchor="middle" fill="#000" transform="translate(478.4,828.3) rotate(-90) scale(1,1.2)" stroke="#000" stroke-width="0.3">Urea/Total Protein</text></svg>
</body></html>
